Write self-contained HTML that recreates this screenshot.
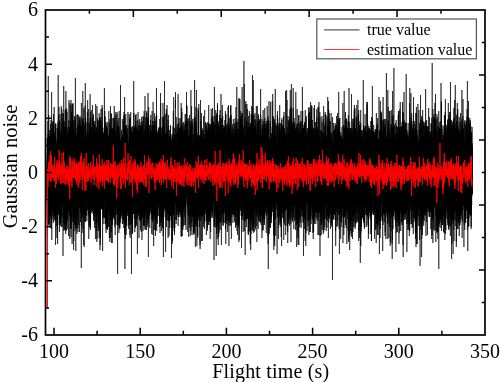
<!DOCTYPE html>
<html><head><meta charset="utf-8"><style>
html,body{margin:0;padding:0;background:#fff;width:500px;height:382px;overflow:hidden}
svg{display:block;will-change:transform}
text{font-family:"Liberation Serif",serif;fill:#000}
</style></head><body>
<svg width="500" height="382" viewBox="0 0 500 382">
<g>
<path transform="matrix(0.017240 0 0 1 47.018 0)" d="M0 172l 1-7 1 15 1 15 1-11 1 14 1-27 1-33 1 47 1 3 1-28 1 3 1 7 1 26 1-23 1-18 1 52 1-23 1 37 1-15 1 14 1-41 1 26 1-39 1 2 1 9 1 60 1-51 1-12 1-4 1 42 1-27 1 13 1-5 1-48 1 48 1-20 1-23 1 38 1-13 1-5 1 1 1 33 1-33 1-33 1 74 1-62 1 19 1 20 1-68 1 32 1 50 1-32 1-13 1 19 1-22 1 19 1-19 1-20 1 55 1-23 1 17 1-15 1 34 1-16 1-9 1-29 1-6 1 64 1-14 1-37 1 68 1-40 1-89 1-19 1 7 1 98 1 1 1-3 1-46 1 51 1-4 1-17 1 13 1 2 1 23 1-28 1 11 1-42 1 14 1 17 1-18 1 26 1-36 1 28 1-16 1 49 1-42 1 52 1 9 1-45 1 16 1-28 1-53 1 79 1-5 1-22 1-7 1 17 1 1 1-24 1 5 1 40 1-24 1-3 1 28 1-34 1 29 1-48 1 21 1 2 1 18 1-12 1 48 1-22 1-39 1 64 1-76 1 66 1-64 1 41 1-42 1 17 1 43 1-72 1-5 1 39 1 6 1-3 1 21 1-54 1 42 1-12 1 19 1-4 1 16 1-65 1 36 1-28 1 24 1 18 1-9 1 6 1-15 1 10 1-2 1 28 1-15 1-63 1 60 1 10 1-36 1-28 1 74 1-32 1 11 1 29 1-64 1 19 1-2 1 21 1-31 1 25 1-10 1 25 1 3 1-66 1 48 1-21 1 8 1 11 1 2 1-30 1 24 1-4 1-4 1-30 1 13 1 8 1 24 1 21 1-60 1 0 1 28 1-17 1-7 1-1 1-2 1 35 1-50 1 71 1-55 1 10 1-10 1-26 1 10 1 68 1 14 1-65 1 48 1-26 1-22 1 64 1 12 1-61 1 5 1 8 1-7 1 23 1 16 1-34 1 21 1 17 1-56 1 15 1-12 1 36 1-9 1 9 1-3 1-28 1 26 1-30 1 1 1-44 1 88 1-58 1 25 1-2 1 37 1-26 1-31 1 22 1-5 1 10 1-37 1 30 1 56 1-39 1 33 1-1 1-36 1-48 1 33 1 32 1-6 1-54 1 25 1 3 1 3 1-2 1-20 1 6 1 9 1 32 1-91 1-16 1 5 1 108 1-29 1-3 1 34 1-79 1 7 1 49 1-31 1 10 1 77 1-74 1 8 1-4 1 30 1-21 1-2 1-35 1 22 1 9 1-40 1 54 1-4 1 36 1-87 1 16 1 1 1 6 1 15 1-3 1 12 1-1 1-7 1-37 1 24 1 16 1 13 1 2 1-58 1 28 1 12 1 10 1 20 1-27 1-24 1 33 1-5 1 0 1-8 1 43 1-34 1 15 1-44 1 42 1-34 1-25 1 48 1 7 1-20 1 5 1 25 1-37 1-40 1 58 1-1 1 21 1-35 1 41 1-4 1-61 1 56 1-51 1-12 1 33 1-8 1-36 1 56 1 10 1 19 1-36 1-37 1 14 1 49 1-2 1-10 1-20 1 13 1-11 1-2 1 15 1-6 1-7 1 8 1-15 1-36 1 33 1 14 1 45 1-53 1 60 1-14 1-58 1 3 1 22 1 40 1-34 1 8 1-34 1-42 1 53 1 26 1 10 1-29 1 3 1 25 1-32 1 32 1-58 1 1 1 0 1 40 1-26 1 17 1 7 1-2 1 25 1 4 1-58 1 25 1-10 1-20 1 70 1-24 1-25 1-6 1 20 1-36 1 21 1 37 1-8 1-44 1 9 1 60 1-83 1 19 1-19 1 44 1-2 1 21 1-94 1 70 1-45 1 57 1-21 1 48 1-34 1-35 1 58 1-60 1 19 1 35 1-14 1-1 1-10 1 12 1 8 1-14 1 19 1 7 1-32 1-24 1 62 1-40 1 17 1 9 1-47 1 35 1-52 1 59 1-30 1 15 1 14 1-35 1 19 1-19 1 17 1 26 1-25 1-4 1-23 1 48 1-22 1 43 1-61 1 44 1 19 1-45 1-30 1 68 1-12 1-8 1 10 1-39 1 30 1-2 1-34 1 35 1-31 1 36 1 7 1 16 1-95 1 56 1-15 1 7 1-5 1 3 1-48 1 76 1 14 1-14 1 8 1-54 1-2 1 46 1 11 1-26 1-45 1 108 1-86 1 41 1-54 1 54 1-20 1 31 1-13 1-61 1 14 1 32 1 12 1 26 1-38 1-10 1 2 1 0 1 26 1-27 1-1 1-34 1-15 1 52 1 16 1-18 1 14 1 4 1-18 1 25 1-42 1 18 1-9 1 11 1 14 1 6 1-18 1 8 1-21 1 7 1 35 1-37 1 36 1-19 1-8 1 46 1-56 1-1 1 8 1 6 1-1 1 16 1-19 1 8 1-17 1 33 1-37 1 3 1 7 1 8 1-26 1 57 1-54 1 5 1-1 1-2 1 26 1-10 1-23 1 5 1 6 1 44 1-52 1-17 1 5 1 19 1 47 1-65 1 28 1 62 1-75 1 48 1-5 1-17 1-49 1 42 1-16 1-38 1 3 1 44 1 4 1 26 1-15 1-28 1 0 1 8 1-23 1 45 1-18 1-20 1 3 1-12 1 17 1 18 1-17 1 35 1 17 1-57 1 16 1-9 1 51 1-34 1 6 1 7 1 36 1-50 1-32 1 14 1 25 1-15 1-20 1 91 1-68 1-17 1-4 1-26 1 14 1 21 1 1 1-13 1 34 1-12 1-25 1-27 1 55 1-3 1-7 1-29 1 35 1-38 1 62 1-20 1 1 1-26 1-6 1 65 1-15 1-32 1 25 1 23 1-66 1 14 1 0 1 25 1-91 1-19 1 7 1 114 1-2 1-27 1 24 1-36 1 11 1 30 1-25 1 11 1-33 1 40 1-5 1-43 1-26 1 6 1 50 1-4 1-34 1 43 1 22 1-29 1-8 1 33 1 21 1-6 1-54 1 37 1-16 1-9 1-10 1 24 1-21 1 35 1-13 1 17 1-56 1 30 1 19 1-10 1-4 1-24 1 60 1-15 1-17 1-75 1 41 1 27 1-21 1-34 1 59 1 3 1-41 1 19 1-5 1 31 1-63 1 6 1 29 1-3 1 70 1-69 1 21 1-16 1-6 1 26 1 35 1-53 1 29 1-11 1 7 1-7 1 51 1-91 1 25 1-22 1-22 1 50 1 47 1-24 1 9 1-19 1-15 1 54 1-60 1 47 1-46 1 10 1 6 1-7 1 12 1 2 1 28 1-43 1-48 1-3 1 16 1 16 1 36 1-55 1 39 1 0 1 6 1-10 1 14 1-9 1 25 1-18 1-68 1 60 1 5 1-20 1-5 1 47 1-23 1-29 1 17 1 3 1-36 1 57 1-20 1 16 1-52 1 89 1-33 1-4 1-31 1 2 1-20 1 76 1-60 1 27 1 10 1-31 1 37 1 30 1-44 1 29 1-22 1-26 1 1 1-32 1 46 1 34 1-20 1 4 1 8 1-43 1 28 1 34 1-68 1 20 1-12 1 7 1-14 1 16 1-31 1 21 1 0 1 0 1 48 1-33 1 2 1-12 1 40 1-77 1 40 1 34 1 12 1-36 1-5 1 16 1-21 1 19 1-31 1 33 1-18 1-26 1-41 1 92 1-14 1 10 1-42 1 50 1-17 1-12 1 25 1-1 1-12 1 42 1-17 1-27 1-14 1 8 1 41 1-34 1-32 1 6 1 17 1 20 1-39 1 31 1 16 1-10 1-58 1 32 1-24 1 42 1-37 1 40 1-11 1-68 1 44 1 32 1-10 1-11 1-23 1 44 1 32 1-37 1-8 1-2 1-31 1 25 1-12 1 49 1-51 1-31 1 34 1 13 1 3 1-42 1 69 1-21 1-14 1-8 1 31 1-19 1 15 1-11 1 7 1 26 1-29 1-23 1 47 1-18 1-24 1 45 1-32 1 32 1-57 1-30 1 7 1 58 1-25 1 16 1 1 1-37 1 73 1-61 1 29 1-38 1 32 1 22 1-25 1-11 1 18 1-12 1 26 1 41 1-78 1 6 1 14 1 2 1-25 1 38 1 55 1 17 1-6 1-42 1-66 1 47 1 12 1-61 1 35 1 31 1-24 1-33 1-7 1 41 1-21 1-8 1 35 1-26 1 10 1 13 1-1 1-14 1 1 1 15 1-4 1-39 1 23 1-17 1-8 1 15 1-43 1 80 1-42 1 29 1-56 1 4 1 94 1-26 1-42 1-3 1 2 1-50 1-18 1 6 1 83 1-29 1 85 1-75 1 43 1-51 1 30 1 17 1-32 1 33 1 0 1 17 1-40 1-13 1-14 1 30 1-30 1 26 1 3 1-17 1-13 1 36 1-2 1-2 1-7 1 26 1-50 1 37 1-22 1 33 1-31 1-1 1 21 1-62 1 42 1-36 1 21 1 42 1-8 1-21 1 10 1 0 1 9 1 39 1-41 1 52 1-67 1 28 1 0 1-13 1-13 1 44 1 8 1-17 1 25 1-28 1-65 1 68 1-44 1 52 1-43 1 16 1-7 1-16 1-31 1 40 1 2 1 29 1-41 1 22 1-28 1 23 1-46 1 96 1-44 1-30 1 32 1 11 1-14 1 29 1-39 1-59 1 33 1 58 1-6 1-12 1-36 1 47 1-4 1-40 1 0 1 32 1 19 1 11 1-22 1 40 1-77 1 36 1-29 1-36 1 18 1 60 1-52 1-7 1 49 1 5 1-22 1 39 1-79 1 99 1-33 1-22 1-1 1-10 1-2 1 12 1-35 1 85 1-55 1 18 1-22 1-2 1 29 1-7 1-82 1-16 1 5 1 24 1-7 1 97 1-45 1-57 1 44 1 15 1 11 1 8 1-8 1 9 1-34 1 30 1 1 1 19 1-29 1 22 1-19 1-31 1 17 1-3 1 3 1 8 1 5 1 4 1-27 1 47 1-62 1 34 1 20 1-7 1 5 1-22 1 23 1-48 1 50 1 38 1-40 1 33 1-50 1-29 1 11 1 51 1-15 1-65 1 37 1 8 1-27 1-36 1 30 1 30 1-6 1-6 1 31 1 12 1-29 1 26 1-23 1-4 1-58 1 82 1-18 1 1 1-16 1-15 1 39 1 9 1 21 1-19 1-37 1 12 1 28 1-17 1-10 1-12 1 28 1-9 1 40 1-17 1-71 1 98 1-48 1-14 1 15 1 11 1-19 1-1 1 2 1 46 1-45 1 19 1-8 1-20 1-11 1-7 1 36 1-36 1-7 1 1 1-6 1 39 1 1 1-26 1 57 1-41 1 19 1-4 1 35 1-22 1-22 1-23 1-3 1 28 1 2 1 17 1-32 1 17 1-22 1-30 1 46 1 38 1-16 1 15 1-7 1-64 1 28 1 45 1-56 1-16 1 42 1 8 1-9 1-16 1-9 1-14 1-1 1 1 1-5 1 18 1 57 1-36 1-12 1 18 1-33 1 33 1 14 1-61 1 20 1 12 1-18 1-4 1 19 1 72 1-46 1-6 1 14 1-31 1-25 1 43 1 17 1-82 1 64 1 20 1-38 1-4 1 29 1-39 1 33 1 11 1-28 1-15 1 36 1-25 1 11 1-75 1 91 1-54 1 37 1 2 1-22 1-5 1-9 1 24 1 24 1-2 1-27 1-1 1-21 1 25 1-17 1-12 1 35 1 43 1-8 1 6 1-77 1 62 1-53 1 16 1-29 1 19 1 28 1 3 1-8 1-2 1 18 1-13 1-42 1 85 1-50 1 30 1-28 1-17 1 23 1-21 1 60 1-69 1 44 1-32 1 12 1 71 1-47 1-25 1-34 1 32 1 1 1 43 1-73 1-10 1 46 1 6 1 36 1-64 1-47 1 51 1-14 1 19 1 39 1-60 1 66 1-26 1-13 1-15 1 12 1 1 1 29 1 14 1-35 1 20 1 15 1-1 1-20 1 35 1-13 1 8 1-47 1-6 1-41 1 90 1-21 1-41 1 29 1 3 1-52 1 52 1 21 1 4 1-42 1 1 1 43 1-10 1-39 1-1 1 31 1-33 1 2 1 60 1-37 1-19 1 25 1 41 1-48 1-27 1-21 1 97 1-124 1 97 1-54 1-7 1 6 1 22 1 33 1-46 1 35 1 46 1-137 1 54 1-28 1 70 1-61 1-3 1 1 1 40 1 30 1-26 1 52 1-13 1-46 1 28 1-21 1-2 1-52 1 16 1 35 1-33 1 52 1-12 1-32 1 55 1-24 1 26 1-37 1-39 1 62 1-25 1 29 1 6 1 2 1-69 1-23 1 48 1 31 1-37 1 27 1-29 1 13 1 0 1-8 1 30 1-4 1 34 1-33 1 25 1-33 1 21 1-27 1-9 1 48 1-16 1 4 1-44 1-24 1 22 1 30 1-46 1 76 1-77 1 55 1 55 1-140 1 28 1 67 1-31 1 10 1-8 1 41 1-21 1-30 1 7 1-25 1 28 1-58 1 79 1-25 1 56 1-17 1-67 1 59 1-38 1 15 1 25 1-18 1 5 1-1 1-32 1 3 1 31 1 9 1-31 1 10 1-29 1-42 1 47 1 22 1 4 1 18 1 1 1 2 1-15 1 0 1-30 1 30 1-5 1 26 1-74 1 29 1-33 1 26 1-18 1 45 1-25 1-51 1 101 1-62 1-13 1 33 1-9 1-13 1 50 1-28 1 33 1-5 1-1 1-13 1-7 1-8 1 49 1-90 1 22 1 11 1 29 1-7 1-17 1 4 1 55 1-64 1 22 1 46 1-75 1 17 1 12 1-39 1 68 1-36 1 66 1 16 1-5 1-76 1 15 1-52 1 64 1-47 1 57 1-51 1 20 1 66 1-68 1 28 1-17 1-52 1 70 1-1 1-67 1 35 1-37 1 32 1 32 1-22 1-34 1 8 1 24 1-1 1 4 1 13 1-67 1 51 1 30 1-17 1-32 1 3 1 20 1 14 1-18 1 45 1-10 1-56 1 34 1-22 1-23 1 15 1 17 1-56 1 39 1 27 1-29 1 9 1 33 1-24 1 6 1 48 1-48 1 3 1 4 1 32 1-34 1-8 1-4 1 33 1-47 1 49 1-27 1-40 1 53 1-5 1-42 1 39 1-3 1-13 1-22 1 86 1-37 1 5 1 2 1-6 1 0 1-30 1 31 1-27 1-7 1 30 1-23 1-40 1 35 1 25 1-15 1 23 1-32 1-15 1 44 1-16 1-35 1 43 1-18 1 31 1-5 1-8 1-69 1 66 1-87 1-18 1 6 1 72 1 12 1-48 1 47 1-32 1 30 1-8 1 53 1-34 1-2 1 5 1 49 1-78 1 32 1 2 1-5 1-1 1-16 1 43 1-9 1-31 1 70 1 16 1-5 1-52 1-20 1-32 1 58 1-67 1 18 1 33 1-32 1 58 1 7 1-11 1-23 1-2 1 5 1-16 1 57 1-67 1 49 1-19 1-7 1 19 1 6 1-10 1-25 1-16 1 1 1 40 1-5 1 3 1-35 1 64 1-84 1 44 1 8 1-29 1-18 1 18 1-19 1 24 1-28 1-1 1 35 1-40 1 33 1 2 1 26 1-16 1-28 1 54 1-50 1 8 1 1 1 64 1-54 1-19 1 36 1-22 1 64 1-79 1 35 1-40 1 70 1-65 1 24 1-27 1 44 1-8 1-73 1 79 1-3 1-11 1 19 1-57 1-14 1 63 1 26 1-75 1 2 1 7 1-8 1 52 1-18 1 31 1 1 1-62 1 43 1-76 1 57 1 18 1-37 1-26 1 34 1 44 1-41 1-26 1 48 1 7 1-46 1 23 1 32 1-19 1 10 1-27 1 5 1-27 1 11 1 59 1-51 1-13 1 12 1-15 1 41 1 10 1-48 1 51 1 28 1-82 1 45 1-11 1 28 1-1 1-5 1-20 1-19 1 69 1-79 1 50 1-3 1-45 1 19 1 38 1-87 1 70 1-29 1 1 1-31 1 48 1-37 1 45 1-48 1 48 1-10 1-58 1 40 1 6 1-55 1 48 1 30 1-39 1 49 1-60 1-2 1 46 1 2 1-21 1 4 1 26 1-40 1 67 1-41 1-1 1-3 1-15 1 39 1-47 1 20 1 12 1 19 1-5 1-40 1 34 1-26 1-26 1 1 1-14 1 48 1 20 1-54 1 19 1-21 1 28 1-30 1 9 1 3 1 6 1 2 1 5 1 0 1-20 1 39 1-58 1 47 1-28 1 28 1 4 1-59 1 60 1 25 1-14 1-10 1-64 1 50 1-19 1 50 1-35 1-8 1-29 1 64 1-33 1 8 1 34 1-26 1 6 1 53 1-75 1 2 1 25 1 23 1-73 1 32 1-20 1-10 1 50 1-34 1 27 1-5 1 1 1-2 1-29 1 25 1 7 1 4 1-16 1 32 1-11 1-11 1 13 1-11 1 12 1-67 1 17 1 23 1 13 1-58 1 48 1 11 1-10 1 0 1-29 1 37 1-55 1 77 1-40 1 43 1-72 1 55 1-7 1-25 1-9 1 61 1-20 1 27 1-39 1 6 1 6 1 9 1-8 1 10 1-33 1-26 1 89 1-47 1 8 1-23 1 37 1-21 1 23 1-44 1 15 1 7 1-14 1 16 1 33 1-55 1 8 1 11 1-29 1-6 1 60 1-8 1-60 1 3 1 55 1 12 1-14 1-4 1 28 1-41 1 33 1-1 1-55 1 41 1-16 1-18 1-4 1 29 1-10 1 23 1-66 1 28 1 45 1-29 1-18 1 6 1-35 1 12 1 112 1 19 1-7 1-95 1 3 1-66 1 67 1 56 1-36 1-20 1 35 1-10 1-13 1-18 1 13 1 18 1-43 1 34 1-1 1 23 1-15 1-37 1 58 1-40 1-20 1 28 1-16 1 35 1-62 1 5 1 22 1 52 1-19 1-52 1-19 1 37 1-25 1 48 1-11 1-5 1-10 1 50 1-64 1-10 1 64 1 5 1-44 1 26 1 44 1-81 1 16 1 17 1-67 1 51 1 23 1-22 1 29 1-7 1-29 1 24 1-3 1-54 1 20 1 2 1 7 1 1 1-25 1 38 1-48 1 72 1-18 1 29 1-27 1-22 1-24 1 55 1-18 1 10 1 10 1 11 1-32 1 46 1-47 1 2 1 17 1 10 1 9 1-101 1-16 1 5 1 61 1 25 1 20 1-56 1-18 1 69 1-17 1-35 1 19 1-43 1 66 1-28 1 46 1-86 1 72 1 38 1-53 1 0 1-53 1 58 1-8 1-16 1-25 1 42 1-28 1 13 1 21 1-9 1 1 1 24 1-55 1 67 1-66 1 6 1 27 1 17 1-14 1-18 1-7 1 12 1-18 1 40 1-21 1 47 1-60 1 16 1 14 1-40 1 12 1 90 1-74 1 39 1-65 1-37 1 78 1-15 1 8 1-16 1-7 1-17 1 59 1-66 1 64 1-31 1-22 1 11 1 43 1-6 1-7 1-10 1-31 1 63 1-46 1-3 1 1 1 3 1-28 1 27 1 72 1 15 1-5 1-21 1-81 1 39 1 1 1 17 1 24 1-39 1 8 1-30 1 50 1-74 1 30 1 13 1 12 1 2 1 9 1-15 1-15 1 5 1 32 1-30 1 16 1-27 1-43 1 31 1 25 1 33 1-5 1 7 1-62 1 38 1-21 1 18 1-19 1-34 1 54 1-9 1 12 1-43 1 49 1 3 1 6 1 1 1-49 1-54 1 92 1-50 1 18 1 35 1-21 1-2 1 12 1-67 1 99 1-59 1 1 1 23 1-18 1-19 1 19 1-7 1-61 1-18 1 6 1 25 1 33 1-1 1 63 1-33 1 17 1-5 1-40 1 45 1-17 1 46 1-45 1-7 1 21 1 0 1-67 1 80 1-4 1-7 1-51 1-24 1 46 1 27 1-7 1-39 1 51 1-61 1 1 1 35 1-15 1-3 1-20 1 67 1-58 1 40 1 10 1-22 1 8 1 20 1 16 1-17 1-62 1-13 1 34 1-14 1 44 1-12 1-9 1 35 1-2 1-28 1 11 1 19 1-37 1 16 1-33 1 27 1 7 1-11 1 8 1 13 1-7 1-30 1 3 1-17 1 77 1-33 1 0 1-15 1 16 1 2 1-34 1 16 1 35 1-65 1 9 1 40 1-36 1 40 1-47 1 34 1 15 1-11 1 10 1-24 1 0 1 4 1 15 1-9 1-8 1 51 1-55 1-23 1 22 1 18 1-6 1-1 1 11 1 1 1 8 1-54 1 31 1-25 1 31 1-8 1 6 1-16 1-10 1 15 1 24 1 3 1-63 1 50 1 0 1-45 1 10 1 14 1 24 1-71 1 50 1-4 1 19 1 32 1-2 1-45 1 0 1 17 1 24 1 7 1-29 1 29 1-61 1-6 1-43 1 50 1 38 1 7 1-41 1 34 1-11 1-29 1 9 1 0 1 10 1-12 1-20 1 65 1-16 1 24 1-77 1 8 1 14 1 50 1-35 1 11 1-9 1 7 1-18 1 24 1-32 1 15 1 14 1-5 1 9 1-32 1 27 1-14 1 18 1 28 1-62 1 51 1-45 1 7 1 53 1-18 1-11 1 8 1 9 1-50 1 26 1-16 1 21 1-19 1 27 1-19 1-15 1 13 1 13 1 16 1-32 1-4 1 15 1 13 1-33 1-50 1 71 1-16 1-1 1 76 1-70 1 22 1-54 1 42 1 14 1-15 1-10 1 19 1-13 1 33 1-29 1-25 1-31 1 32 1 12 1-24 1 4 1-16 1 15 1 31 1-10 1 2 1-3 1 2 1 26 1 34 1-37 1 35 1-54 1 1 1 44 1-61 1-5 1 20 1-40 1-6 1 80 1-58 1 15 1 1 1-14 1 43 1-3 1 6 1-2 1-17 1 35 1-11 1-41 1 16 1-11 1 58 1-28 1-6 1-15 1 16 1-40 1 26 1-2 1 0 1-18 1 31 1-41 1 17 1 8 1 2 1-12 1-13 1 2 1 15 1-13 1 19 1-29 1 33 1 53 1-88 1-29 1-15 1 5 1 96 1-77 1 42 1 53 1-55 1 25 1-60 1 77 1 30 1-59 1 10 1 2 1 45 1-66 1-33 1 93 1-80 1 45 1-75 1 49 1 16 1-33 1 15 1 29 1-34 1 32 1 33 1-99 1 61 1 7 1-24 1 49 1-6 1-22 1 1 1-15 1-27 1 41 1-25 1-3 1 43 1-33 1 30 1-52 1 16 1 11 1 35 1-37 1 22 1-38 1 22 1 17 1-44 1 5 1 34 1-45 1 37 1 0 1-11 1 23 1-8 1-7 1-44 1 1 1 45 1-48 1 43 1-11 1-13 1 15 1-55 1 56 1 37 1-64 1 44 1-3 1 9 1-42 1 4 1 1 1-5 1-18 1 45 1-26 1 44 1-10 1-37 1 17 1 45 1-44 1 14 1 17 1-33 1 22 1 30 1-12 1-74 1 84 1-44 1-10 1-1 1 48 1-23 1-12 1-17 1 37 1 13 1-55 1-3 1 19 1 25 1-26 1 8 1-19 1 54 1-35 1 7 1 24 1-34 1 5 1 11 1-21 1 47 1-35 1-13 1 4 1-20 1 58 1 8 1-45 1-5 1-43 1 39 1 38 1-43 1 42 1 17 1-106 1 59 1-10 1 4 1-32 1 39 1-24 1 58 1 9 1-72 1-1 1 24 1 8 1 1 1 22 1-57 1 23 1 3 1 4 1-17 1 14 1-7 1 50 1-44 1-43 1 70 1-10 1-26 1-2 1 8 1 58 1-54 1 43 1-9 1-36 1 22 1-28 1 29 1-28 1 1 1 42 1-7 1 11 1-14 1 15 1-12 1-11 1 20 1 11 1-1 1-47 1 10 1-25 1 0 1 35 1-26 1 55 1-96 1 28 1 36 1 24 1-39 1 58 1-28 1-40 1 18 1 14 1-37 1 51 1-34 1 20 1 9 1-33 1 37 1-74 1 64 1-67 1 80 1-44 1 46 1 4 1-39 1-13 1 50 1-63 1 51 1-24 1-6 1-6 1 62 1-88 1 27 1 25 1 16 1 17 1-8 1-50 1 23 1 21 1-16 1-54 1 49 1 7 1-50 1 23 1 10 1 17 1 24 1-9 1-18 1-7 1-15 1-5 1 9 1 0 1 31 1 30 1-42 1 11 1-8 1-9 1 24 1-3 1-26 1-5 1 19 1-29 1 18 1 21 1-28 1-47 1 66 1-48 1-5 1-3 1 60 1-73 1 49 1 9 1-1 1-21 1 14 1 6 1-38 1 52 1 8 1-47 1 2 1-10 1 56 1-55 1 15 1-33 1 78 1-38 1 13 1 33 1-22 1-47 1 41 1 6 1-41 1-3 1 0 1 46 1-19 1-28 1 43 1 3 1-41 1-19 1 70 1 37 1-29 1-11 1-23 1-19 1 19 1 15 1-22 1 28 1-23 1 15 1-85 1 47 1 43 1 4 1-14 1 31 1-24 1 0 1-41 1 33 1 10 1 14 1-4 1-29 1 4 1-35 1 46 1-44 1 21 1 7 1 51 1-18 1-53 1-16 1 30 1-14 1 30 1-1 1 8 1-43 1 17 1 15 1 2 1-23 1 6 1 30 1-66 1 38 1 6 1-38 1 12 1 29 1-16 1 41 1-11 1 42 1-90 1 80 1-66 1 39 1 4 1-20 1-12 1-9 1-30 1 36 1-13 1 38 1-34 1 15 1 15 1-9 1-1 1-6 1-6 1 24 1 6 1-39 1 63 1-28 1-55 1 109 1-52 1-35 1 60 1-109 1 133 1-103 1-4 1 17 1 29 1-15 1 33 1-44 1 49 1-21 1-33 1 54 1-19 1-14 1 39 1-64 1 21 1 47 1-37 1 18 1-3 1-18 1 20 1-43 1 43 1-44 1 27 1-24 1 36 1 0 1 16 1-44 1-10 1-30 1 21 1 27 1 12 1-16 1 11 1-38 1 13 1 46 1-4 1-53 1 28 1 13 1-36 1 40 1-2 1 4 1 39 1-73 1 54 1-17 1 5 1-38 1 20 1-2 1 44 1-41 1 35 1-45 1-2 1 10 1-53 1 39 1-2 1 12 1 8 1-29 1-4 1 62 1-61 1 14 1-11 1 13 1 44 1-2 1-77 1 40 1 43 1-45 1 18 1 38 1 11 1-17 1-48 1 8 1 5 1-14 1-8 1 70 1-47 1 14 1 10 1-17 1-11 1 3 1 31 1-25 1-64 1 79 1 16 1-51 1-8 1 4 1 40 1-54 1 46 1 9 1-14 1-13 1-21 1 2 1 17 1-25 1 22 1-21 1 60 1 4 1-60 1 55 1-28 1-5 1 10 1-1 1-47 1 101 1-88 1-37 1 59 1 1 1-19 1-29 1 78 1-33 1 7 1-19 1 10 1-12 1 27 1-12 1 19 1 0 1-14 1 0 1 27 1-71 1 44 1 32 1-64 1 48 1-33 1 14 1-7 1 2 1 19 1-16 1-51 1 110 1-59 1-10 1 39 1 8 1-91 1 65 1-63 1 40 1 12 1-11 1-4 1-14 1 19 1 8 1-1 1 66 1 16 1-5 1-56 1-25 1 25 1-7 1 15 1-18 1-17 1-15 1 25 1-53 1 55 1-35 1 8 1 13 1 25 1 60 1-69 1-8 1-45 1 85 1-85 1 56 1-25 1 84 1-69 1 12 1-26 1 15 1 32 1-54 1 7 1 2 1-10 1-3 1 29 1 34 1 1 1-70 1 16 1 16 1 14 1-12 1 0 1 9 1 9 1-73 1 50 1 21 1 18 1-15 1-37 1-1 1 25 1-7 1 9 1 21 1-62 1 24 1-54 1 83 1-16 1-26 1 29 1 29 1-11 1-27 1-6 1 11 1-28 1 0 1 17 1 8 1 7 1-21 1-9 1 22 1-10 1 20 1 28 1-11 1-45 1 8 1-29 1 39 1-21 1-12 1 9 1 41 1-11 1-8 1 29 1-38 1-14 1 39 1-63 1 58 1-2 1 1 1 12 1-29 1 10 1-42 1 27 1 2 1 19 1 31 1-34 1 19 1-46 1 25 1-43 1 24 1-3 1 16 1 0 1-11 1-7 1 42 1-31 1-55 1 70 1 4 1 11 1 20 1-68 1 29 1-6 1-40 1-17 1 87 1-50 1 11 1 6 1-2 1 13 1-41 1 25 1 7 1-24 1 9 1 12 1 3 1-37 1 32 1 16 1 19 1-13 1 18 1 36 1 16 1-5 1-74 1-16 1 12 1 29 1-57 1 50 1 14 1-4 1-27 1-26 1-5 1 25 1 36 1-14 1 7 1-19 1 41 1-48 1-14 1 20 1-15 1 36 1 13 1-21 1-46 1 3 1 38 1-42 1 39 1-47 1 26 1 24 1-32 1 40 1 5 1 13 1-44 1 8 1 0 1 9 1-47 1 47 1 8 1-51 1-4 1 28 1 53 1-29 1-31 1 15 1-39 1 75 1-53 1 34 1-51 1 36 1-28 1 43 1 20 1-8 1-13 1 11 1-57 1-4 1 27 1 34 1-23 1 14 1-55 1 29 1-4 1 23 1 41 1-32 1 9 1-38 1 7 1 23 1-11 1-50 1 65 1-1 1-18 1 12 1-6 1-25 1-31 1 90 1-45 1-2 1 4 1 2 1 4 1-34 1 37 1-8 1-3 1-3 1 7 1-30 1 26 1-68 1-17 1 6 1 100 1 6 1-32 1 23 1 9 1-34 1-7 1 59 1-89 1 43 1 3 1-30 1 26 1 17 1-72 1 84 1-25 1-24 1 49 1-25 1-12 1-52 1 84 1-21 1-18 1 14 1 33 1-41 1 8 1-9 1-18 1 3 1 16 1 3 1 36 1-25 1-9 1 16 1-13 1 24 1-61 1-16 1 66 1-21 1 17 1-39 1 21 1 10 1 7 1-9 1 29 1-43 1 36 1-32 1 10 1-25 1 29 1-27 1 50 1-39 1 21 1-10 1 3 1-23 1 76 1-60 1 47 1-70 1 82 1-25 1 18 1-86 1 76 1-36 1 16 1 33 1-38 1-26 1 22 1-29 1 34 1-10 1 10 1-18 1-40 1 39 1 4 1 21 1 4 1-57 1 66 1-5 1-21 1 8 1-61 1 111 1-70 1-9 1 47 1-12 1-28 1-30 1 65 1 17 1-66 1-14 1 48 1 48 1-94 1 43 1-34 1 30 1 8 1 2 1-49 1 1 1 92 1-31 1-70 1 55 1 26 1-36 1 3 1 0 1 10 1-5 1 4 1-20 1 29 1-13 1-4 1-37 1 24 1 12 1-16 1 3 1-17 1 14 1-33 1 12 1 36 1 9 1-33 1 9 1 16 1 36 1 9 1-56 1-11 1-1 1 54 1-60 1 40 1-23 1-1 1 31 1-5 1 38 1-30 1 23 1-58 1 10 1-22 1 14 1 26 1-25 1 19 1-26 1 7 1 34 1-26 1-1 1 9 1-31 1-21 1 54 1 0 1 48 1-54 1 8 1 44 1-63 1-8 1 34 1-9 1 15 1-44 1 59 1-31 1-59 1 49 1-11 1 16 1 27 1-30 1-11 1 37 1-35 1-24 1 5 1 68 1-15 1 16 1-69 1 12 1-3 1 41 1 8 1-32 1-1 1 24 1-25 1-13 1 11 1 32 1 28 1-48 1-11 1 11 1 5 1 6 1-36 1 20 1-5 1 28 1-9 1-20 1 30 1 7 1-24 1-39 1 26 1-33 1 41 1 4 1 28 1-21 1-51 1 28 1-10 1 0 1 19 1 5 1-9 1-14 1 6 1-1 1 9 1 23 1-13 1 18 1-50 1 80 1-49 1-67 1 70 1 21 1-29 1-34 1 38 1-20 1 13 1 12 1 4 1-15 1 15 1-1 1-22 1-1 1-9 1 16 1 40 1-50 1 21 1 0 1 31 1-24 1 4 1-18 1 37 1-39 1-2 1 32 1-12 1 6 1-46 1 89 1-57 1 34 1-31 1-33 1 38 1-20 1 25 1-71 1 26 1-6 1 64 1-6 1-56 1 33 1 1 1-15 1 41 1-52 1 19 1-12 1 30 1-31 1 32 1-43 1-5 1 6 1 10 1-3 1 86 1-91 1 29 1-10 1 10 1 28 1-22 1-30 1-20 1 53 1 7 1-61 1 60 1-76 1 52 1 24 1-48 1-18 1 80 1-77 1 48 1-46 1 48 1 31 1-53 1-11 1-30 1 9 1 27 1 24 1 7 1-6 1 14 1-14 1 58 1-70 1 5 1-67 1 47 1 32 1-27 1 46 1-16 1 33 1-85 1 21 1 46 1-29 1-26 1 12 1 3 1 32 1-6 1-19 1-21 1 45 1 7 1-58 1 53 1-51 1 21 1-16 1-22 1 27 1-2 1 43 1-6 1-34 1-23 1 4 1-24 1 52 1 2 1-20 1 25 1 2 1 25 1-52 1 53 1-41 1 50 1-65 1 55 1-48 1 62 1-29 1-42 1 51 1-22 1 14 1 47 1-67 1-4 1 40 1-43 1 35 1 5 1-26 1 18 1-76 1 99 1-59 1-7 1 76 1-6 1-59 1 27 1-22 1-20 1 39 1 18 1 43 1-76 1 29 1-32 1 3 1 41 1-80 1 17 1 6 1 52 1-20 1 4 1-4 1 18 1-40 1 6 1-4 1 23 1-47 1 29 1 75 1-54 1-15 1-26 1 32 1-1 1 11 1-35 1 29 1 4 1 4 1-34 1 28 1 30 1-60 1 35 1-28 1 0 1-21 1 4 1 41 1-10 1 29 1-77 1 32 1-24 1 44 1 44 1-92 1 37 1-1 1 2 1-15 1 3 1 54 1-68 1 41 1-1 1-57 1 21 1 32 1 39 1-52 1-9 1 16 1 30 1-12 1 12 1-38 1-16 1-5 1 45 1-25 1-8 1 28 1-10 1-58 1 49 1-17 1 34 1-13 1 46 1-44 1-31 1-24 1 24 1 13 1 16 1 17 1-11 1-20 1 36 1-45 1 50 1 20 1-19 1 16 1-7 1-65 1 35 1-11 1-24 1-3 1 45 1-47 1 25 1 9 1-11 1 48 1-16 1-18 1-18 1 25 1-6 1-28 1-12 1 17 1-13 1 43 1-3 1-16 1 16 1 6 1-56 1 48 1 19 1-37 1-35 1 45 1-29 1 43 1 1 1 5 1-14 1-51 1 77 1-72 1 68 1-19 1-28 1 5 1 9 1 50 1-52 1 36 1-93 1 72 1-10 1 34 1-17 1 21 1-59 1 32 1-21 1 32 1-5 1-46 1 59 1 21 1-57 1 40 1-18 1-35 1 45 1-44 1 40 1-56 1 4 1 47 1-7 1 16 1-27 1-24 1 67 1-61 1 58 1-12 1 23 1-100 1 53 1-5 1 24 1-45 1 82 1-55 1-56 1 66 1-10 1-17 1 38 1-21 1-24 1 19 1-4 1 18 1-17 1 7 1-36 1 19 1 25 1 56 1-81 1-1 1 43 1 28 1-22 1-53 1 51 1-16 1-17 1-26 1 32 1 2 1 12 1-56 1 14 1 30 1 33 1-15 1-35 1 33 1-41 1 13 1 2 1-9 1 4 1 35 1-14 1-69 1 92 1-19 1-40 1 32 1 16 1 14 1-48 1-13 1-10 1 35 1-25 1 53 1-31 1 22 1-22 1-15 1-8 1 53 1-58 1 45 1 14 1-22 1 33 1-38 1-7 1 13 1-19 1 22 1-9 1 38 1-39 1 23 1-10 1-9 1-7 1 47 1-2 1-33 1-20 1 3 1-13 1-11 1 21 1 13 1 26 1-2 1-12 1-19 1 1 1 5 1 4 1-20 1 11 1-2 1 0 1 22 1 12 1-39 1 2 1 16 1 5 1-69 1 78 1-14 1-12 1 36 1-33 1-43 1 22 1 8 1 1 1 13 1-22 1 29 1 6 1-13 1-21 1 15 1-9 1 70 1-83 1-30 1 26 1 43 1 13 1-29 1 33 1-44 1 32 1-38 1-11 1 88 1-60 1 25 1 19 1-21 1-10 1-32 1 66 1-67 1-24 1 36 1 1 1 15 1 30 1-44 1 4 1-9 1 100 1 20 1-7 1-135 1 75 1-5 1-20 1 7 1-34 1 26 1-53 1 5 1 20 1 29 1-25 1-5 1 48 1-36 1-10 1 13 1-35 1 9 1 53 1-25 1 25 1-36 1 37 1-46 1 14 1-15 1 28 1 34 1-83 1 50 1-40 1 24 1-6 1-30 1 39 1-28 1 75 1-61 1 29 1-3 1-4 1-8 1-34 1 90 1-49 1 20 1-48 1 40 1-22 1 22 1-28 1-9 1 37 1-12 1 38 1-44 1-15 1 37 1-43 1 82 1-6 1-12 1-23 1-13 1 3 1-1 1-20 1 31 1 20 1 0 1-87 1 115 1-56 1-42 1 25 1 34 1-22 1-22 1-9 1 55 1-43 1 13 1-22 1-7 1 44 1 29 1-48 1-35 1 28 1 12 1-56 1 88 1-50 1 38 1-16 1-1 1-36 1 63 1-11 1 27 1-53 1 24 1-22 1 38 1-18 1-36 1 31 1-21 1 3 1 23 1 31 1-66 1 21 1-21 1 77 1-9 1 13 1-33 1-49 1 12 1 15 1-4 1-16 1 27 1-18 1 7 1 60 1-47 1-44 1 45 1-7 1 12 1-3 1-41 1 35 1 20 1-19 1 7 1 36 1-4 1-67 1 2 1 68 1-71 1 10 1 32 1-39 1 60 1-11 1 7 1-9 1-51 1 57 1-5 1-5 1-30 1 14 1-31 1 41 1 15 1-21 1-13 1 25 1-32 1-62 1-18 1 6 1 47 1 51 1 6 1 6 1-38 1-3 1 17 1-5 1-32 1 11 1 58 1-36 1-3 1-15 1 24 1 11 1-5 1 34 1-45 1 15 1-28 1 39 1-16 1 14 1 3 1-46 1 30 1-23 1 40 1-31 1 46 1-31 1 0 1-27 1 10 1 9 1-26 1 17 1-9 1-6 1 21 1 6 1-16 1 19 1-20 1-19 1 7 1 31 1 24 1-32 1 2 1-32 1 39 1-5 1-24 1 31 1-8 1-48 1 5 1 23 1 9 1 32 1-40 1 13 1-4 1 19 1-13 1 4 1-12 1-29 1 27 1 52 1-17 1 15 1-20 1-35 1 4 1 26 1-22 1 26 1 17 1 0 1-14 1-59 1 71 1-66 1-2 1 38 1-3 1 15 1-16 1-17 1 17 1-26 1-5 1 22 1 0 1 10 1-10 1 37 1-39 1 6 1 27 1-77 1 80 1-3 1-29 1 57 1-30 1 19 1-14 1-22 1-11 1-20 1 7 1-10 1 16 1 27 1-41 1 41 1 4 1-55 1 19 1 14 1-13 1-4 1 58 1-33 1 28 1-33 1 20 1-52 1 22 1 34 1-21 1 31 1-32 1-13 1 7 1 57 1-41 1-22 1 5 1-22 1 63 1-47 1 31 1-22 1-5 1-8 1 33 1-20 1 35 1 6 1-50 1 15 1 41 1-20 1-23 1-39 1 13 1 6 1 67 1-44 1-14 1 2 1-1 1 17 1-51 1 7 1 40 1 23 1-78 1 67 1-45 1-18 1 73 1-31 1 16 1-22 1 5 1-42 1 35 1 15 1-29 1 36 1 2 1-67 1 79 1-8 1-14 1 28 1 27 1-81 1 47 1-6 1-4 1 15 1 3 1-32 1-58 1 43 1 0 1 58 1-38 1 29 1-50 1 26 1-7 1 3 1 13 1 24 1-54 1 51 1-6 1-22 1 10 1-25 1-19 1 20 1 1 1 4 1-21 1 70 1-57 1 33 1 8 1-32 1 10 1-25 1-13 1 88 1-58 1-52 1 28 1-40 1-15 1 6 1 100 1-47 1-7 1 44 1-12 1-14 1 52 1-36 1-51 1-14 1 59 1-50 1 61 1 7 1 37 1 17 1 20 1-7 1-97 1 4 1 51 1-85 1 48 1-5 1 53 1-81 1-1 1 41 1-18 1-8 1-15 1 22 1-41 1 50 1 10 1-4 1 53 1-44 1-47 1 19 1 28 1-30 1 61 1-45 1-21 1-4 1 38 1-44 1-24 1 59 1-30 1 59 1 10 1-66 1 15 1-4 1 20 1-8 1-28 1-23 1 49 1 37 1-75 1 17 1-2 1 13 1-55 1 58 1-11 1 61 1-33 1 2 1-16 1-10 1 28 1-64 1 72 1-16 1-17 1 38 1-47 1-1 1 23 1-56 1 47 1-5 1 32 1 18 1-27 1-8 1 4 1-32 1 81 1-32 1 18 1-82 1 49 1-1 1 15 1-51 1 33 1-16 1 58 1-82 1 20 1-4 1-18 1 37 1-1 1-23 1 8 1 17 1-7 1 14 1-32 1-5 1 24 1-49 1 88 1-33 1-50 1 55 1 30 1-77 1 22 1 45 1-51 1 46 1 8 1-30 1 8 1 16 1-19 1 17 1-28 1 2 1-19 1 30 1 23 1 0 1-28 1-46 1 18 1 38 1-41 1 55 1-56 1 36 1-30 1 4 1 23 1-16 1 36 1-25 1-30 1-4 1 14 1 15 1 29 1-54 1 70 1-22 1-30 1 41 1-71 1 11 1 43 1 0 1 20 1 2 1-48 1-4 1 7 1 2 1 21 1-24 1 48 1-39 1-37 1 4 1 46 1-4 1-44 1-10 1 84 1-27 1-17 1-26 1 53 1-38 1 24 1-69 1 51 1 14 1 5 1-36 1 10 1 46 1-34 1 40 1-15 1 14 1 1 1-17 1 8 1-39 1-7 1 27 1 23 1-50 1 73 1-2 1-69 1 2 1-9 1 31 1 27 1-19 1-28 1 34 1-1 1 18 1-6 1-52 1 10 1 42 1-2 1-14 1-29 1 45 1-26 1 51 1-23 1-43 1-13 1 54 1-10 1-41 1 31 1 4 1-28 1 9 1-24 1 8 1 36 1-12 1-2 1 34 1-10 1-50 1 66 1-67 1 18 1 11 1-17 1 1 1-19 1 42 1-5 1 1 1-55 1 24 1 48 1-15 1 10 1-19 1-5 1-54 1 107 1-74 1 15 1 30 1-15 1 9 1-14 1-24 1 65 1-73 1 43 1-48 1 28 1-21 1 17 1-14 1 27 1 23 1-39 1-1 1-36 1 106 1-46 1-33 1 60 1-27 1-60 1 18 1 59 1-59 1 6 1 10 1 11 1 3 1 29 1-9 1-33 1 16 1-44 1 56 1 53 1-53 1-16 1-3 1 9 1 22 1-59 1 55 1-35 1 26 1 23 1-67 1 101 1-43 1-33 1 20 1-28 1 22 1 9 1-68 1 62 1-2 1 24 1-9 1-36 1 3 1 14 1 18 1-36 1 62 1-35 1-2 1 15 1-26 1 21 1 4 1-67 1 27 1-12 1 30 1-24 1 5 1-11 1-30 1 67 1-13 1 8 1 50 1-15 1-37 1-16 1 32 1-45 1-3 1 43 1-47 1-8 1 33 1 37 1-63 1 42 1 5 1-12 1 16 1-41 1 8 1-12 1 17 1 35 1-16 1-27 1 33 1-23 1 19 1 9 1-45 1 10 1 20 1 5 1-16 1-11 1 2 1 27 1-19 1-10 1 2 1 9 1 33 1-3 1 62 1 20 1-7 1-110 1 19 1-4 1-45 1 61 1-23 1-33 1 32 1 61 1-62 1 19 1-7 1-30 1 15 1 19 1-29 1 11 1 9 1-5 1 1 1 15 1 3 1-12 1 25 1 8 1-66 1 40 1-6 1 3 1-4 1 0 1-1 1 22 1-44 1 41 1-44 1 76 1-22 1-53 1 29 1 14 1-27 1 36 1-28 1 58 1-45 1 5 1-30 1-9 1 44 1-63 1 57 1 37 1 9 1-101 1 42 1 14 1 3 1 9 1-63 1 37 1-49 1 52 1 55 1-82 1 31 1-3 1-47 1 47 1-36 1 30 1 19 1-33 1 29 1-47 1 7 1 23 1-14 1 1 1 22 1-31 1 29 1-21 1 40 1-27 1-8 1 31 1-10 1 3 1-32 1 37 1-30 1-28 1 30 1 51 1-45 1-23 1 34 1-36 1 12 1 5 1 18 1 6 1-6 1-8 1-12 1 2 1 19 1-9 1-9 1 52 1-22 1 1 1-16 1 2 1 0 1 16 1-40 1 10 1 49 1-42 1 29 1-73 1 56 1-2 1-82 1-19 1 7 1 44 1 34 1-15 1-8 1 54 1-68 1 25 1-7 1 47 1-43 1 10 1 25 1-73 1 44 1 21 1-11 1-18 1-6 1 14 1-16 1-7 1 70 1-19 1 11 1-27 1-34 1 20 1 44 1-19 1-34 1 40 1-12 1-10 1 55 1-67 1 11 1-6 1 40 1-5 1-5 1-21 1 4 1-1 1-43 1 12 1 52 1-1 1-61 1 52 1-43 1-6 1 55 1-7 1-9 1 24 1 3 1-15 1-32 1 34 1-7 1 7 1 23 1-73 1 98 1-43 1-31 1 50 1-52 1-16 1 54 1-27 1 34 1-42 1 11 1-4 1-29 1 23 1-23 1 19 1 47 1-38 1-6 1 50 1-71 1 32 1-7 1 32 1-25 1-6 1 16 1-10 1 57 1-90 1 64 1 27 1-31 1-4 1-35 1 38 1-31 1 32 1-82 1 43 1-36 1 76 1-43 1 42 1-40 1-2 1 58 1-12 1 1 1 9 1-20 1 6 1 12 1-39 1-12 1 48 1-20 1-14 1 6 1 12 1-39 1-1 1 5 1 23 1-57 1 6 1 56 1-8 1-33 1 51 1-31 1 9 1 19 1-12 1 35 1-27 1 38 1-110 1 20 1 7 1 23 1-17 1-7 1 6 1 3 1 47 1-35 1 25 1 17 1-1 1-41 1-16 1 63 1-81 1 8 1 47 1 2 1-10 1-27 1 35 1 19 1-37 1 62 1-57 1-26 1 22 1-13 1 8 1-6 1 15 1 25 1-16 1-4 1-34 1-9 1 31 1 30 1-1 1-14 1-40 1 27 1 10 1 18 1-42 1 15 1 9 1-4 1-41 1 48 1-48 1 12 1 30 1-21 1 26 1 18 1-15 1 17 1-37 1 13 1-14 1-7 1 13 1 0 1 55 1-51 1 27 1-25 1-33 1 79 1 22 1 16 1-6 1-92 1 16 1 14 1 5 1 24 1-32 1 36 1-23 1-14 1 0 1-7 1 24 1-40 1 26 1 23 1-15 1-11 1-31 1 9 1 21 1-9 1-5 1-47 1 68 1-28 1-6 1 43 1-29 1 0 1 17 1-27 1-12 1-3 1 34 1-9 1-56 1 89 1-34 1-17 1 19 1-13 1 12 1-15 1-13 1 38 1-11 1 7 1 9 1-10 1 29 1-49 1-24 1 0 1 11 1 57 1-64 1 58 1-17 1-49 1 75 1-49 1 14 1 11 1 19 1-33 1 22 1-38 1-5 1 67 1-23 1-4 1 22 1-2 1-31 1 8 1 37 1-29 1-27 1 45 1-8 1-64 1 7 1 75 1-7 1-44 1 40 1-24 1 5 1-26 1 80 1-9 1-25 1-58 1 30 1 40 1-56 1-6 1 25 1 2 1-20 1-20 1 28 1-10 1 15 1 8 1 14 1-30 1 14 1-1 1-30 1 11 1-10 1 63 1-55 1 30 1 5 1 1 1-53 1 10 1 40 1 11 1-30 1 12 1-54 1 80 1 10 1-41 1-7 1-3 1-16 1-34 1 62 1 6 1 31 1-52 1-15 1 28 1-37 1 30 1-38 1 30 1 36 1-11 1 23 1 5 1-51 1-16 1-28 1 52 1 5 1 22 1-54 1 15 1 26 1-33 1 3 1 63 1-68 1 16 1 14 1 0 1-55 1 5 1-7 1 76 1-13 1-40 1 55 1-13 1 28 1-94 1 20 1 16 1 6 1 16 1 0 1-26 1 34 1-50 1 44 1 10 1-56 1 37 1-18 1 25 1 47 1-72 1 49 1-62 1 67 1 8 1-55 1-3 1 8 1 34 1-54 1 60 1-26 1 9 1-11 1-31 1 38 1-31 1-3 1 62 1-14 1-21 1 6 1-23 1 57 1-68 1-1 1 24 1 31 1-36 1 14 1-28 1 17 1-21 1 30 1-49 1 97 1-33 1-39 1 51 1-57 1 50 1-34 1 26 1-12 1-16 1 7 1 7 1-65 1 55 1 25 1-48 1 2 1-10 1-14 1 70 1-52 1-2 1 29 1-6 1 40 1-19 1-61 1 92 1-32 1-21 1-7 1-27 1 87 1-47 1-21 1 56 1-32 1-50 1 15 1 20 1 81 1-64 1-13 1 17 1-6 1 17 1-13 1 19 1-31 1 15 1-1 1-5 1-22 1 13 1 37 1-27 1-16 1 25 1-42 1 10 1 45 1-34 1-43 1 11 1 42 1-25 1 41 1 20 1-52 1 8 1-7 1 14 1-9 1 22 1-26 1-9 1 23 1-22 1 66 1-25 1-58 1-8 1 39 1 9 1 30 1-42 1-11 1 59 1-53 1 2 1 1 1 41 1-43 1 52 1-77 1 35 1 33 1-64 1 5 1 46 1-73 1 82 1-34 1-22 1 89 1-84 1 27 1-1 1 27 1-36 1 37 1-4 1-13 1 20 1-72 1 75 1-15 1-11 1-9 1-20 1-1 1 29 1 2 1-10 1-21 1 4 1 31 1 39 1-108 1 31 1 18 1-2 1 22 1 12 1-17 1-3 1 11 1 21 1-29 1-23 1 27 1-13 1 54 1-48 1-2 1 28 1 13 1-55 1 31 1-33 1 23 1-27 1 25 1 30 1-36 1 6 1-25 1 28 1-1 1-33 1-8 1 11 1-7 1 15 1-8 1-3 1 12 1 9 1-2 1-58 1 61 1 7 1 3 1-9 1-7 1 36 1 21 1-58 1 49 1-48 1 3 1-26 1-13 1 33 1 24 1 16 1-10 1-22 1 55 1-55 1 2 1-17 1 25 1-11 1 21 1-7 1 34 1-49 1-36 1 35 1-5 1 35 1-62 1 56 1-40 1 18 1 27 1-51 1 26 1-4 1-7 1 12 1 9 1-21 1 22 1-12 1-60 1-15 1 6 1 83 1-13 1-30 1 74 1-47 1 60 1-30 1-13 1 44 1-10 1-51 1 1 1 5 1 18 1-76 1 60 1 18 1-66 1 28 1 25 1-40 1 26 1-12 1 10 1 33 1-51 1 20 1 30 1-6 1-44 1 34 1-11 1-15 1 13 1 43 1-56 1-8 1 2 1-19 1 32 1-10 1-21 1 48 1-52 1 0 1 24 1-27 1 26 1 44 1-52 1 21 1-2 1 7 1-31 1 20 1 32 1-30 1-6 1 37 1-7 1-2 1 6 1-24 1-18 1-22 1 18 1 4 1-3 1-5 1 44 1-27 1 9 1 12 1 8 1 2 1-7 1 25 1-45 1 14 1-3 1-6 1-10 1 34 1-13 1 39 1 16 1-8 1-89 1 86 1-59 1-26 1 50 1-53 1-6 1 23 1-37 1 45 1 35 1-32 1 25 1 22 1-1 1-92 1 73 1-13 1 16 1-20 1 9 1 5 1 20 1 6 1-18 1-26 1-46 1 26 1-20 1 35 1 14 1 32 1-34 1 55 1-47 1-50 1 34 1-21 1 39 1 25 1-23 1-2 1-41 1-20 1 70 1-10 1-5 1 5 1 23 1-35 1-6 1-1 1 41 1-28 1 42 1-69 1 50 1-19 1 4 1 4 1 12 1 18 1-90 1 38 1 0 1-47 1 56 1-16 1 13 1-30 1 18 1 5 1 14 1-13 1-23 1 83 1-50 1 7 1-3 1 44 1-70 1 40 1-15 1 7 1-76 1-16 1 5 1 98 1-16 1-8 1-2 1 5 1-58 1 43 1 43 1-16 1 2 1-13 1 11 1 7 1-65 1 42 1 9 1-2 1-1 1-41 1 23 1-16 1 97 1 17 1-6 1-130 1 50 1 45 1-60 1 31 1 31 1-30 1-44 1-3 1 12 1 46 1-92 1 95 1-28 1 35 1-71 1 22 1-11 1 20 1 4 1-6 1 53 1-74 1 2 1 34 1-10 1-8 1-33 1 29 1 10 1 15 1 25 1-23 1-17 1 8 1-9 1-17 1 8 1 4 1-10 1 13 1 5 1-13 1 57 1-77 1 65 1-54 1 21 1-28 1 27 1 26 1-52 1 22 1 2 1 1 1-24 1 5 1 15 1 46 1-29 1-14 1-43 1 36 1 13 1-34 1 34 1-2 1-5 1 43 1-64 1 14 1 18 1 22 1-34 1-31 1 53 1 10 1-38 1 52 1 16 1-45 1 6 1-11 1 7 1-23 1 15 1 9 1-3 1-28 1-9 1 2 1 5 1 1 1 43 1-18 1-13 1 47 1-79 1 29 1 24 1-20 1 13 1 11 1-33 1 25 1 24 1-20 1-13 1 25 1-61 1 61 1-73 1 22 1 47 1-27 1-28 1 36 1 26 1-34 1-48 1 89 1-52 1 14 1 3 1 7 1-2 1-35 1 11 1 41 1-65 1 73 1-50 1 12 1-26 1 22 1-18 1 27 1-25 1 16 1-47 1 74 1-49 1 19 1 7 1 19 1-26 1 50 1-3 1-54 1 59 1-77 1 44 1-14 1 5 1-9 1 18 1 2 1-6 1-30 1-3 1-3 1 23 1 15 1 38 1-60 1-5 1 32 1-31 1-13 1 31 1-25 1 20 1 52 1-32 1-2 1-24 1 36 1-11 1 13 1-23 1-3 1-24 1 5 1 16 1-2 1 4 1 0 1-37 1 103 1-59 1-13 1-21 1 58 1-37 1-14 1 34 1 38 1-40 1 21 1-47 1 38 1-67 1 42 1 24 1-8 1 16 1-39 1-28 1 44 1-29 1 48 1-32 1-52 1 96 1-68 1 1 1 79 1-12 1-11 1-50 1 36 1-7 1-23 1 15 1-2 1 14 1-37 1 49 1-64 1 52 1 12 1-37 1 5 1 63 1-57 1 40 1-13 1-42 1 43 1-32 1 19 1-59 1 52 1 28 1-2 1-5 1-27 1 4 1-25 1 20 1 1 1-5 1 12 1-11 1-12 1 0 1 34 1 31 1-24 1-28 1 71 1-52 1-24 1 26 1 15 1-74 1 9 1 43 1-41 1 1 1 62 1-98 1 93 1-17 1 21 1-30 1 36 1-34 1-28 1 23 1 12 1-47 1 63 1-48 1 33 1-13 1 4 1-2 1 5 1 18 1-5 1-26 1 14 1 27 1-12 1 0 1-16 1-6 1 2 1 19 1-17 1 36 1 39 1-73 1 41 1-18 1 7 1-48 1 48 1-39 1 20 1 19 1 9 1-52 1 2 1-10 1-27 1 40 1 0 1 10 1-6 1 12 1 14 1-74 1 99 1-54 1-5 1 7 1 29 1-20 1 7 1 16 1-27 1 10 1 3 1-31 1 45 1-39 1 27 1-27 1 10 1-5 1 32 1-6 1 3 1-27 1-15 1-8 1 40 1-15 1 44 1 16 1-35 1-5 1 23 1 5 1-59 1 34 1 23 1-103 1 55 1 13 1-26 1 37 1-60 1 80 1-5 1-30 1 16 1-56 1 77 1-22 1-25 1-8 1-12 1 17 1-47 1 68 1-16 1-18 1 30 1 0 1 4 1 5 1 12 1-14 1 25 1-49 1 50 1-93 1 9 1 15 1 34 1 10 1-47 1 27 1-10 1 33 1-46 1 48 1-23 1 47 1-28 1-29 1 24 1 0 1-31 1 22 1-34 1 94 1-77 1 2 1 52 1-6 1-56 1 50 1-11 1-32 1 24 1-20 1 34 1-30 1-20 1 20 1 64 1-73 1 15 1 25 1-59 1 81 1-93 1 64 1-56 1 41 1 33 1-37 1-6 1-5 1-13 1 50 1-36 1-6 1 26 1 17 1 0 1-43 1-2 1 42 1 13 1-66 1 72 1-44 1 25 1 24 1-48 1 8 1-42 1-21 1 63 1-31 1-1 1 40 1 9 1-63 1 50 1-8 1-70 1-17 1 6 1 61 1-13 1 41 1 26 1-36 1 39 1-22 1-48 1-27 1 49 1 37 1-47 1 77 1-39 1-57 1 20 1 54 1 8 1-65 1 23 1 14 1-26 1 26 1 34 1-70 1 38 1 9 1 8 1-40 1 27 1-37 1 23 1-35 1 38 1 7 1 33 1-22 1-47 1 27 1 24 1-6 1-35 1-3 1 29 1-19 1 43 1-33 1-31 1-19 1 46 1 3 1-19 1-16 1 15 1 32 1-28 1-16 1 43 1 16 1-47 1 4 1-16 1 23 1 18 1-5 1 15 1-2 1-10 1-2 1-41 1 60 1-30 1 14 1-53 1 31 1 16 1-30 1 19 1 14 1-52 1 22 1-26 1 14 1 10 1 16 1 31 1-45 1 16 1-16 1 18 1 17 1 8 1-43 1-15 1 40 1-19 1-24 1 57 1-13 1 20 1-59 1 24 1 18 1 31 1-38 1-30 1 33 1 3 1-27 1 48 1-33 1-14 1 35 1 2 1-28 1 9 1 4 1-12 1 0 1 29 1-6 1-29 1-17 1-6 1 56 1-49 1 8 1 20 1-13 1-9 1-24 1 72 1-42 1 19 1 2 1-35 1 8 1 47 1-18 1-13 1 41 1-58 1 24 1-6 1-4 1-38 1 45 1 10 1-53 1 57 1 1 1 22 1-63 1 20 1-5 1 8 1 8 1 16 1 0 1-31 1 8 1-38 1 61 1-7 1 13 1-61 1 67 1-51 1-17 1 40 1-22 1 72 1-44 1 32 1-46 1 4 1 20 1-44 1 15 1 23 1-1 1 25 1-33 1-59 1 72 1-29 1 25 1-34 1 9 1 17 1 40 1-33 1-43 1 36 1-22 1 28 1 36 1-59 1 3 1 23 1-5 1-17 1 22 1-24 1 14 1 55 1-56 1 11 1 6 1-31 1 23 1-27 1-14 1 24 1 43 1-20 1-42 1 30 1 14 1-19 1-15 1 6 1-9 1 37 1-14 1-1 1-5 1 52 1-47 1-70 1-16 1 6 1 31 1 22 1 33 1-36 1 29 1-21 1 39 1-8 1-27 1-33 1 46 1-58 1-13 1 103 1-32 1 23 1-21 1 11 1-12 1-27 1 1 1 17 1 7 1-3 1 0 1-12 1 15 1-13 1 46 1-53 1-25 1 40 1 41 1-70 1 42 1-46 1 43 1-21 1 6 1-22 1 16 1 13 1 53 1-22 1-33 1-12 1 43 1-11 1-27 1 60 1 1 1-43 1-13 1 19 1 46 1-59 1 35 1-51 1 19 1-9 1-10 1 30 1-34 1-11 1 22 1-24 1 50 1-40 1 17 1 32 1-23 1 11 1 1 1-16 1-25 1 35 1-11 1 40 1-40 1-27 1 9 1 9 1 25 1 12 1-23 1 32 1-3 1-55 1 47 1-69 1 82 1-47 1 41 1-35 1 31 1-27 1 5 1 7 1-24 1-26 1 54 1-38 1 21 1 3 1-57 1 111 1-38 1 29 1-38 1-2 1-8 1-7 1-37 1 13 1 44 1-23 1-31 1 38 1-1 1-7 1 51 1-17 1-30 1-5 1 37 1-15 1-5 1 1 1-22 1 15 1-1 1 40 1-9 1-35 1 49 1-48 1 24 1 4 1-38 1 34 1 5 1-5 1-19 1-68 1 124 1-54 1 6 1-30 1 33 1 54 1-97 1 62 1-26 1 33 1-7 1-15 1-35 1 1 1 36 1-28 1 23 1-13 1-1 1-12 1 32 1-12 1 63 1 17 1-6 1-122 1 56 1-31 1 14 1-26 1 87 1-108 1 58 1 26 1-35 1-54 1 44 1 45 1-20 1-46 1 70 1-31 1 3 1-63 1 63 1-41 1 51 1 3 1-46 1 9 1 60 1-60 1 0 1 32 1-21 1-2 1 20 1 2 1 2 1-10 1 27 1-33 1 38 1-41 1 4 1 25 1-48 1-28 1 15 1 69 1-67 1 27 1 7 1 14 1-15 1-36 1 21 1 25 1 6 1-6 1-26 1-32 1 74 1-27 1 10 1 10 1-93 1-19 1 7 1 112 1-57 1 22 1-5 1 26 1-3 1-21 1 24 1 16 1-29 1-23 1 50 1-54 1 9 1 40 1-22 1 1 1-17 1-1 1 51 1 1 1-61 1 23 1-7 1 2 1-31 1 70 1-58 1 48 1-39 1-16 1 70 1-46 1 17 1 1 1-9 1 28 1-2 1-41 1-5 1 36 1 22 1-96 1 31 1 19 1 36 1-12 1-21 1 31 1-65 1 37 1-7 1 37 1-4 1-3 1-27 1 14 1 1 1-16 1 3 1 68 1 16 1-5 1-73 1-38 1 51 1-15 1 10 1-19 1 4 1 27 1-15 1-29 1-4 1 4 1 2 1 30 1 1 1-33 1 53 1-28 1 45 1-37 1 8 1 13 1-45 1 33 1-9 1-3 1 12 1-55 1 49 1-18 1 38 1-21 1-3 1-1 1 7 1-18 1-36 1 43 1 0 1 6 1-74 1 24 1 26 1-3 1 35 1-14 1-9 1 2 1 25 1-2 1-33 1 5 1 62 1-56 1-30 1 49 1-23 1 43 1-58 1 49 1 4 1-24 1-68 1 76 1 16 1-43 1 6 1-37 1 74 1 9 1-33 1-17 1 0 1-18 1 65 1-17 1-17 1-25 1 9 1 23 1 15 1-48 1-2 1-44 1 73 1-46 1 72 1-17 1 3 1-5 1 10 1-8 1-12 1 10 1-28 1 18 1-2 1-37 1 29 1 4 1 5 1-2 1-13 1 34 1-49 1-10 1 10 1 42 1 27 1-29 1-15 1-17 1 26 1 3 1-46 1 55 1-44 1 4 1 57 1-41 1 21 1 10 1 23 1-7 1-50 1 20 1-17 1 34 1-19 1-1 1 32 1 3 1-53 1 8 1 27 1-21 1-19 1-30 1 69 1-38 1-38 1 52 1-36 1 102 1-101 1 37 1 47 1-67 1-7 1-4 1 0 1 31 1 18 1-7 1-11 1-11 1 22 1-13 1-21 1 14 1-50 1 4 1 83 1-14 1 18 1-3 1-44 1 39 1 2 1-20 1-27 1 29 1 0 1-32 1 11 1 1 1-13 1 50 1-31 1 21 1-42 1 6 1 47 1-61 1 64 1-59 1 24 1 27 1 7 1-21 1-7 1 17 1-32 1 50 1-36 1 0 1 48 1-56 1 40 1 31 1-47 1-10 1-29 1 36 1-50 1 1 1 9 1-6 1 24 1 23 1-30 1-8 1 18 1 12 1 34 1-57 1 8 1 42 1-35 1-16 1 21 1-23 1 1 1 57 1-30 1-20 1-11 1-13 1 85 1-47 1-20 1-13 1-12 1 67 1-14 1 17 1-47 1 54 1-64 1 6 1 12 1 67 1-38 1-36 1 55 1-30 1-3 1-25 1 15 1 0 1 18 1-11 1 4 1-22 1 23 1-31 1 69 1-73 1 35 1-33 1 26 1-19 1-17 1 52 1-16 1 7 1-10 1 46 1-36 1 2 1 13 1-15 1 35 1-75 1 24 1-37 1 71 1 7 1-37 1 50 1-48 1 23 1-9 1-15 1 5 1-46 1 31 1 49 1-58 1 59 1-36 1 34 1-11 1-54 1 48 1 2 1-2 1-7 1-44 1 66 1 2 1-46 1 55 1-31 1-38 1 28 1 13 1 6 1 5 1-8 1-19 1-28 1 7 1 39 1 4 1-36 1 64 1-35 1-3 1 20 1-3 1-34 1 51 1-19 1-7 1-18 1 37 1-63 1 36 1-1 1 2 1 8 1 8 1-54 1 24 1 8 1-28 1 43 1-34 1 16 1 67 1 17 1-6 1-94 1 39 1-33 1-25 1 21 1 30 1-15 1 9 1 20 1-2 1-29 1-12 1 58 1-43 1-14 1 10 1 28 1-52 1 57 1-47 1-24 1 92 1-58 1-1 1 2 1 25 1-11 1 27 1-39 1-10 1 31 1 6 1-11 1-12 1-2 1 4 1-4 1 35 1 36 1-85 1-20 1 72 1-19 1-25 1-16 1 8 1-16 1 33 1-11 1 0 1 21 1-41 1 14 1-9 1 35 1-36 1 53 1-37 1 76 1-41 1-44 1 30 1-15 1 45 1-80 1 24 1 16 1-11 1 2 1-28 1 31 1 42 1-31 1-38 1 18 1 25 1-26 1 12 1-12 1 55 1-17 1-40 1 23 1-15 1-40 1 57 1-14 1 20 1 2 1-14 1 35 1 16 1-87 1 37 1-31 1 25 1-1 1-13 1-1 1 48 1-60 1 54 1-29 1-59 1 62 1-40 1 51 1-24 1 14 1-9 1 32 1 1 1-31 1 47 1-18 1-37 1 31 1 7 1 6 1-32 1 13 1-13 1 9 1-51 1-17 1-15 1 6 1 72 1-4 1 44 1-68 1 29 1 0 1 39 1-52 1 14 1-36 1 44 1 21 1-34 1 26 1-33 1 37 1-24 1 3 1-5 1 12 1 7 1-18 1 13 1-19 1 11 1 49 1-54 1-37 1 27 1-7 1 4 1 23 1 21 1-53 1-6 1 12 1 3 1 1 1 11 1-8 1 7 1-8 1 32 1-8 1-30 1 22 1 52 1-63 1 60 1-104 1 29 1 1 1 33 1 12 1-23 1-6 1 20 1-23 1-13 1 2 1 41 1 27 1-53 1 16 1-27 1-30 1 0 1 34 1-21 1-13 1 40 1-6 1-14 1 22 1 11 1 6 1-18 1 15 1-35 1 28 1-44 1 6 1 60 1-57 1 37 1-44 1 21 1 14 1-18 1 30 1-22 1-1 1 13 1-13 1 34 1-38 1 43 1-45 1 4 1-6 1 31 1-88 1 8 1-16 1 6 1 41 1 47 1-36 1 47 1-30 1 16 1-32 1 30 1 14 1-32 1 40 1-6 1-42 1 65 1-65 1 29 1 12 1-28 1-10 1 30 1-10 1-24 1 1 1 20 1 17 1 5 1-9 1-31 1 3 1 6 1-26 1 41 1 2 1 0 1-56 1 97 1-58 1-3 1 9 1-55 1 28 1 10 1 40 1-34 1 21 1-10 1-4 1 17 1-27 1-24 1 14 1 20 1 52 1-73 1 0 1 31 1 7 1-28 1 36 1-39 1 45 1-4 1-22 1 35 1-35 1-13 1 45 1-55 1 36 1-26 1 8 1 16 1 1 1 29 1-24 1 1 1-58 1 15 1 58 1-53 1 14 1 15 1-20 1-8 1 32 1-7 1-10 1 27 1-28 1 7 1 14 1 4 1-28 1-13 1 13 1 28 1-38 1 14 1-11 1-13 1 49 1-18 1 11 1 7 1-70 1 26 1 65 1-53 1 24 1-41 1 26 1 6 1-8 1-6 1 9 1 6 1-2 1-16 1 40 1-27 1 2 1 9 1-29 1 49 1-23 1 12 1-34 1 25 1-13 1-8 1 48 1-49 1 28 1-11 1-4 1-22 1 2 1-25 1 38 1 16 1 1 1-28 1-23 1 30 1 22 1-20 1 0 1-56 1-16 1 5 1 86 1-38 1 20 1 59 1-54 1 45 1-92 1 43 1 33 1-48 1 38 1-32 1 13 1 29 1-44 1 48 1-65 1 31 1 26 1 19 1-82 1 4 1 65 1-70 1 35 1 10 1-3 1 4 1-41 1 31 1 48 1-95 1 29 1 48 1-18 1 13 1-23 1-8 1 4 1 20 1 5 1-40 1 23 1-57 1 74 1-38 1 17 1 20 1-51 1 30 1 24 1-14 1-32 1 54 1-63 1 17 1 23 1-39 1-10 1 28 1 10 1-40 1 9 1 58 1-18 1 1 1 4 1 27 1-58 1 19 1 0 1-31 1 47 1-12 1-8 1 17 1-8 1-21 1 19 1-33 1 51 1-23 1 39 1-32 1 14 1-49 1 15 1 5 1-32 1 10 1 17 1 34 1 18 1-34 1 8 1 7 1-8 1 33 1-77 1 64 1-11 1-30 1 53 1-62 1 0 1 30 1 19 1-15 1 33 1-78 1 32 1 19 1 5 1-36 1-23 1 67 1-17 1 29 1-59 1 13 1-51 1 57 1 8 1 7 1-38 1 60 1-58 1 12 1 19 1 9 1-47 1-20 1 56 1-23 1-30 1 58 1-9 1 23 1-26 1-2 1 9 1 8 1 20 1-6 1-9 1-39 1 28 1 8 1-37 1 3 1 32 1-3 1-32 1 8 1 29 1-26 1 6 1-28 1 49 1-43 1 11 1 35 1-50 1 3 1 55 1-81 1 77 1-6 1-15 1-26 1 4 1 17 1-36 1 24 1-25 1-35 1 65 1 68 1-52 1 15 1-29 1 0 1 33 1-2 1-22 1-2 1 60 1-89 1 24 1 1 1-8 1 33 1-24 1-27 1-1 1 15 1 18 1 14 1-53 1 19 1 24 1 44 1-33 1 27 1-80 1 27 1 23 1-12 1-71 1 34 1 64 1-30 1 27 1 13 1-48 1-56 1 21 1 38 1 11 1-15 1-21 1 63 1 11 1-95 1 40 1-33 1 34 1-31 1 53 1-28 1-27 1 14 1 37 1-34 1 39 1 20 1-50 1-22 1 14 1 53 1-54 1 5 1 29 1 52 1-89 1 3 1 10 1 57 1-7 1-63 1 5 1 8 1 19 1-17 1 24 1-6 1 15 1-29 1 17 1-35 1 6 1 39 1-67 1 75 1-40 1-16 1-5 1 89 1-82 1-6 1-5 1 94 1-40 1-15 1 9 1-46 1 52 1-49 1 17 1 52 1-12 1-13 1-15 1-23 1 30 1-28 1 64 1-58 1 26 1-20 1 21 1 16 1-36 1-39 1 52 1 16 1 3 1-72 1 52 1-17 1-16 1 4 1 51 1-48 1 3 1 9 1-13 1 40 1-13 1 12 1-33 1 36 1-27 1 39 1-25 1 6 1-7 1-6 1 8 1 1 1 48 1-82 1 45 1-10 1 15 1-47 1 49 1-36 1-18 1-12 1 12 1 15 1 46 1-64 1 3 1 9 1 1 1 18 1 16 1-41 1-5 1 59 1-50 1 17 1-16 1 15 1-21 1 2 1 3 1 59 1-57 1 20 1 30 1-47 1 53 1-58 1-20 1 56 1-36 1 12 1-6 1 52 1-51 1 13 1-16 1 19 1-28 1 21 1-10 1-18 1 30 1-20 1 19 1-7 1 26 1-33 1-11 1 33 1-22 1 9 1 39 1-37 1-25 1 46 1 33 1-51 1 22 1-64 1 49 1-1 1 16 1-23 1 21 1 8 1-21 1 19 1-54 1 63 1-28 1 16 1 18 1-77 1 95 1-90 1 72 1-38 1-55 1 111 1-19 1-68 1 29 1 18 1-13 1 24 1-27 1-35 1 47 1-13 1-27 1-20 1 65 1-22 1 22 1 2 1-6 1 6 1 27 1 7 1-32 1-22 1-27 1 44 1-9 1-21 1-2 1 21 1-1 1-49 1 56 1 4 1 29 1-52 1 17 1-55 1 57 1-29 1-3 1-18 1 75 1-73 1 39 1 3 1 5 1 3 1-2 1 50 1-71 1 11 1 26 1-23 1-59 1 48 1 19 1-52 1 63 1-17 1 11 1-8 1-25 1 4 1 33 1-15 1-6 1 13 1-9 1 17 1 0 1-19 1 27 1-37 1 16 1 18 1-8 1-3 1-8 1-68 1-16 1 6 1 38 1 13 1 20 1-21 1 16 1 14 1-8 1-65 1 42 1-1 1 36 1-25 1-42 1 46 1-16 1-5 1 16 1-24 1 34 1-7 1 28 1-81 1 58 1 5 1-32 1 47 1-12 1 19 1-20 1 10 1-23 1 17 1 12 1-8 1-4 1 10 1-37 1 7 1 13 1 33 1-42 1 45 1-37 1 4 1 15 1 6 1-3 1-68 1 57 1-1 1-29 1 13 1-15 1 56 1-3 1-12 1-14 1 6 1-11 1-21 1 54 1-36 1 8 1-18 1 13 1 17 1 8 1 39 1-84 1 60 1-26 1-51 1 51 1-25 1 20 1-22 1 16 1 13 1-46 1 40 1 27 1-25 1-22 1 41 1-47 1 1 1-34 1 69 1-33 1 58 1-31 1-13 1-7 1 11 1 1 1 13 1-4 1-19 1-6 1-2 1-9 1-5 1 74 1-31 1-9 1 12 1-42 1 7 1 21 1-5 1-28 1 39 1 0 1-31 1 11 1-23 1 26 1-10 1 32 1 10 1-23 1 65 1-75 1-14 1 22 1 7 1-32 1 28 1-25 1-30 1 36 1-5 1 11 1 6 1-1 1 5 1-25 1 67 1-34 1-22 1 37 1-19 1 15 1-28 1-10 1-15 1 23 1 31 1-24 1-8 1-21 1 88 1-62 1 54 1-63 1 7 1-1 1-10 1 12 1 26 1-25 1-21 1 33 1-4 1 31 1-59 1 41 1 6 1-7 1 10 1-15 1-38 1 12 1-15 1-2 1 59 1-34 1-25 1-20 1 92 1 0 1-47 1 20 1 16 1-34 1 29 1 37 1-56 1-3 1-13 1-7 1 18 1 11 1 10 1 24 1-29 1-36 1 9 1-34 1 54 1 40 1-64 1-6 1 55 1 11 1-44 1-14 1 45 1-19 1 11 1 10 1 3 1-35 1 12 1 7 1 48 1-107 1 66 1-20 1 25 1-37 1 46 1-39 1 7 1-27 1 49 1-11 1-10 1-57 1 87 1-43 1 23 1-23 1-9 1 13 1-3 1-1 1 22 1-9 1 35 1-32 1 10 1-13 1-24 1 9 1-2 1-16 1 86 1-69 1 11 1 2 1 29 1-98 1-16 1 5 1 79 1-17 1-7 1-22 1 14 1 27 1 1 1-2 1-1 1 18 1-32 1 36 1 3 1-28 1 22 1-8 1 45 1-70 1 20 1 3 1-15 1 6 1 23 1-67 1 60 1-35 1-21 1 61 1-18 1 23 1-46 1 34 1 18 1-59 1 10 1 44 1-51 1 25 1-62 1 24 1 56 1-7 1 15 1-25 1 2 1-17 1 16 1 39 1-17 1-54 1 6 1 32 1 0 1 1 1-5 1 42 1-63 1 38 1-20 1 66 1-68 1-27 1 87 1-92 1 26 1 29 1 21 1-67 1 22 1-8 1 21 1 13 1-41 1 45 1-46 1 64 1-19 1 13 1-68 1 76 1-15 1-45 1 11 1-48 1 8 1 30 1-1 1 61 1-23 1-13 1-4 1 29 1-11 1-2 1-47 1 16 1 19 1-2 1-14 1 25 1-11 1 36 1-59 1-7 1 15 1-3 1 3 1-42 1 45 1 38 1-7 1-43 1-9 1 8 1-2 1 16 1 41 1-19 1 27 1-35 1 24 1-36 1 7 1 44 1-66 1-1 1 53 1-38 1-14 1 25 1-29 1 17 1-22 1 22 1 9 1-17 1-7 1 14 1 17 1 8 1-10 1 5 1-19 1 1 1 6 1-2 1-4 1-35 1 9 1 44 1-25 1 19 1-6 1 4 1 9 1 19 1 27 1-66 1-24 1 51 1-35 1 22 1-16 1 27 1-14 1-3 1 56 1-64 1 8 1 59 1-78 1 17 1-6 1-4 1 19 1 17 1-16 1 0 1-66 1 9 1 58 1-2 1-18 1-6 1 31 1 8 1-73 1 22 1 65 1 5 1-23 1-26 1-8 1 22 1 31 1-45 1-10 1 15 1 13 1-27 1 16 1 26 1-30 1 35 1-57 1 13 1 36 1-30 1-26 1 85 1-50 1-79 1-18 1 6 1 123 1-34 1 58 1-19 1-27 1-17 1-6 1-1 1-19 1 12 1-1 1 43 1-21 1 9 1-70 1 36 1 3 1-7 1 35 1-59 1 59 1-8 1-57 1 108 1-62 1 53 1-27 1-14 1 6 1-13 1 24 1-17 1 27 1-20 1 25 1-51 1 49 1-50 1 28 1-3 1-38 1 28 1 50 1-60 1 86 1-81 1 17 1 26 1-38 1 10 1-59 1 62 1-60 1 14 1 51 1 5 1-54 1 37 1-8 1 11 1 24 1-21 1 15 1 14 1-31 1-53 1 4 1 43 1-5 1-10 1-21 1 26 1 20 1-2 1-39 1-37 1 82 1 37 1-73 1 22 1-5 1-28 1 30 1 35 1 17 1-50 1 29 1-37 1 40 1-24 1 29 1-28 1 2 1-27 1-19 1 39 1 17 1-72 1 41 1-6 1 0 1-22 1-29 1-17 1 6 1 99 1-6 1-13 1-5 1 2 1-8 1 7 1 12 1 31 1-63 1 6 1 38 1-36 1 3 1 8 1 49 1-16 1-15 1-57 1 63 1-13 1 20 1-16 1-22 1 62 1 20 1-90 1 16 1 17 1-41 1 0 1 79 1-50 1-32 1 45 1-9 1-32 1 31 1 24 1-13 1 16 1-48 1 58 1-70 1 68 1-43 1 39 1-30 1-34 1-3 1-4 1 35 1-5 1-3 1-10 1 26 1-38 1 20 1-21 1 17 1-5 1 36 1-8 1 22 1-25 1-3 1-26 1 54 1-46 1 16 1-35 1 5 1 92 1-58 1-45 1 101 1-83 1 44 1-12 1-18 1 54 1-53 1 22 1 2 1-37 1-6 1 15 1-5 1 16 1 17 1-25 1-33 1 34 1-18 1 29 1-71 1 108 1-58 1 1 1 7 1 36 1 1 1-24 1-8 1 34 1-4 1-42 1-12 1 41 1 3 1 1 1-82 1 51 1 14 1-28 1-33 1 29 1 67 1-34 1 8 1-2 1 23 1-21 1 17 1-36 1 7 1 38 1 7 1-31 1-29 1 4 1 14 1 12 1-1 1 7 1-11 1 23 1-20 1 6 1-87 1 51 1 24 1-4 1 2 1-8 1 15 1-10 1-27 1 5 1 14 1-27 1 29 1 31 1 20 1-28 1-16 1-12 1-17 1 42 1 6 1-40 1-11 1 43 1-21 1-27 1 27 1 10 1 52 1-88 1 18 1 13 1 16 1 20 1-30 1 0 1-31 1 60 1-69 1 37 1-30 1 56 1-34 1-23 1 29 1 40 1-29 1-22 1 50 1 1 1-44 1 31 1-42 1 48 1 17 1-27 1-59 1 61 1-22 1-7 1 31 1-53 1 24 1-7 1 55 1 2 1 26 1-67 1 1 1-24 1-20 1 45 1 54 1 15 1-5 1-49 1-38 1 23 1 2 1-30 1 42 1 7 1-45 1 18 1 6 1-3 1-16 1 22 1-29 1 9 1-28 1 6 1 10 1 28 1-9 1 19 1-89 1 79 1-20 1-21 1 70 1-13 1-11 1 15 1 7 1-19 1-47 1 15 1 17 1 1 1 43 1-61 1 7 1 39 1-33 1 10 1 9 1 12 1-8 1 7 1-37 1 3 1 1 1 13 1 6 1-63 1 100 1-79 1 22 1 8 1 14 1-7 1 25 1 5 1-33 1 40 1-64 1-7 1-7 1 75 1-47 1 2 1 2 1-8 1-8 1-3 1-24 1 46 1-22 1 64 1-38 1 28 1-68 1-24 1 46 1 48 1-31 1-4 1-4 1-23 1 4 1 92 1-103 1 48 1 2 1-51 1 43 1 28 1-1 1-35 1-22 1-16 1 44 1 7 1-54 1 54 1-49 1 31 1 0 1 12 1-14 1 20 1 6 1-14 1 13 1-25 1 6 1 9 1-2 1 1 1-51 1 45 1 15 1-7 1-25 1 22 1-1 1 3 1-11 1-6 1-1 1 53 1-14 1 40 1-89 1-7 1-5 1 29 1-25 1 30 1 2 1 37 1-20 1-5 1-38 1-20 1 55 1-21 1 2 1 27 1 24 1-25 1 18 1-29 1-4 1 1 1-1 1-16 1 36 1-47 1 66 1-44 1-9 1 31 1 20 1-57 1 33 1-37 1 0 1 20 1 0 1-25 1 16 1 33 1-28 1-10 1 9 1 0 1 9 1-1 1 21 1 13 1-66 1 46 1-22 1 44 1-43 1 25 1-17 1 22 1-1 1-49 1-5 1 83 1-60 1-16 1 54 1-49 1 31 1 12 1-17 1 3 1 24 1-93 1 69 1 7 1-41 1 24 1-36 1 41 1-16 1 7 1-2 1 10 1-3 1-46 1 61 1-4 1-5 1-23 1 4 1-14 1 58 1-40 1 11 1 3 1-12 1 55 1-58 1 4 1 40 1-34 1-42 1 49 1-25 1 21 1 15 1 3 1-14 1-43 1 12 1 39 1-43 1 28 1 15 1-29 1 34 1 17 1-73 1 80 1-61 1 53 1-38 1 4 1 6 1 45 1-53 1-2 1 22 1-21 1-27 1 43 1-24 1 35 1-39 1-6 1-47 1 40 1 12 1-25 1 61 1-52 1 41 1 2 1-44 1 22 1-28 1 71 1-44 1 20 1-6 1 41 1-72 1 19 1 30 1 9 1-12 1-57 1 38 1 5 1-20 1 12 1-6 1-13 1 11 1-14 1 52 1-32 1 11 1-12 1 4 1 15 1-7 1-33 1 38 1 17 1-46 1-10 1 32 1-10 1 24 1-16 1-33 1 7 1 17 1 11 1 34 1-49 1-4 1-15 1-24 1 41 1-15 1 53 1-59 1 9 1-13 1 18 1 5 1-26 1 54 1-33 1-11 1 47 1 9 1-39 1 7 1-12 1-1 1 36 1-28 1-20 1 37 1-2 1 22 1-49 1-29 1 84 1-54 1-3 1 36 1-4 1 16 1-6 1-24 1-12 1 13 1-18 1 16 1 34 1-65 1 6 1 48 1-62 1 32 1 9 1-45 1 111 1-23 1-58 1 24 1 18 1-62 1 26 1 44 1-16 1-37 1-24 1 95 1-56 1 15 1 35 1-40 1 36 1-27 1-54 1 28 1-7 1 5 1 6 1-16 1 54 1-20 1-31 1 40 1-7 1-42 1-8 1 54 1 5 1-35 1 8 1 23 1-31 1 1 1 12 1-39 1 6 1 14 1-5 1 56 1-58 1 46 1-27 1 7 1 16 1-21 1 0 1 8 1 11 1-33 1 61 1-61 1 20 1-6 1 66 1-102 1 86 1-22 1-38 1 32 1-5 1 46 1-46 1-16 1-12 1 25 1-13 1-6 1 28 1 2 1-68 1 71 1-53 1 30 1-36 1 53 1-29 1 5 1 14 1-13 1 27 1-18 1 8 1-29 1 22 1 32 1-25 1-7 1 20 1-56 1 23 1-11 1 41 1-10 1-35 1 61 1-45 1 7 1 15 1-15 1 29 1-32 1 36 1 2 1-68 1 53 1 36 1-78 1 44 1-12 1-6 1-25 1 14 1-34 1 46 1-18 1 41 1-30 1-34 1 26 1 8 1 54 1-40 1 23 1-52 1 38 1-28 1 35 1-73 1 77 1-33 1-63 1 61 1 27 1-37 1-10 1 3 1 72 1-55 1 59 1-102 1 46 1 14 1-29 1 5 1 42 1-71 1 47 1 39 1-80 1-4 1 7 1 18 1 37 1-47 1-23 1 27 1-20 1 60 1-46 1 2 1 62 1 4 1-23 1-21 1-9 1 17 1-4 1 1 1-5 1-13 1 3 1 14 1-8 1 18 1-32 1 33 1-55 1 43 1-8 1 27 1-11 1-13 1 4 1 16 1 14 1-31 1-3 1-10 1-18 1 40 1 43 1-47 1 43 1-14 1-59 1 12 1 31 1-1 1-14 1 43 1-57 1 21 1-56 1 74 1-53 1 44 1-44 1 51 1-44 1 30 1 10 1-17 1-16 1 2 1-30 1 19 1 89 1-58 1 41 1-41 1-26 1 50 1-4 1-34 1 11 1-48 1 33 1-6 1-31 1 58 1-13 1 25 1-32 1-20 1-8 1 36 1 17 1 2 1 16 1-39 1-32 1 96 1-5 1-92 1 77 1-50 1 41 1-52 1 0 1 16 1-17 1 20 1-14 1-32 1 19 1 45 1 3 1-14 1 0 1-8 1 17 1-32 1 16 1-8 1 9 1-16 1 47 1-72 1 32 1-3 1-4 1-12 1 9 1 13 1 10 1 38 1-48 1 14 1 0 1-70 1 109 1-49 1-30 1 7 1-7 1 64 1-8 1-40 1 23 1-51 1 38 1 0 1-6 1 18 1-10 1 21 1-17 1 12 1-19 1 43 1 2 1-50 1 6 1 30 1-19 1 21 1-79 1 93 1-85 1 65 1-32 1 18 1 3 1-34 1 3 1 29 1 16 1-77 1 17 1 33 1 11 1-15 1 5 1-29 1 56 1-25 1 20 1-53 1-13 1 49 1-17 1-22 1 44 1 16 1-51 1 14 1 19 1-43 1 31 1 52 1-55 1 11 1-50 1 49 1 4 1-16 1 5 1 42 1-39 1 12 1-45 1-26 1 91 1-4 1-3 1-5 1 1 1-19 1-27 1 62 1 6 1 8 1-76 1-6 1 74 1 2 1-45 1-25 1 2 1 21 1-12 1 9 1 22 1-63 1 49 1 29 1-17 1 28 1-40 1-28 1 61 1-62 1-25 1 44 1 40 1-8 1-13 1 24 1-1 1-25 1-2 1-21 1 47 1-79 1 21 1 4 1 40 1-62 1 54 1-56 1 19 1 51 1-11 1-60 1 22 1 30 1-9 1 0 1 25 1-15 1 12 1-6 1-23 1 37 1-44 1 16 1-17 1-3 1-9 1 16 1-2 1 23 1-20 1 38 1-17 1-25 1 20 1-12 1 38 1-62 1 50 1-25 1 11 1-25 1 34 1 16 1 23 1 23 1 18 1-6 1-121 1 94 1-24 1-41 1-24 1 24 1 0 1-5 1-2 1-27 1 26 1 48 1-20 1-17 1 26 1-14 1 7 1 4 1-36 1 28 1-76 1-17 1 6 1 22 1 48 1-31 1 25 1 69 1-66 1 32 1 13 1-7 1-74 1 87 1-25 1-46 1 13 1 61 1-41 1 10 1-8 1-24 1 34 1-7 1-46 1 86 1-38 1-22 1 44 1-16 1 18 1-38 1 20 1-36 1-6 1 25 1 11 1-17 1 6 1 33 1-60 1 22 1-14 1 55 1-58 1-31 1 38 1 54 1-39 1 3 1-7 1 11 1-19 1 25 1-18 1 24 1-20 1-24 1 39 1-30 1 40 1-13 1-4 1-38 1 52 1-51 1 69 1-34 1-27 1 5 1 44 1 6 1-55 1 56 1-48 1 29 1-13 1-61 1 20 1 18 1 58 1-44 1 7 1 4 1-37 1 79 1-53 1 5 1 23 1-65 1 78 1-33 1-2 1 59 1-19 1-12 1-46 1-4 1 9 1 9 1 64 1-63 1 19 1-44 1 99 1 17 1-6 1-101 1 48 1-29 1 35 1-56 1 55 1-26 1 16 1-9 1-24 1 26 1-20 1 32 1-63 1 53 1-43 1-29 1 119 1-38 1-20 1-36 1 43 1-22 1 29 1-34 1 46 1-53 1 5 1 66 1-97 1 43 1 28 1-81 1 30 1-2 1 41 1-28 1 3 1 57 1-59 1 20 1-38 1-1 1 51 1-1 1-20 1-13 1 28 1-7 1-19 1 5 1-20 1 24 1 30 1 23 1-68 1 30 1 1 1-2 1 34 1-31 1 58 1-58 1 13 1-72 1 37 1 17 1-10 1-14 1 39 1-14 1 3 1-75 1 64 1 54 1-73 1-47 1 93 1-24 1 0 1-28 1 42 1-8 1 25 1-4 1 28 1-86 1 60 1-40 1 1 1 26 1-18 1 3 1 11 1-14 1 0 1 28 1 7 1-12 1-25 1-34 1-2 1 31 1-17 1 22 1-26 1 26 1-7 1 17 1-7 1-50 1 82 1-32 1 16 1-42 1-22 1 56 1 66 1-90 1 0 1 61 1-39 1-4 1 60 1-80 1 6 1 6 1 34 1-9 1-2 1-30 1 39 1-65 1 29 1 68 1-103 1 41 1 19 1-18 1 52 1-54 1 71 1-39 1-63 1 2 1 43 1 17 1-51 1 27 1-7 1-11 1 45 1-50 1 78 1-96 1 81 1-25 1 1 1-37 1-1 1 11 1-5 1 2 1 14 1 50 1 10 1 0 1-60 1 5 1-3 1-10 1 13 1 20 1 14 1 10 1-83 1 8 1 61 1-29 1-19 1-31 1 59 1-21 1-26 1 77 1-27 1-18 1 18 1-76 1 33 1 18 1 31 1-49 1 7 1 30 1-2 1 28 1-37 1-26 1-3 1 11 1-6 1 38 1-4 1-45 1 21 1 33 1-35 1-9 1 4 1 16 1 17 1-25 1-35 1 42 1 22 1-27 1 42 1-39 1 14 1-34 1 23 1-25 1-34 1 68 1 16 1-34 1 14 1-6 1 20 1-31 1 13 1 60 1-52 1-15 1-23 1 47 1 6 1-52 1 47 1-19 1-10 1-7 1 20 1 30 1-57 1 39 1 2 1-68 1 30 1 52 1-15 1-6 1 13 1 31 1-72 1 0 1 14 1 18 1-17 1-11 1 45 1-19 1 6 1-34 1 12 1 42 1-19 1-63 1 73 1-30 1 21 1-50 1 35 1 10 1 19 1-93 1-16 1 6 1 107 1-77 1 49 1 21 1-31 1 20 1-1 1 1 1-14 1 10 1 33 1-60 1 28 1-46 1 18 1-2 1 11 1-29 1 43 1 18 1-36 1 82 1-63 1-16 1 17 1-44 1 15 1 15 1 14 1-40 1 47 1-7 1-31 1 4 1-38 1 60 1 44 1-67 1-16 1 38 1-46 1-6 1 65 1-5 1 21 1-48 1-5 1 3 1 49 1-12 1 17 1 5 1-7 1 6 1-37 1-16 1-5 1 17 1 17 1-17 1-16 1 23 1-9 1 10 1 5 1-14 1 30 1-57 1 69 1-54 1 49 1-77 1 17 1 45 1-10 1 18 1-28 1-12 1-57 1 104 1-69 1 48 1-23 1-16 1 9 1 3 1 17 1-5 1-5 1-27 1 70 1-25 1 20 1-8 1-4 1-51 1-27 1 21 1 67 1-33 1 32 1-42 1-22 1 18 1-8 1 27 1 49 1 0 1-50 1-18 1-18 1 43 1-11 1-5 1-22 1 30 1 27 1-57 1 18 1 0 1 44 1-33 1 45 1 8 1-47 1 5 1-26 1-24 1 39 1-48 1 63 1-36 1 54 1-37 1 12 1-3 1-21 1 65 1-53 1 25 1-25 1-7 1 20 1 0 1 21 1-45 1 32 1-29 1 49 1-74 1 63 1-57 1 42 1-26 1 18 1-21 1 17 1-33 1 16 1 0 1-27 1 63 1-53 1 33 1 41 1-52 1 18 1-50 1 57 1-14 1-5 1 57 1-64 1 40 1-64 1-6 1 44 1 41 1-46 1 0 1-15 1 27 1 24 1-28 1 21 1-71 1 65 1-1 1-16 1 31 1-21 1-8 1 9 1-6 1-39 1 21 1 47 1-24 1-31 1 37 1-20 1 3 1-14 1 18 1-1 1 19 1-32 1 34 1-70 1 46 1 5 1-26 1 23 1-5 1 4 1 18 1 5 1-6 1-48 1 46 1-6 1 1 1-30 1-34 1 77 1-39 1 11 1 11 1-21 1 47 1-55 1 16 1 32 1-68 1 19 1-8 1 69 1-31 1 6 1-30 1-19 1 86 1-51 1 4 1-30 1 28 1 32 1-28 1 22 1-7 1-22 1 14 1-20 1 47 1-101 1 28 1 15 1 53 1 22 1-34 1-16 1-65 1 24 1 48 1-45 1-1 1 32 1-32 1 24 1 26 1 13 1-27 1-30 1 62 1 7 1-57 1 86 1-119 1 59 1-31 1-29 1 87 1-11 1-86 1 66 1-4 1-9 1-22 1-7 1 32 1 11 1-8 1-8 1-27 1 31 1-44 1 70 1-36 1-33 1 13 1 25 1 32 1-5 1-14 1-13 1 15 1 32 1-19 1-33 1-8 1 58 1-27 1 35 1-30 1-2 1-14 1 11 1 6 1 16 1 17 1-47 1 6 1-46 1 82 1-55 1-24 1 87 1-69 1 60 1-56 1-25 1 39 1-8 1 26 1-26 1-22 1 34 1-1 1-14 1-11 1 65 1-45 1 20 1-32 1-14 1 19 1-25 1 60 1-16 1 16 1-28 1-1 1 8 1 26 1-29 1 9 1-27 1 23 1-38 1 24 1 55 1-44 1 33 1-63 1-12 1 38 1-12 1 50 1 21 1-45 1-8 1 33 1-42 1-6 1-8 1-24 1 19 1 31 1-12 1-13 1 43 1-62 1 11 1 29 1 11 1-35 1-4 1-2 1-23 1 22 1 20 1-13 1 42 1-42 1 59 1-52 1-3 1 55 1-91 1 81 1-58 1 41 1-22 1 26 1-83 1 38 1-20 1 27 1 2 1 14 1 10 1-22 1 12 1 8 1 32 1-28 1-24 1 28 1-21 1 13 1 23 1-3 1-5 1-11 1-1 1-37 1 59 1 25 1-72 1 30 1-9 1-70 1 28 1 23 1-9 1 22 1-22 1 41 1 3 1-7 1-54 1 1 1 57 1-47 1 35 1-33 1 37 1-34 1 29 1 4 1-7 1-4 1 19 1 21 1-81 1 55 1 38 1 12 1 14 1-58 1-52 1 79 1-35 1 40 1-78 1 20 1 1 1-27 1-8 1 16 1 43 1 20 1-8 1 19 1-94 1 53 1-9 1-2 1-48 1 68 1-46 1 23 1 12 1 47 1-75 1 44 1-7 1-19 1 4 1-27 1 47 1-22 1-3 1 7 1-18 1 25 1-39 1 51 1 20 1-38 1-32 1 45 1 3 1-7 1-14 1 9 1-13 1 54 1-85 1 24 1 38 1-59 1 24 1-27 1 71 1-76 1 43 1 56 1-75 1 28 1 19 1-21 1 46 1-67 1 21 1 2 1-45 1 36 1 19 1 8 1-24 1-30 1 44 1 12 1-52 1 23 1 2 1-56 1 88 1-38 1 52 1-39 1-23 1-14 1 63 1-56 1 2 1 24 1-69 1 65 1 24 1-35 1 61 1-91 1 15 1 37 1-27 1 2 1-37 1 68 1 18 1 19 1-46 1 34 1-37 1-15 1 22 1 13 1-56 1 37 1-12 1-19 1 60 1-10 1-91 1 71 1 23 1-21 1 9 1 17 1-22 1-10 1 0 1-15 1 60 1-6 1-60 1 32 1-44 1 24 1 46 1-52 1 41 1-33 1-26 1-24 1 58 1-20 1 10 1-13 1 89 1-57 1-18 1-5 1 32 1-41 1-8 1 28 1 7 1 4 1-13 1-28 1-8 1 52 1 12 1-4 1-47 1 21 1-2 1-5 1 2 1 14 1 24 1-11 1-20 1-7 1 20 1 1 1-47 1 49 1-18 1 14 1 14 1 17 1-25 1 7 1-44 1 53 1-20 1-28 1 20 1-16 1-9 1 66 1-33 1 15 1-61 1 39 1-17 1-31 1 54 1-12 1-8 1 17 1-40 1 12 1-5 1 25 1 10 1 1 1 0 1 34 1-53 1-12 1 22 1 12 1-14 1-4 1-3 1-39 1 70 1-32 1-9 1 16 1 9 1 20 1-11 1-34 1-20 1 56 1-30 1-1 1-13 1 20 1-5 1-12 1 54 1-32 1 48 1 5 1-30 1 19 1-54 1-12 1 33 1-4 1 3 1 0 1-10 1-6 1 22 1 8 1-7 1-34 1 31 1-48 1 44 1-42 1 67 1-13 1-31 1 0 1 17 1-57 1 51 1-6 1 22 1-57 1 20 1 12 1 53 1-52 1 22 1-23 1-13 1 43 1-25 1-17 1 18 1 13 1 19 1-10 1 15 1-58 1 23 1 34 1-31 1 33 1-58 1-7 1 1 1 69 1-20 1-24 1 16 1 12 1-9 1-7 1 8 1-20 1 12 1 13 1-20 1 44 1-81 1 83 1-43 1-11 1-2 1 4 1-26 1 62 1-27 1-6 1 17 1 2 1-48 1 51 1-6 1-5 1-2 1-9 1 9 1-15 1 6 1-9 1-22 1 57 1-65 1 54 1-28 1 13 1 11 1 43 1-92 1 61 1 1 1-47 1 25 1-47 1 6 1 25 1 11 1-13 1 54 1-39 1 1 1 16 1-19 1 44 1-60 1-10 1 66 1-37 1-36 1 29 1 37 1-1 1-47 1-25 1 75 1-29 1 21 1-13 1-15 1 9 1 17 1-72 1 58 1 1 1-33 1 28 1 5 1-29 1 50 1-45 1-7 1 9 1 22 1-5 1 44 1-41 1-10 1-15 1 18 1 14 1 11 1-20 1-4 1-28 1 31 1 13 1-10 1 9 1-6 1 50 1-15 1-11 1-42 1 14 1-6 1-26 1 57 1-56 1 19 1 28 1-56 1 74 1-7 1-24 1-15 1 15 1 49 1-46 1-6 1-67 1 30 1 32 1 31 1-37 1 39 1-35 1-4 1 19 1-16 1 14 1 7 1-54 1 24 1 23 1 12 1-24 1-10 1-8 1-15 1 25 1 41 1-80 1 22 1 8 1-13 1 72 1-28 1 3 1-43 1 60 1-22 1-46 1 22 1 26 1-58 1 82 1-45 1 17 1-19 1 20 1 14 1-26 1 39 1-47 1 21 1-31 1 35 1-80 1-17 1 6 1 132 1-56 1-13 1 52 1-13 1-39 1 37 1-5 1-59 1 67 1-2 1 37 1-31 1 3 1-74 1 12 1 63 1-82 1 31 1 24 1-25 1 11 1 29 1 25 1-22 1-23 1 9 1 10 1-43 1 51 1-49 1 35 1-15 1 31 1-29 1 20 1 25 1-44 1 1 1-23 1 14 1 33 1-10 1 47 1-34 1-62 1-5 1 19 1 12 1-8 1 3 1 56 1-22 1-52 1 0 1 24 1 14 1 2 1 4 1 10 1 25 1-52 1 15 1-6 1-49 1 28 1 33 1-32 1 53 1-65 1 20 1 11 1-19 1-23 1 49 1 13 1-78 1 53 1-38 1 56 1-27 1 26 1-33 1 23 1 10 1-56 1 31 1 60 1-46 1 18 1 7 1-16 1-2 1-13 1 21 1 27 1-34 1-36 1 57 1-50 1 4 1 23 1-19 1 27 1-9 1 15 1-37 1-24 1 53 1-48 1 85 1-32 1 3 1-70 1 60 1-35 1 72 1-55 1-12 1 15 1 69 1-74 1-16 1-13 1 23 1-49 1-15 1 5 1 90 1-35 1 27 1-15 1-17 1 38 1-92 1 70 1-5 1 27 1-20 1 8 1 31 1 2 1-47 1 10 1 65 1-12 1-48 1-6 1-17 1 47 1-47 1 23 1 6 1-10 1-29 1 11 1-8 1 40 1-10 1 22 1-15 1-4 1 1 1-30 1 8 1-9 1 16 1-24 1 25 1-22 1 12 1-6 1 20 1 30 1 6 1-88 1 41 1-2 1 16 1 7 1-85 1 102 1-27 1 0 1 28 1 3 1-14 1-10 1 4 1-33 1 51 1-41 1-27 1 15 1 52 1-21 1-30 1 9 1 28 1-48 1 43 1-13 1 29 1-35 1 20 1 1 1-40 1 22 1 44 1-56 1-4 1 43 1-11 1-12 1 8 1-10 1-13 1 29 1-66 1 72 1-5 1-64 1-11 1 61 1 5 1 23 1-57 1 25 1 26 1-32 1-25 1 18 1-39 1 27 1 18 1 12 1-15 1-17 1 9 1-5 1 22 1-14 1-12 1 36 1 29 1-78 1 29 1 27 1-18 1 13 1 37 1-39 1 32 1-42 1 8 1-32 1 33 1-13 1 17 1 2 1 26 1-61 1 21 1 19 1-20 1 16 1 8 1-25 1-25 1 38 1 54 1 15 1-5 1-50 1-51 1 37 1-26 1 22 1 38 1-30 1-65 1 58 1-18 1 23 1-5 1-12 1-4 1-45 1 58 1 4 1 13 1 16 1 8 1-59 1 65 1-84 1 14 1 30 1 22 1-30 1 0 1-29 1 49 1-10 1-8 1-70 1-17 1 6 1 122 1-25 1-12 1-31 1-34 1 15 1 34 1-38 1 51 1 11 1-73 1 87 1-17 1-4 1-44 1 53 1-36 1 31 1 21 1-38 1 2 1 34 1-7 1-2 1-45 1 13 1 5 1-6 1 25 1-25 1 28 1 19 1-17 1-23 1 3 1-25 1 71 1-38 1-16 1 35 1-31 1 17 1 18 1-58 1 65 1-61 1 36 1 14 1-2 1-4 1 3 1-29 1 55 1-80 1 11 1-14 1 61 1 34 1-44 1-11 1-13 1 22 1-12 1-6 1 44 1-86 1 75 1-35 1-21 1 47 1-20 1-42 1 49 1-34 1 20 1 1 1-12 1 24 1 0 1-31 1 18 1-6 1 44 1-31 1-31 1 8 1 14 1 22 1 3 1-27 1-25 1 35 1-32 1 41 1-39 1 57 1-31 1 33 1-45 1 2 1 40 1-114 1-22 1 8 1 127 1-2 1-42 1-15 1 47 1-4 1-13 1 19 1-7 1-28 1 15 1 8 1 13 1-53 1 54 1-19 1 30 1-12 1-17 1 12 1-80 1-18 1 6 1 141 1-84 1 40 1-53 1 38 1 20 1-34 1 21 1-7 1 24 1-40 1-12 1 42 1-60 1 61 1-21 1 48 1 8 1-104 1 18 1 7 1 73 1-50 1-5 1 9 1-5 1 31 1-20 1 25 1-20 1-18 1 29 1-13 1 4 1-11 1-23 1 17 1-4 1 47 1-27 1-31 1 43 1-11 1 14 1-59 1 46 1 7 1-35 1-12 1 94 1 17 1-6 1-73 1 8 1 1 1 3 1-25 1 12 1-5 1-13 1 17 1 33 1-14 1 8 1 20 1-51 1 33 1 2 1-5 1-50 1 30 1-33 1 28 1 9 1-26 1-1 1 12 1 30 1-15 1 19 1-24 1-9 1-36 1 2 1 19 1-7 1 18 1-65 1 32 1-29 1 59 1-1 1-17 1 23 1-4 1 34 1-50 1 21 1-17 1 26 1 40 1-58 1-18 1 63 1-8 1-17 1-1 1 37 1-89 1 19 1 42 1 31 1-56 1-42 1 30 1-8 1 54 1-30 1 44 1-89 1 36 1 69 1-7 1-60 1 9 1 12 1-24 1-36 1 42 1 56 1-42 1 29 1-13 1-29 1 13 1 23 1-27 1 21 1-35 1 20 1-16 1 17 1-27 1 23 1-3 1 14 1-18 1 49 1-114 1 86 1-20 1 15 1 0 1-23 1 24 1-2 1 24 1-11 1 6 1-77 1 81 1-7 1-32 1-32 1 80 1-3 1-43 1-6 1 45 1 10 1-21 1-44 1 20 1-20 1 22 1-2 1-17 1 19 1-9 1 29 1-8 1-27 1 18 1 13 1-36 1 3 1 14 1 20 1-43 1-41 1 85 1 19 1-20 1 4 1 9 1-3 1-52 1 0 1-16 1 19 1 31 1-40 1 44 1-7 1 21 1-61 1 5 1 38 1-4 1-9 1-4 1-17 1 20 1-8 1 49 1-31 1 38 1-92 1 10 1 18 1-10 1-23 1 27 1 65 1-35 1 55 1-40 1 11 1-32 1-10 1 34 1-16 1-15 1 11 1 1 1 57 1-50 1-32 1 14 1 45 1-32 1-13 1 31 1-42 1 38 1-12 1-6 1-60 1 66 1 6 1-33 1 31 1-18 1 63 1-65 1 8 1 33 1-68 1 41 1-2 1 29 1 8 1-27 1 25 1-52 1-10 1 39 1 25 1-31 1 17 1-32 1 0 1 15 1-12 1-25 1-17 1 57 1-32 1 25 1 21 1-60 1 22 1 7 1-6 1 14 1 23 1-73 1 22 1 17 1-18 1-9 1 39 1-21 1 24 1-25 1 23 1-69 1 72 1-23 1 2 1 20 1-33 1 27 1 8 1-10 1 19 1-50 1 14 1-9 1 60 1-41 1 26 1-22 1-30 1 26 1 11 1-33 1 3 1-22 1 95 1-56 1 19 1 12 1-25 1 32 1 28 1-34 1-17 1-54 1 66 1 12 1 20 1-41 1-3 1-10 1 41 1-18 1 39 1-63 1 45 1 30 1-100 1 17 1 4 1 0 1 35 1-54 1 55 1-77 1 44 1 53 1-70 1-28 1 57 1-34 1 33 1 11 1 50 1-98 1 43 1-21 1 39 1-6 1-52 1 38 1 1 1 22 1-38 1-15 1 81 1 16 1-5 1-108 1 52 1-12 1-47 1 49 1 34 1-16 1-14 1-56 1 41 1 11 1-27 1-12 1 53 1-57 1 15 1 11 1 72 1-66 1-31 1 43 1-66 1 57 1 29 1-42 1 8 1-14 1 27 1-39 1 48 1-18 1 36 1-12 1-26 1 22 1-5 1-6 1-12 1-14 1 0 1-6 1 21 1 19 1 27 1-32 1 12 1 26 1-90 1 91 1-57 1-5 1 20 1-73 1 67 1 20 1-66 1 67 1 16 1-11 1-9 1-18 1-8 1 49 1-49 1-49 1 77 1-15 1-22 1-13 1 48 1 8 1 1 1-55 1 6 1 80 1-1 1-24 1 7 1-50 1 5 1-45 1 30 1 18 1-28 1 54 1 14 1-38 1-23 1 66 1-65 1 1 1 35 1-17 1 11 1-9 1-19 1 42 1-48 1 4 1-1 1 76 1-131 1-19 1 6 1 110 1 2 1 15 1-27 1 11 1-2 1-29 1 43 1-60 1 87 1-123 1 101 1-51 1-9 1 24 1-19 1 22 1 43 1-55 1-21 1 45 1 30 1-29 1-24 1 0 1-21 1 14 1 2 1 66 1-111 1 57 1-22 1 32 1-5 1-5 1-40 1 1 1 24 1-36 1 62 1-24 1 26 1-46 1-41 1-18 1 6 1 141 1-111 1 49 1 16 1 42 1-42 1 52 1-62 1 6 1-52 1 56 1-36 1-3 1-23 1 60 1-26 1 60 1-11 1-22 1-7 1 32 1-21 1-30 1 31 1-8 1 19 1-60 1-10 1 41 1 9 1-47 1 31 1 30 1 18 1-20 1-73 1 73 1-37 1 22 1 5 1-40 1 41 1-16 1 37 1 5 1-13 1-25 1 23 1 34 1-64 1 17 1 3 1 9 1 43 1-101 1 54 1-26 1-23 1 7 1 24 1 5 1-8 1-15 1 8 1 27 1-23 1 2 1-9 1 13 1-31 1 31 1-18 1 22 1 17 1 10 1-21 1-19 1-19 1 36 1 11 1 0 1-48 1 32 1 16 1-33 1 54 1-38 1 5 1 2 1 27 1-56 1-19 1 79 1-38 1-14 1-42 1 71 1 14 1-25 1-54 1 52 1-5 1-40 1 103 1 1 1-81 1 3 1 57 1-50 1 12 1-4 1 27 1-10 1 12 1-25 1 8 1-51 1 28 1 58 1-52 1-27 1 30 1-21 1 29 1-19 1 43 1-45 1 57 1-71 1 74 1 16 1-69 1 18 1-8 1-8 1 12 1 23 1-29 1-4 1-3 1-40 1 72 1-21 1-13 1 26 1 20 1-17 1-43 1 36 1-24 1 36 1-31 1 29 1 5 1-25 1 1 1-37 1 81 1-56 1-29 1 7 1 46 1 7 1-4 1-21 1 3 1-5 1-6 1 44 1 1 1 3 1 3 1-33 1-11 1-58 1 52 1 14 1-37 1 57 1-28 1-17 1 5 1 10 1 20 1 23 1-28 1 11 1-34 1 22 1-18 1 57 1-68 1 48 1 19 1-5 1-20 1-46 1 11 1 49 1-33 1 5 1 39 1-15 1 27 1-31 1 47 1-49 1 4 1-3 1 0 1-52 1 40 1-16 1-13 1-4 1 6 1 32 1 14 1-8 1-8 1-13 1 3 1-31 1 31 1-50 1 20 1 40 1-35 1 31 1-45 1 26 1 0 1 55 1-111 1 73 1-3 1-33 1 35 1 17 1-40 1 44 1-46 1 16 1-26 1 61 1-64 1 25 1-44 1 69 1-66 1 30 1-2 1 40 1-34 1-3 1 39 1 9 1-10 1-59 1 34 1-20 1 17 1 4 1-2 1 16 1-43 1 28 1-1 1 42 1-45 1 26 1-4 1-41 1 56 1-23 1-22 1-14 1 44 1-22 1 1 1 37 1 27 1-6 1-66 1 13 1 38 1-19 1-6 1-1 1-9 1-59 1 79 1-24 1 24 1-4 1 7 1-17 1 8 1-24 1 4 1 29 1-74 1 81 1-40 1-47 1 75 1-53 1-3 1 29 1 57 1-86 1 35 1 17 1-48 1 53 1-47 1 42 1-29 1 43 1-18 1 14 1-6 1-23 1 9 1-9 1-29 1 37 1 45 1-41 1-10 1-24 1-1 1 3 1 31 1-23 1 54 1-71 1 22 1-2 1 23 1-11 1 19 1-32 1 49 1-60 1 11 1-39 1 55 1 1 1-8 1 5 1 3 1 26 1 1 1-15 1-7 1 24 1-1 1-23 1-27 1 25 1-23 1-8 1 5 1 32 1-1 1 39 1-32 1-30 1 41 1-64 1-2 1 47 1-34 1 62 1-10 1-18 1-10 1 5 1 18 1-74 1 44 1 0 1-10 1 13 1 11 1 8 1 29 1-83 1 64 1 19 1-22 1 21 1-95 1 43 1-28 1-1 1 24 1-1 1 34 1-16 1 13 1-17 1 20 1-52 1 13 1 23 1 41 1-61 1-6 1 25 1 32 1-45 1-16 1 78 1-65 1 62 1-50 1-43 1 43 1-10 1-54 1-17 1 6 1 42 1 44 1 1 1-10 1-57 1 52 1-24 1 39 1 24 1-68 1 37 1 18 1-2 1-1 1-2 1 25 1-72 1 21 1-15 1 35 1-19 1 5 1-26 1 9 1 12 1 27 1 14 1-11 1-4 1-2 1 18 1-76 1 36 1 60 1-24 1 7 1-42 1-21 1 53 1-42 1 24 1-38 1-5 1 27 1-10 1 19 1 9 1 21 1-39 1 10 1 9 1-9 1 3 1 23 1-14 1-43 1 36 1-43 1 67 1 5 1-39 1-17 1 38 1-34 1-8 1-3 1 30 1-1 1 42 1-44 1-7 1-29 1 70 1-11 1 4 1-50 1 89 1-37 1-82 1 36 1 52 1-33 1-24 1 8 1 20 1 15 1-42 1 22 1-22 1 11 1 23 1-50 1 50 1-24 1 28 1-11 1 1 1 11 1-24 1-28 1-14 1 11 1 42 1-42 1 27 1-36 1 79 1-71 1 54 1-46 1 43 1-36 1 31 1 41 1-23 1-19 1-7 1 59 1-27 1-13 1-13 1-11 1 27 1 18 1-47 1 16 1-32 1 37 1-30 1 40 1-30 1 4 1-9 1 36 1-21 1 18 1-17 1-21 1 34 1-18 1-18 1 16 1-27 1 18 1-16 1 18 1-53 1 27 1 80 1-52 1 5 1 60 1-35 1-11 1 7 1-22 1 50 1-66 1-1 1 11 1 18 1-9 1 12 1-41 1 16 1-38 1 61 1-47 1 52 1-10 1 22 1-40 1 15 1-18 1-22 1 40 1-11 1-14 1 25 1 12 1-23 1-4 1-7 1-1 1 39 1-29 1-20 1 43 1-21 1 25 1-20 1-40 1 40 1 29 1-34 1 4 1-23 1 64 1-12 1-22 1 38 1-69 1 82 1-31 1 16 1-21 1-37 1 5 1-9 1 9 1 68 1-60 1 55 1-35 1-3 1 4 1-26 1 33 1-65 1 29 1-15 1 11 1-4 1 24 1-51 1 77 1-39 1 12 1 6 1-14 1 28 1-42 1 2 1 18 1-17 1 46 1 20 1-32 1-9 1-70 1 70 1-32 1 4 1-32 1 51 1-14 1 22 1 18 1 3 1-6 1-57 1 30 1 11 1-4 1 15 1-14 1 0 1-18 1-6 1 65 1-48 1-29 1 62 1-20 1-11 1-24 1 13 1 21 1-19 1-13 1 16 1-38 1 37 1 38 1-7 1-16 1 2 1-22 1 7 1-35 1 23 1-17 1 58 1-9 1-28 1 15 1-14 1 10 1 22 1-60 1 15 1 69 1-24 1-16 1-17 1 19 1 33 1-56 1 26 1-36 1 23 1-18 1 5 1-2 1 36 1-39 1 21 1 37 1-22 1-1 1-21 1-6 1 47 1-48 1 21 1 25 1-48 1 41 1 11 1-51 1-3 1 40 1-44 1 1 1 39 1-64 1 52 1-7 1 67 1-77 1 32 1-27 1 55 1-74 1-8 1-11 1 15 1 19 1 6 1 22 1 6 1-17 1-39 1 58 1-27 1 7 1-11 1 20 1-33 1-2 1 60 1-64 1 48 1-12 1-36 1 26 1-12 1-6 1 5 1 29 1 11 1-42 1-2 1 10 1 14 1-27 1 23 1 34 1-42 1-6 1-7 1 43 1-3 1-28 1 20 1-10 1-26 1 14 1-37 1 40 1-37 1 17 1-38 1 64 1 3 1-36 1 47 1-1 1-19 1-3 1 46 1-43 1 15 1-8 1-5 1 9 1-32 1 15 1 17 1-7 1-24 1 6 1-12 1 36 1-7 1-48 1 52 1-44 1 21 1 33 1 25 1-52 1 34 1 0 1 26 1-74 1 27 1 2 1-9 1 4 1 3 1-10 1 20 1 59 1-85 1 8 1 10 1-40 1 76 1 39 1-112 1 27 1 53 1-32 1-26 1 47 1-45 1-40 1 18 1 37 1-9 1 32 1-28 1 84 1 19 1-6 1-143 1 48 1 28 1-15 1-49 1-4 1 58 1-21 1-18 1 32 1 21 1-5 1-25 1 20 1 13 1-27 1-30 1 6 1 24 1-55 1 69 1-18 1 33 1-55 1 23 1 40 1-22 1-67 1 27 1 16 1-19 1 63 1-20 1 13 1-13 1-11 1-24 1-12 1 1 1-44 1 82 1-13 1-13 1 34 1-14 1-17 1 33 1-35 1-19 1 60 1 29 1-60 1 29 1-31 1 16 1-20 1-21 1 8 1 30 1 21 1 34 1-8 1-35 1-23 1 20 1-2 1 25 1 2 1 2 1-60 1 66 1-67 1 40 1-37 1 8 1-13 1-11 1 50 1 5 1-13 1 8 1-36 1 20 1-3 1-11 1 23 1-40 1 75 1-53 1-7 1 33 1-2 1-41 1 31 1 41 1-14 1-60 1 48 1-56 1-2 1 41 1-19 1 35 1-11 1 7 1-33 1 48 1-29 1-5 1-12 1 68 1-9 1-23 1-17 1-9 1-1 1-47 1 35 1 2 1 27 1-32 1 2 1 1 1 20 1-19 1-23 1 59 1 35 1-76 1 2 1 25 1 5 1-82 1 83 1 19 1-19 1-25 1 28 1-5 1-18 1 19 1-14 1 4 1 26 1-29 1 32 1-54 1 48 1-18 1 40 1-35 1 21 1-70 1 41 1-16 1 58 1-13 1-28 1 31 1-64 1 39 1-14 1-4 1 12 1-24 1 37 1-26 1-21 1 25 1 2 1 12 1-10 1-16 1 23 1 37 1-47 1 8 1-16 1 11 1-39 1 71 1-6 1-41 1 42 1-34 1 9 1 49 1-67 1-18 1 30 1 41 1-56 1 47 1-24 1-13 1 30 1 23 1-39 1-3 1 21 1-2 1-38 1 21 1 9 1 3 1-19 1 2 1 7 1 30 1-25 1 6 1-17 1-28 1 5 1 8 1 14 1 10 1-16 1 20 1-3 1 12 1-19 1 0 1-48 1 33 1 23 1-29 1 31 1-37 1 6 1-53 1 100 1-26 1 1 1-10 1-10 1 42 1-6 1-26 1-17 1 52 1 11 1-67 1 7 1-6 1 52 1-20 1-10 1-6 1 14 1-1 1-27 1 36 1-74 1-16 1 6 1 70 1 9 1 5 1-46 1 28 1 16 1-40 1 45 1-14 1 3 1 12 1-5 1-12 1 38 1-26 1-16 1 0 1-1 1-50 1 41 1 20 1-1 1-3 1-10 1 18 1-45 1 65 1-43 1 3 1 41 1-44 1 2 1 29 1-72 1 39 1 25 1 4 1 7 1-25 1 5 1 36 1-9 1-8 1-8 1-1 1 8 1-32 1-8 1 22 1 55 1-50 1-17 1 15 1-8 1 4 1 39 1 25 1-77 1 28 1-23 1 71 1 16 1-5 1-42 1-29 1 26 1-28 1-10 1-4 1 12 1 37 1-39 1-16 1-3 1-28 1 39 1 38 1-12 1-15 1-23 1 53 1-50 1 7 1 37 1-36 1 33 1-18 1 7 1-13 1 34 1-41 1 66 1-44 1 4 1-52 1 25 1 25 1 10 1-22 1 16 1-70 1 122 1-69 1 61 1-85 1 45 1-59 1 53 1-40 1 22 1-24 1 28 1 73 1-55 1 21 1-62 1 10 1 13 1-11 1 7 1 18 1-61 1 42 1 10 1 31 1-20 1-16 1 5 1 7 1-10 1 26 1-28 1 38 1-17 1-2 1-40 1 10 1 10 1 30 1-19 1-29 1-11 1 66 1-25 1-13 1-6 1 8 1-67 1-17 1 6 1 106 1-29 1-11 1-16 1 6 1 1 1-10 1 35 1-22 1-19 1 56 1 16 1-10 1-59 1 4 1 39 1-15 1-5 1-15 1 72 1-32 1-7 1-15 1 6 1 10 1-15 1 70 1-53 1-30 1-2 1 38 1-26 1-40 1 5 1 43 1 32 1-34 1 11 1-28 1 52 1-26 1-12 1 18 1-37 1 54 1 2 1-21 1-29 1 27 1 8 1-35 1 14 1 19 1-16 1 9 1-21 1 11 1 24 1-8 1-2 1-19 1 0 1 29 1-15 1-13 1-19 1 21 1-42 1 47 1-17 1 26 1 16 1-27 1-9 1 4 1 4 1 12 1 12 1-13 1-19 1-12 1 2 1 7 1-12 1-4 1 22 1-8 1 28 1-9 1-15 1 40 1-8 1-24 1 38 1-34 1 38 1-42 1 4 1 15 1 9 1-11 1 43 1 10 1 16 1-5 1-63 1-9 1-38 1-9 1 55 1-38 1-3 1 16 1 37 1-1 1-37 1-44 1 62 1-43 1-8 1 78 1-16 1-52 1 13 1 10 1 14 1-16 1 32 1-78 1 90 1 16 1-48 1-32 1 48 1-11 1 24 1-23 1 23 1 0 1 11 1-22 1-60 1 47 1-6 1-50 1 71 1 9 1-38 1 43 1-38 1-21 1 56 1-14 1-55 1 68 1-9 1-23 1 14 1 13 1-61 1 54 1-22 1 18 1-4 1 28 1-57 1 34 1-43 1 61 1-17 1-24 1 9 1 19 1-13 1 29 1-33 1 67 1-70 1-30 1 12 1 1 1 31 1-22 1 22 1-8 1 0 1 20 1-45 1 12 1-10 1 45 1-41 1 5 1 67 1-11 1-45 1 17 1-16 1 16 1-53 1 84 1-13 1-10 1 10 1-20 1-13 1 32 1-42 1-24 1 6 1-23 1 22 1 29 1-45 1 26 1-29 1 52 1 47 1-23 1-34 1-9 1 19 1-30 1 53 1-11 1-42 1 23 1-1 1-32 1 8 1 46 1-24 1 47 1-42 1-10 1 53 1-82 1-11 1 37 1-10 1-15 1 42 1-30 1 16 1 47 1-15 1-8 1-41 1 24 1-22 1 36 1 20 1-83 1-16 1 58 1 14 1-34 1 57 1-22 1 30 1-48 1 6 1 16 1 7 1 21 1-17 1-51 1 39 1-40 1 53 1-20 1 10 1-5 1-26 1 70 1-69 1 1 1 17 1-1 1 7 1-23 1 16 1 22 1-24 1-20 1 14 1 9 1-5 1 18 1-1 1 35 1-42 1-29 1 34 1 13 1-45 1 18 1 1 1-8 1-6 1 18 1 20 1-64 1 42 1 20 1-23 1-25 1 64 1-67 1 36 1-53 1 33 1 19 1-33 1-1 1 40 1-14 1 18 1-35 1 57 1-30 1 48 1-67 1 69 1-29 1-32 1 15 1 2 1 13 1-12 1 31 1-51 1-11 1 1 1 19 1-31 1 19 1-12 1 14 1 9 1 19 1 46 1-80 1 18 1-51 1 97 1-69 1 44 1-24 1 22 1-30 1 9 1-22 1 18 1-8 1-20 1 19 1 16 1-34 1 33 1-13 1 18 1 9 1 57 1-91 1 46 1-47 1-26 1 77 1-54 1 24 1-14 1 41 1-30 1-4 1-31 1-17 1 45 1 16 1-63 1 57 1-1 1-4 1-9 1-6 1 31 1-11 1-49 1 7 1 28 1 4 1 13 1-31 1 38 1-16 1 14 1 4 1-16 1 1 1 14 1-12 1-4 1 14 1 4 1-13 1-20 1-10 1 23 1 11 1-6 1-48 1 25 1 45 1-22 1 12 1-4 1 32 1-42 1 34 1-19 1-51 1 13 1 45 1 4 1-3 1 24 1-22 1-17 1 19 1-44 1 19 1 12 1-56 1 26 1 15 1-43 1 13 1 49 1-25 1 19 1 24 1-81 1 9 1 68 1-43 1 52 1-66 1 27 1 6 1-38 1 31 1 6 1-28 1 29 1-28 1 21 1-20 1 5 1-4 1 44 1-71 1 50 1-47 1 58 1-8 1-1 1-34 1 39 1-21 1 49 1-27 1-18 1 9 1 43 1-58 1 36 1-72 1 53 1-61 1 40 1 5 1 23 1-9 1-14 1 59 1-73 1 54 1-23 1 62 1-79 1-7 1 11 1-1 1 17 1-13 1-26 1 41 1-23 1-6 1 24 1-12 1 1 1 17 1-72 1 71 1-53 1 15 1 78 1-57 1-20 1 6 1 43 1-29 1 36 1-4 1-20 1-11 1-35 1 31 1-17 1 56 1-1 1-17 1-56 1 77 1 7 1-38 1-32 1 71 1-35 1 28 1-70 1 19 1 10 1 8 1 5 1-9 1 19 1 6 1 6 1-28 1 20 1-42 1 75 1-67 1 1 1-17 1 36 1 32 1-15 1-51 1 36 1 2 1 5 1-13 1 4 1 33 1-24 1-40 1-11 1 39 1 10 1-47 1 39 1 25 1-27 1-20 1-22 1 51 1-25 1 22 1-37 1 22 1 0 1 31 1-17 1 0 1 14 1-43 1 22 1 4 1 4 1-9 1-6 1 39 1-36 1 0 1 3 1 37 1-102 1-16 1 5 1 43 1 11 1 31 1 5 1 0 1-22 1 25 1-3 1 49 1-41 1-2 1-6 1-44 1 64 1 0 1-49 1 40 1-21 1-8 1 4 1 20 1-43 1-14 1 62 1-18 1-30 1 29 1 19 1-14 1-31 1 45 1-31 1-3 1 26 1-31 1-2 1-9 1 2 1 61 1-60 1 8 1-10 1 46 1-44 1 13 1 38 1-60 1 51 1 6 1-36 1 25 1-24 1 15 1-13 1-13 1 21 1-22 1 0 1 42 1-42 1 6 1-51 1-16 1 6 1 57 1 56 1-48 1 15 1 3 1-15 1 16 1-48 1 33 1 7 1-19 1-1 1-9 1 13 1 17 1-4 1 57 1-17 1-63 1 34 1-53 1 0 1 76 1-39 1-64 1 92 1-30 1 16 1 0 1 1 1-6 1-20 1 39 1-33 1 31 1-31 1 5 1 27 1-22 1 21 1 3 1-50 1 74 1-59 1-4 1 33 1-42 1 4 1 55 1-45 1 1 1 30 1-32 1-5 1 37 1 32 1-60 1 29 1 24 1-33 1 50 1-51 1-46 1 108 1-82 1 34 1-13 1 13 1-39 1 16 1 20 1 13 1-22 1-40 1 59 1-40 1 2 1 58 1-78 1 29 1-57 1 13 1 49 1-2 1 21 1 9 1-54 1 26 1 4 1-6 1-21 1-7 1 24 1 5 1-8 1-49 1 104 1-23 1-41 1 8 1-27 1-2 1-17 1 70 1-35 1 21 1-30 1 19 1-17 1 41 1-23 1 17 1-6 1 4 1 15 1-54 1 20 1-20 1 53 1 24 1-33 1-12 1-24 1-7 1-4 1-8 1 21 1 15 1 22 1-36 1 30 1 7 1-35 1 9 1-16 1 40 1-48 1 21 1 13 1 15 1 8 1 7 1-70 1 72 1-52 1 22 1 8 1-2 1-10 1-25 1 9 1 14 1 34 1 11 1-92 1 72 1 14 1-68 1 67 1-57 1-5 1 18 1-18 1 59 1-4 1-26 1-5 1 2 1-14 1 31 1 35 1-64 1 16 1-27 1-32 1 51 1-13 1 38 1-46 1 14 1 3 1-17 1 52 1-43 1 2 1-28 1 86 1-44 1-57 1 65 1 1 1-56 1-18 1 60 1 21 1-3 1-5 1 11 1-1 1-24 1 3 1-11 1 11 1 32 1-50 1 13 1 21 1-8 1-15 1 6 1 5 1-69 1-16 1 5 1 78 1 27 1-24 1-16 1-10 1 18 1 6 1 16 1-23 1 33 1-31 1 3 1 23 1-31 1 13 1-20 1 27 1-24 1-27 1 35 1-16 1 36 1-7 1 39 1-44 1 25 1-32 1 55 1-30 1-24 1-8 1 52 1-31 1-76 1 45 1 16 1 74 1-47 1-36 1 7 1-5 1-13 1 22 1-19 1 66 1-108 1 71 1 8 1-54 1 23 1-9 1 40 1-23 1-11 1 47 1-23 1 0 1 2 1 10 1 14 1-43 1-60 1-17 1 6 1 99 1 20 1-39 1 10 1-58 1-8 1 18 1 63 1 12 1-29 1 17 1-59 1 33 1 13 1-9 1-32 1 55 1-36 1 46 1-29 1 12 1-25 1 4 1-26 1 13 1 32 1 19 1-13 1-10 1-5 1 13 1-46 1 4 1 30 1 6 1-7 1-5 1 0 1 40 1-30 1 37 1-49 1-16 1 44 1-31 1 20 1 2 1-67 1 27 1 10 1 23 1-21 1 15 1-16 1 34 1-21 1 8 1 26 1-78 1 22 1 40 1 17 1-18 1 2 1-5 1 22 1-17 1-22 1-9 1 60 1-50 1 25 1 2 1-19 1 10 1-35 1 0 1 25 1 9 1-62 1-2 1 38 1 13 1-29 1-11 1 50 1-59 1 49 1-31 1 40 1-14 1 13 1-12 1-25 1 48 1-15 1-21 1 25 1-63 1 89 1-102 1 81 1-84 1-17 1 6 1 114 1-27 1-10 1-13 1-11 1-3 1-9 1 62 1-50 1 70 1-48 1 31 1 18 1-69 1 24 1-26 1 66 1-10 1-28 1 14 1-18 1 17 1-7 1 21 1-62 1 41 1 22 1-48 1 5 1 7 1 0 1 16 1-7 1 53 1-17 1-8 1-39 1-24 1 36 1 2 1-35 1 38 1-26 1 5 1 45 1-42 1 3 1 35 1-3 1 6 1-68 1-19 1 36 1-22 1 75 1-71 1-14 1 9 1 66 1-52 1 30 1-30 1 44 1-17 1 15 1-27 1 15 1-31 1 7 1 11 1 11 1 7 1-8 1-19 1 16 1-4 1 8 1 1 1 15 1 32 1-63 1 0 1 39 1-74 1 79 1-55 1 19 1-2 1-21 1 6 1 23 1 28 1 4 1-36 1-36 1 18 1 23 1-9 1-9 1-27 1 64 1-38 1 11 1 27 1 6 1-58 1 24 1 14 1-8 1-23 1 23 1-39 1 48 1 14 1-18 1 21 1-15 1-40 1-12 1 27 1 11 1 29 1 2 1-35 1 5 1 19 1-3 1-52 1 15 1 24 1-5 1-26 1 23 1 3 1 47 1 3 1 5 1 9 1-57 1-9 1 31 1-34 1 0 1 13 1 36 1-75 1 2 1 50 1-79 1-16 1 6 1 85 1 37 1-39 1 32 1-70 1 21 1 44 1-50 1 58 1-48 1-8 1 11 1 30 1-26 1 2 1-6 1-37 1-5 1 3 1 57 1 3 1-20 1-11 1 64 1-37 1-62 1 78 1-13 1 0 1-31 1 14 1 7 1 30 1-54 1 15 1 18 1-18 1-20 1 58 1 2 1-13 1-4 1-18 1 11 1-44 1 37 1-35 1 101 1-72 1-38 1-5 1 53 1 9 1-31 1 41 1-22 1 34 1-46 1 2 1-41 1 32 1 26 1-14 1 31 1-34 1 6 1-16 1-14 1 76 1-60 1-11 1 50 1-79 1 67 1-82 1 43 1-4 1 18 1-20 1 53 1-6 1 30 1-64 1 32 1-38 1 4 1 50 1-53 1 12 1 1 1-6 1 12 1-1 1-27 1 53 1 6 1-12 1-46 1 35 1-58 1 45 1 23 1-7 1-18 1-28 1 39 1 22 1-48 1-18 1 105 1-80 1 7 1 29 1-9 1-20 1 7 1 7 1 24 1-38 1 25 1-20 1 18 1-21 1-14 1 13 1-10 1 52 1-47 1 4 1 24 1-12 1 68 1-74 1 12 1 48 1-71 1 29 1-24 1 14 1-19 1 10 1 10 1-20 1-9 1 80 1-59 1 16 1 13 1-62 1 9 1 51 1 2 1-49 1 37 1-8 1 42 1-47 1-33 1 42 1-9 1-48 1 22 1-14 1 20 1-14 1 74 1-22 1 21 1-100 1 53 1 8 1 16 1 7 1 46 1-130 1 60 1-4 1 38 1-35 1-11 1 12 1-18 1 37 1-30 1-14 1 8 1 5 1 12 1 23 1-40 1 25 1 14 1-44 1 61 1-27 1-34 1-5 1 34 1-11 1-12 1 15 1 19 1-31 1 6 1 2 1-26 1 21 1 19 1-15 1-46 1 68 1-12 1 14 1-29 1 41 1-44 1-8 1 40 1 2 1 16 1-39 1 30 1-13 1-5 1 6 1-39 1-19 1 95 1-33 1-28 1 34 1-14 1-19 1-30 1 5 1 38 1-11 1 13 1-5 1 26 1 15 1-36 1-34 1 5 1 68 1-43 1 11 1-24 1 36 1-52 1 29 1-20 1-8 1 73 1-45 1-44 1 38 1-26 1 16 1 23 1-20 1-19 1-7 1-4 1 66 1-50 1 57 1-32 1 2 1-22 1 9 1-24 1 47 1-37 1 12 1 10 1 30 1-45 1 6 1-12 1 22 1 5 1-16 1-2 1-6 1-31 1 64 1-67 1 26 1 1 1 46 1-73 1 74 1-50 1 53 1 4 1-50 1-2 1 41 1-80 1 70 1-49 1 67 1-2 1-27 1 29 1-38 1 67 1-60 1 19 1 10 1-30 1 11 1 6 1-32 1 13 1-2 1-25 1 36 1-23 1 32 1-26 1 2 1 28 1 24 1-6 1-8 1-39 1 18 1 4 1-20 1-6 1-17 1 51 1-30 1-4 1 43 1-28 1 27 1-18 1-16 1 54 1-21 1-2 1-23 1 21 1-28 1 32 1-9 1-29 1 7 1 5 1 5 1-27 1-10 1 45 1 9 1 8 1-71 1 67 1 11 1-40 1-20 1 58 1-28 1 33 1-19 1-59 1 37 1 11 1-8 1-6 1 10 1 28 1 0 1-82 1 71 1-50 1 49 1-87 1-17 1 6 1 28 1 75 1-17 1 15 1-2 1-10 1 15 1-16 1-49 1 85 1-12 1-8 1-13 1-37 1 7 1 6 1 7 1-56 1 90 1 1 1-29 1-6 1 12 1 15 1 12 1-26 1 11 1-6 1 15 1-62 1 23 1-36 1 61 1-15 1 8 1-7 1 7 1-2 1 46 1-44 1-24 1 67 1-41 1-23 1-18 1 35 1-14 1-33 1 11 1 45 1 4 1-42 1 21 1 19 1-8 1-14 1 14 1 1 1 0 1 32 1-83 1 111 1 17 1-6 1-81 1-11 1-6 1 67 1-56 1 35 1-24 1 15 1-60 1 30 1 14 1-36 1 37 1 17 1-14 1 5 1-11 1-20 1 25 1-2 1-27 1 18 1-17 1 21 1 37 1-5 1 14 1-72 1 19 1 23 1 13 1-35 1 13 1-12 1 30 1 7 1-69 1 65 1-24 1-35 1 81 1-64 1 16 1 5 1-10 1 37 1 26 1-105 1 56 1-30 1-6 1 21 1-4 1-7 1-22 1 28 1-20 1 40 1 3 1-13 1-8 1-3 1-36 1 28 1 20 1-49 1 42 1-1 1-3 1 21 1 19 1-31 1 11 1 14 1-25 1 9 1 10 1 30 1-41 1-49 1 22 1-5 1 28 1-27 1 44 1-6 1-25 1 50 1-38 1-6 1-35 1 60 1-28 1 27 1-3 1 55 1-45 1-53 1 16 1 9 1-58 1 49 1 45 1-26 1-4 1-42 1 63 1-33 1-14 1 45 1-23 1 54 1-54 1 58 1-46 1-53 1 33 1 9 1-2 1-51 1 40 1-12 1 37 1 0 1 16 1-22 1 13 1-43 1 9 1 19 1 11 1 60 1-59 1-22 1-9 1 19 1 58 1-65 1 31 1-21 1 6 1-27 1 63 1-33 1-39 1 19 1 26 1-32 1 4 1 30 1-40 1 0 1 21 1-28 1 54 1-49 1 24 1 19 1-8 1-45 1 43 1-5 1 8 1 4 1-45 1-32 1 22 1 21 1-6 1 28 1 4 1 17 1-66 1 45 1 10 1-2 1-22 1 19 1-14 1-4 1-30 1 66 1-39 1 25 1-7 1-52 1 25 1 26 1-22 1 13 1-29 1 41 1-25 1 18 1-6 1 4 1 12 1-18 1-23 1 41 1-6 1-19 1 28 1-41 1 4 1 77 1-42 1 11 1-49 1-3 1 55 1-13 1-16 1 8 1-28 1-7 1 10 1-12 1 3 1 26 1 9 1 8 1-40 1-1 1-4 1 35 1 1 1-17 1-25 1 23 1 4 1 26 1-32 1-2 1 37 1-68 1 67 1-46 1 28 1-9 1 24 1-6 1-32 1 23 1 4 1-31 1 4 1 14 1-2 1-37 1 47 1-14 1-1 1 47 1 13 1-52 1-19 1 17 1 19 1 3 1-37 1 28 1 33 1-58 1 11 1-4 1-16 1-7 1 19 1 19 1 49 1-61 1 11 1-37 1 1 1 20 1-23 1 37 1-1 1 21 1-14 1-13 1-22 1 46 1-39 1-39 1 93 1-27 1-7 1-25 1-25 1 19 1 32 1 21 1-20 1-1 1-7 1 29 1-61 1 56 1-35 1 12 1 33 1-29 1 1 1 5 1-25 1 32 1-76 1 36 1 51 1 40 1-95 1 26 1 4 1 27 1 12 1 11 1-113 1 25 1 54 1-61 1 94 1-64 1-1 1 40 1-10 1 15 1-28 1-32 1 8 1 15 1-18 1 74 1-97 1 53 1 32 1-24 1 7 1-19 1-6 1 68 1-92 1-12 1 71 1-64 1 5 1 7 1-16 1 77 1-54 1 44 1-86 1 85 1 7 1-60 1 13 1 15 1-3 1-12 1-29 1 63 1-4 1 0 1-13 1-2 1 33 1-40 1 40 1-25 1-1 1 0 1-45 1-4 1 15 1-13 1 48 1-44 1 38 1-7 1-2 1 42 1-19 1-11 1-14 1 13 1 18 1 8 1-30 1 31 1 0 1-28 1-7 1 26 1 24 1-53 1-14 1 32 1-1 1 50 1-83 1 52 1-47 1 34 1-12 1 1 1 42 1-117 1 111 1-43 1 23 1-14 1-42 1 83 1-44 1-16 1 9 1-7 1 30 1 23 1-9 1-23 1-30 1 17 1-39 1 39 1-2 1-1 1 50 1-59 1 43 1-19 1-70 1 92 1-35 1-4 1 4 1 3 1 15 1-66 1 103 1-25 1-65 1 24 1 34 1 4 1-17 1-74 1 55 1 39 1-33 1 23 1-55 1 31 1-25 1 28 1-48 1 42 1 3 1 34 1-16 1-21 1 23 1-77 1 65 1 19 1-45 1 39 1-24 1 13 1 16 1-54 1 33 1-25 1 36 1 28 1-5 1-18 1-9 1-6 1-12 1 45 1-37 1 37 1-14 1-84 1 34 1 42 1-56 1 10 1 14 1-15 1 44 1-3 1 19 1-38 1 48 1-20 1-24 1 24 1-21 1-38 1 72 1-62 1 54 1 7 1-30 1-21 1 45 1 0 1-7 1 7 1-23 1 23 1-12 1-16 1 20 1-40 1 47 1 2 1-72 1 14 1 37 1-20 1 13 1 22 1-31 1 10 1-25 1 80 1-68 1 16 1 22 1-6 1-1 1 24 1-20 1-35 1 60 1-30 1 51 1-46 1-25 1 12 1-3 1 30 1-43 1 38 1-47 1 18 1 15 1-48 1 49 1-37 1 24 1 2 1-25 1 14 1 12 1 3 1-9 1 3 1 11 1 18 1 40 1-64 1 4 1-38 1 20 1-18 1-15 1 47 1 19 1-43 1 37 1-9 1-44 1 23 1-14 1 63 1-35 1-28 1 61 1-38 1-5 1 70 1-101 1 60 1-15 1-47 1 89 1-58 1 24 1-13 1 23 1-57 1 64 1-38 1-5 1 17 1 4 1 0 1-33 1 15 1 14 1 25 1-32 1-9 1 14 1-38 1 87 1-114 1 69 1 25 1 15 1-67 1 8 1 20 1-4 1-6 1 15 1-40 1 13 1 19 1 40 1-78 1 48 1 14 1-60 1 21 1 64 1-9 1-32 1 22 1-29 1-71 1 82 1-14 1-21 1-3 1 26 1 35 1-65 1 32 1-16 1-7 1 39 1-64 1 41 1-4 1 17 1-29 1-8 1 41 1-30 1 26 1 21 1-23 1-24 1 1 1-14 1 46 1-10 1-10 1-14 1 19 1 22 1 15 1-70 1 3 1 44 1-55 1 40 1-14 1-20 1 45 1 7 1 25 1-53 1-3 1-11 1 7 1 12 1-27 1 57 1-37 1-3 1 16 1-47 1 33 1-24 1 12 1 28 1-55 1 21 1 29 1 3 1 24 1-23 1 2 1-11 1 16 1-26 1 17 1 39 1-28 1 10 1 10 1-26 1-31 1 53 1 23 1-48 1 27 1-16 1-22 1 18 1-33 1-15 1 41 1-35 1 59 1-33 1 38 1-38 1 21 1-22 1 35 1-35 1 3 1 18 1 6 1 10 1-21 1-20 1 13 1-7 1-29 1 41 1-16 1-13 1 8 1 3 1 8 1-48 1 52 1 8 1-25 1-27 1 5 1 36 1-21 1 9 1 11 1-15 1 1 1 12 1-41 1 55 1-46 1-18 1-1 1 48 1 12 1 36 1-40 1-64 1 103 1 0 1-62 1 6 1 63 1-46 1-10 1 48 1-64 1 59 1-63 1 24 1 23 1 23 1-32 1-7 1 1 1 12 1-10 1-28 1 46 1-18 1-17 1 12 1-22 1-18 1 49 1-15 1 13 1 2 1-26 1 46 1-63 1 83 1-84 1 48 1 13 1-14 1-5 1 19 1 10 1-22 1-38 1 14 1-25 1 51 1-7 1 0 1-13 1-8 1-33 1 27 1 14 1-31 1 55 1 14 1-51 1 13 1 1 1-21 1 33 1-6 1-13 1-7 1-8 1 22 1-4 1 70 1-94 1 72 1-40 1-66 1 74 1 32 1-82 1 55 1-10 1 0 1-23 1-1 1 23 1-31 1 51 1-40 1 33 1-34 1 35 1-5 1-50 1 67 1 2 1-46 1 22 1 4 1-7 1-58 1 81 1-20 1-11 1 29 1-24 1-13 1 36 1-52 1 58 1-26 1-12 1 18 1 35 1-52 1-58 1 81 1-44 1 23 1 42 1-47 1 33 1-25 1 41 1-57 1 81 1-58 1-38 1 20 1 22 1-3 1 5 1-81 1 72 1-1 1 18 1-6 1-28 1 31 1 5 1-6 1-5 1-14 1 17 1-8 1 15 1-51 1 29 1 11 1-16 1 9 1 39 1-36 1-47 1 29 1-17 1 48 1 21 1-21 1-52 1 60 1-5 1-49 1 35 1-1 1-15 1 7 1 10 1-14 1 25 1-17 1-18 1 44 1-22 1 24 1-49 1 4 1-9 1-2 1 0 1 8 1 39 1-45 1 48 1-84 1 53 1-8 1 47 1-59 1-3 1 71 1-26 1 52 1 17 1-6 1-133 1 83 1-54 1 33 1-42 1 99 1-52 1-43 1 51 1-50 1 44 1-43 1 15 1 25 1 9 1-15 1-34 1 30 1 17 1-47 1 70 1-35 1-19 1 40 1-26 1 10 1 28 1-50 1 41 1-10 1-51 1 60 1-44 1-15 1 5 1 14 1 18 1 30 1-40 1-8 1 25 1 12 1-48 1 50 1-39 1 24 1 31 1-85 1 26 1 2 1 50 1-33 1-10 1 26 1-62 1 95 1-70 1 67 1-9 1-7 1-48 1 34 1-2 1 7 1 14 1-15 1 3 1-17 1 1 1 52 1-45 1-48 1 44 1-10 1 16 1 0 1-16 1 33 1-31 1 39 1-51 1 49 1-57 1-10 1 68 1-59 1 28 1-40 1 43 1-6 1 0 1-40 1 83 1-70 1 18 1 15 1-7 1-30 1 3 1-23 1 61 1 32 1-35 1-9 1 6 1-42 1-28 1 49 1 56 1-73 1 44 1-18 1-20 1 12 1 11 1-9 1-12 1 3 1-37 1 89 1-16 1-5 1-36 1 16 1-17 1 59 1-31 1-22 1 18 1 9 1-18 1-35 1 97 1-96 1 34 1 29 1-39 1 16 1-30 1 52 1-46 1 49 1-32 1-10 1 20 1-18 1 32 1-43 1 40 1 5 1-15 1-1 1 20 1-42 1 23 1-18 1 54 1-5 1-27 1 19 1-22 1-18 1-14 1-10 1 18 1 38 1-32 1 28 1-28 1 41 1-61 1 24 1 18 1 27 1-42 1 21 1-20 1 25 1-5 1-30 1-22 1 71 1-28 1-15 1 14 1 7 1-67 1 78 1-31 1 22 1-10 1 56 1-82 1 29 1 19 1-68 1 50 1 9 1 6 1-49 1 26 1 9 1 26 1-11 1-32 1 10 1 51 1-29 1-29 1-63 1 88 1 38 1-77 1 32 1 22 1-48 1 20 1 19 1 9 1-31 1-5 1 48 1-71 1 58 1-69 1 28 1 13 1-14 1 24 1-13 1-44 1 57 1-36 1 44 1-22 1-26 1 56 1-40 1 64 1-25 1-19 1-34 1 5 1 42 1-21 1-8 1 45 1-51 1-24 1 3 1 47 1-4 1 13 1-11 1-6 1-24 1 15 1 26 1-45 1-2 1 39 1-10 1-3 1 39 1-45 1-14 1-33 1 45 1 12 1-3 1-20 1-4 1 42 1-27 1-12 1 69 1-87 1 41 1-28 1 23 1 5 1-4 1-9 1-15 1 29 1 22 1-11 1 7 1-45 1 45 1-64 1 36 1 5 1-36 1 43 1-2 1-27 1 1 1 44 1-88 1 48 1 47 1-28 1-28 1 18 1-16 1-39 1 37 1-28 1 34 1 35 1-56 1 57 1-43 1 8 1 38 1-3 1-14 1-15 1-24 1 32 1-47 1 27 1 39 1-1 1-18 1 15 1-11 1-22 1 13 1-18 1 42 1 5 1 14 1 9 1-34 1-13 1 7 1-6 1-52 1 81 1-22 1 6 1 11 1-58 1 35 1-33 1 61 1-77 1-10 1 81 1-22 1 3 1-18 1 48 1-46 1-7 1 35 1 42 1-40 1-8 1-30 1 36 1 14 1-46 1 7 1-10 1 18 1-26 1 14 1 59 1-51 1-15 1 19 1-37 1 50 1-30 1 50 1-32 1 14 1 12 1 8 1-40 1-5 1 27 1 16 1-9 1-43 1 51 1-60 1 72 1-50 1-10 1-14 1 42 1 9 1 17 1-60 1 26 1 9 1-1 1-18 1 6 1-29 1 85 1-77 1 36 1-12 1 6 1-6 1-22 1 14 1 43 1-35 1 0 1-12 1 9 1 3 1-29 1 55 1-84 1 70 1 12 1-46 1-8 1-4 1-6 1 25 1 11 1-8 1 10 1 14 1-56 1-5 1 46 1 6 1 7 1 31 1-26 1-4 1-13 1 25 1 23 1-65 1-44 1-15 1 6 1 47 1 52 1 7 1-37 1 6 1 11 1-59 1 4 1 22 1 18 1 7 1-31 1 28 1-44 1 6 1 48 1-35 1-21 1 23 1 41 1-17 1 2 1-12 1 2 1 10 1-31 1-13 1 49 1 24 1-48 1 9 1-10 1 28 1-25 1 31 1-52 1-15 1 67 1 43 1-54 1 1 1-19 1 4 1-12 1-57 1 84 1-5 1-20 1 58 1-67 1 36 1 21 1-16 1-34 1-9 1-10 1 20 1 30 1-33 1 17 1-63 1 113 1-94 1 22 1 9 1 13 1 12 1 10 1 15 1-92 1 28 1 7 1 8 1 58 1-42 1-10 1-27 1 56 1-33 1 13 1-7 1 21 1-29 1 7 1 50 1-79 1-26 1 79 1-52 1 55 1-12 1-59 1 41 1-34 1 31 1-18 1 30 1-41 1-9 1 28 1 32 1-5 1 15 1-40 1 2 1 31 1-41 1 38 1-62 1 26 1-20 1 60 1 7 1 21 1-63 1 45 1-63 1 30 1-16 1 53 1-18 1-20 1-14 1 52 1-42 1 30 1-42 1 27 1 2 1-19 1-19 1 36 1-38 1 58 1-33 1 36 1-35 1 29 1-24 1-15 1 41 1 20 1-41 1-17 1 7 1 29 1-44 1 28 1-27 1 43 1-34 1-19 1 47 1-9 1-24 1 3 1 4 1 12 1 37 1-40 1 33 1-35 1 62 1-97 1-11 1 37 1 33 1-14 1-30 1 5 1 35 1-48 1 12 1 5 1 22 1-9 1 18 1-22 1 21 1-47 1 29 1-4 1-3 1 0 1 45 1-69 1 30 1 16 1 11 1-7 1-2 1-16 1 22 1-24 1-1 1 21 1-74 1 60 1-12 1 6 1 7 1-22 1-18 1 37 1 21 1-36 1 69 1-59 1 9 1-14 1 47 1-27 1 15 1-12 1-29 1 20 1 10 1-45 1 30 1 52 1-25 1-37 1-1 1 6 1-1 1 29 1-20 1 28 1-9 1 2 1-2 1-12 1-3 1 14 1-47 1 39 1-51 1 14 1 56 1-53 1 58 1-72 1 28 1 34 1 30 1-45 1 24 1-62 1 60 1-26 1-18 1 12 1-6 1 13 1-25 1 42 1-38 1 45 1-35 1 33 1-23 1-20 1-17 1 77 1-26 1 5 1-55 1 53 1-40 1 31 1 23 1-39 1 32 1-48 1-2 1 106 1 22 1-8 1-124 1 70 1-101 1 13 1 69 1-35 1 43 1-31 1-8 1-11 1 37 1-21 1 23 1-33 1-7 1 15 1-27 1 10 1 9 1-20 1 61 1-30 1 44 1-45 1 12 1-33 1 32 1 5 1-14 1 1 1-16 1 35 1 16 1 2 1-69 1 61 1-20 1 16 1-51 1 37 1-45 1 49 1-26 1-11 1-6 1 55 1-21 1-7 1 44 1-64 1 8 1-3 1 48 1-40 1-6 1-16 1 40 1-31 1-32 1 61 1-1 1-2 1 30 1-29 1-51 1 65 1-18 1-36 1 16 1 9 1 14 1-5 1-4 1-17 1 16 1-22 1 71 1-68 1 34 1-14 1 11 1-27 1 20 1-19 1 36 1-25 1-27 1 3 1 38 1-13 1 13 1-6 1-4 1-30 1 16 1-23 1-2 1 72 1-40 1 19 1 29 1-13 1-15 1-55 1 40 1 7 1-4 1 18 1-23 1 7 1 39 1-28 1 29 1-59 1 19 1-19 1 41 1-27 1-20 1 63 1-22 1-9 1-3 1 6 1-20 1-18 1 17 1-18 1 0 1 41 1-22 1 17 1-26 1 25 1-4 1-48 1 48 1 35 1-43 1-4 1 20 1-14 1-24 1 38 1-8 1 13 1-26 1 11 1 20 1-19 1-50 1 89 1-8 1-43 1 43 1-84 1 87 1-5 1-20 1-40 1 7 1 6 1 7 1-26 1 79 1-53 1-29 1 63 1-35 1-23 1 0 1 35 1-51 1 34 1-14 1 54 1-8 1 0 1-63 1 103 1-13 1-66 1 16 1 78 1-64 1-2 1-38 1 78 1-35 1-40 1 8 1 42 1-16 1 30 1-71 1 45 1-43 1 12 1 42 1-18 1-20 1 5 1-27 1 10 1 20 1-9 1 35 1-3 1-30 1 7 1 36 1-26 1 18 1-6 1-46 1 55 1-7 1-30 1 12 1-2 1 40 1-36 1 9 1 11 1-6 1-7 1-28 1-26 1 44 1-34 1 34 1 40 1-39 1-30 1-3 1 57 1-78 1 74 1 0 1-5 1-50 1 27 1-13 1 78 1-54 1 1 1-20 1 29 1-41 1 47 1 17 1 6 1-72 1 13 1 38 1-47 1 32 1-2 1 34 1-23 1-16 1-3 1 19 1-38 1-11 1 55 1-30 1 48 1-48 1 34 1-20 1-8 1 10 1-32 1 46 1-8 1-20 1 9 1-7 1 11 1 15 1-36 1 14 1-20 1-11 1 42 1 10 1-8 1 5 1 34 1-91 1 31 1-48 1 72 1-29 1 8 1 9 1-26 1 24 1 2 1-6 1 59 1-37 1 0 1-59 1 27 1-5 1 3 1 21 1-46 1 46 1 30 1-51 1-13 1 26 1-6 1-15 1-14 1 24 1-28 1 35 1-45 1 86 1-57 1 16 1 4 1 35 1-59 1 32 1 20 1-9 1-10 1-9 1 25 1 1 1-33 1 12 1-51 1 59 1-29 1-24 1 48 1-29 1 16 1 7 1-39 1 64 1-9 1 29 1-41 1-27 1 30 1-26 1 39 1-47 1 31 1 9 1-75 1-16 1 6 1 70 1-14 1 14 1 33 1-37 1-5 1 2 1 16 1-51 1 63 1-21 1-2 1 32 1 2 1-45 1-1 1 14 1 43 1-33 1-13 1-9 1-14 1 18 1-13 1-17 1 99 1-83 1 36 1-23 1 7 1 30 1-3 1-33 1 15 1-22 1 28 1-63 1 59 1 61 1 16 1-5 1-106 1 60 1-8 1-34 1-18 1-6 1 20 1-12 1 55 1-18 1-47 1 50 1-8 1 37 1-38 1 34 1-48 1-27 1 28 1 4 1 14 1-23 1 41 1-16 1-65 1 85 1-18 1 21 1-65 1 36 1 26 1-1 1-58 1 11 1-3 1 21 1-24 1-10 1 16 1 56 1 9 1-12 1-43 1 43 1-10 1-27 1 22 1 10 1-55 1 12 1-8 1-3 1-13 1 37 1 4 1 38 1-37 1 9 1-41 1 9 1-19 1 9 1-2 1 16 1 10 1 13 1-9 1 23 1-33 1 11 1 48 1 17 1-49 1-6 1-4 1-40 1 48 1 16 1-41 1-15 1-16 1 66 1-19 1 4 1-48 1 20 1 17 1-17 1 26 1-3 1-5 1 12 1-6 1-15 1 3 1-31 1 15 1 24 1 52 1-18 1-24 1-3 1 23 1-23 1-12 1 18 1-12 1-1 1 15 1 4 1-18 1-10 1 33 1 24 1-26 1-36 1 52 1-63 1 38 1-18 1 22 1-33 1 13 1-8 1 57 1-65 1 59 1-34 1-20 1 17 1-17 1 8 1 2 1 22 1-44 1-3 1 40 1 9 1-27 1 24 1-22 1-17 1 4 1-20 1 25 1 37 1-5 1-34 1-33 1 55 1 14 1-57 1 37 1-20 1-9 1 50 1-15 1 5 1-26 1-3 1 27 1-25 1 57 1-52 1 0 1 8 1 36 1-33 1 24 1-62 1 42 1-2 1-2 1-16 1 12 1-12 1 36 1-49 1 38 1-30 1 13 1-21 1 28 1 34 1-8 1-22 1-39 1 44 1-12 1-29 1 44 1-21 1 1 1 21 1-20 1-20 1 0 1 34 1-79 1 62 1 15 1 11 1 6 1-43 1 89 1-66 1 30 1-29 1-4 1 31 1-8 1-54 1 44 1-13 1 7 1-28 1-9 1 7 1 9 1 0 1 42 1-60 1 45 1 8 1-12 1 10 1-29 1-8 1-13 1 33 1 12 1-8 1 22 1-11 1-66 1 67 1-7 1-27 1 9 1-12 1 39 1 5 1-57 1 48 1-14 1-8 1 50 1-40 1 11 1-28 1 20 1 47 1-74 1 81 1-52 1 7 1-2 1-14 1-23 1 44 1-7 1-32 1 5 1-5 1 9 1 14 1 6 1 0 1-33 1-15 1-11 1 73 1-20 1-6 1 4 1-70 1-16 1 5 1 81 1 7 1-10 1 29 1-21 1-27 1-22 1 19 1-10 1 57 1 18 1-77 1 29 1 6 1-42 1 64 1 0 1-6 1-57 1 16 1 67 1-84 1 40 1-10 1 29 1-64 1 35 1-22 1 57 1-42 1 15 1 8 1 14 1-2 1 11 1-12 1-16 1-15 1 53 1-13 1-11 1 25 1-32 1-1 1-2 1-15 1-13 1 4 1 13 1-8 1 34 1 3 1-38 1 2 1-40 1 59 1 19 1-32 1 18 1 11 1-55 1-14 1 38 1 25 1-22 1 8 1 32 1-54 1 12 1-22 1 44 1-13 1 2 1 40 1-104 1 113 1-24 1-19 1 30 1-49 1 22 1-14 1-3 1 3 1 0 1 6 1-14 1-10 1 26 1 5 1-1 1-17 1 16 1 0 1 28 1-84 1 77 1-71 1 21 1-5 1 19 1-6 1 5 1-8 1-6 1-17 1 62 1-36 1-28 1 5 1 60 1-33 1 1 1 1 1 61 1-77 1 61 1-94 1 38 1 19 1-18 1 12 1 17 1-11 1-11 1 28 1-37 1-10 1 1 1-3 1-3 1 15 1-15 1 31 1-9 1-25 1-13 1 57 1 27 1-89 1 24 1-16 1 23 1 16 1 22 1 8 1-60 1 11 1 17 1 36 1-15 1 2 1-7 1 64 1-78 1-33 1 53 1-15 1-6 1 32 1-36 1 31 1-9 1-17 1 7 1-3 1 25 1-41 1 45 1-48 1 33 1 18 1-28 1 24 1-13 1-9 1-24 1 0 1 8 1 19 1 31 1-32 1 2 1-5 1 10 1 0 1-33 1 53 1-33 1-32 1 51 1 6 1-19 1 3 1-16 1-27 1 37 1-17 1 29 1-3 1-19 1 24 1-47 1 40 1-6 1 22 1-15 1 14 1-13 1 33 1-45 1-44 1 91 1-91 1 47 1-25 1 47 1-76 1 78 1-25 1-41 1 71 1 27 1-57 1 17 1 6 1-2 1 14 1-72 1 4 1 66 1-32 1 9 1-40 1 49 1-62 1 41 1 20 1-18 1 13 1-72 1 53 1 16 1-14 1-35 1 62 1 18 1-76 1 18 1 27 1-10 1-30 1 98 1-102 1 37 1-22 1 19 1 3 1 11 1-44 1 95 1-68 1-19 1 60 1 12 1-54 1-24 1-4 1 48 1-27 1 46 1-81 1 59 1-47 1 39 1-74 1-17 1 6 1 45 1 43 1 13 1-1 1-51 1 31 1 8 1 29 1-69 1 3 1 19 1-12 1 8 1 26 1-18 1 2 1 17 1-21 1 25 1-2 1 16 1-36 1 22 1-6 1-48 1 37 1-1 1 39 1-26 1-39 1 11 1 13 1 6 1-6 1-9 1 19 1 55 1-114 1 112 1 16 1-5 1-39 1-67 1 29 1-18 1 31 1-12 1-12 1-11 1 13 1 2 1 27 1-60 1 39 1 11 1 3 1 22 1-11 1 20 1-45 1 8 1-8 1 38 1-22 1 6 1-42 1 64 1 1 1-73 1 24 1 50 1-75 1-4 1 9 1 83 1-57 1 26 1-16 1 34 1-85 1 62 1-25 1-13 1 5 1 5 1 21 1-16 1 11 1 53 1-84 1 42 1-3 1-3 1 25 1-4 1 15 1-58 1-19 1 29 1 31 1-63 1 42 1 33 1 7 1-53 1-33 1 47 1 7 1-9 1 14 1-7 1-21 1 25 1-42 1 49 1-44 1 10 1 19 1-3 1 1 1-52 1 64 1-51 1 5 1 34 1-50 1 103 1-68 1 3 1 3 1-21 1 32 1-6 1-34 1 33 1 23 1-41 1 17 1 12 1-29 1 35 1 5 1-88 1-16 1 5 1 105 1-76 1 27 1 14 1-2 1 70 1-88 1 50 1-39 1 43 1-56 1 39 1-8 1-45 1 14 1 61 1-17 1-23 1 11 1-27 1 38 1 31 1-25 1-19 1-18 1-5 1-13 1 26 1 11 1-24 1 21 1 10 1 0 1-36 1-15 1 5 1 75 1-69 1 57 1-21 1-23 1 49 1-3 1-12 1-63 1 16 1 51 1-27 1 0 1-4 1 26 1-55 1 46 1-30 1 64 1-53 1 6 1-31 1 101 1-81 1-6 1 27 1-40 1-20 1 31 1 2 1-14 1 23 1-20 1 16 1 33 1 10 1-58 1 15 1 33 1-18 1-37 1 82 1-21 1-41 1-4 1 52 1-5 1-30 1-32 1 36 1 60 1-86 1 27 1 11 1 18 1-60 1 24 1-4 1 2 1-3 1-10 1-23 1 72 1-25 1 9 1-55 1 51 1 34 1-41 1 18 1 1 1-8 1 22 1 16 1-100 1 54 1 21 1-40 1-19 1 80 1-34 1-19 1 29 1-33 1 43 1-14 1-14 1-14 1 10 1 18 1-8 1 45 1-109 1 65 1-3 1-14 1-8 1 6 1 26 1 25 1-38 1 16 1-6 1-14 1-7 1-27 1 37 1 41 1-59 1-9 1 66 1-58 1 11 1 19 1-19 1-5 1-6 1-14 1 30 1 0 1-63 1 90 1-20 1 2 1-29 1-9 1 63 1-66 1 62 1-98 1 85 1-46 1 36 1-26 1 38 1-23 1 3 1-2 1-18 1 32 1-3 1 26 1-31 1 9 1-35 1 5 1 36 1-30 1-22 1 39 1 25 1-94 1 49 1-3 1-47 1 85 1-28 1 57 1-62 1 2 1 31 1 2 1-18 1 2 1-47 1 47 1-2 1 0 1 37 1-29 1 23 1-39 1 60 1-27 1-36 1 61 1-14 1-66 1 60 1-34 1-8 1 35 1 16 1-83 1 54 1-28 1 33 1-29 1 44 1 1 1-8 1-11 1 0 1-8 1-19 1 25 1-38 1 41 1-34 1-17 1-11 1 96 1-96 1 90 1-82 1 37 1-9 1 33 1-48 1 6 1 32 1 2 1-38 1-5 1 7 1 29 1-9 1-24 1 2 1-7 1 25 1 22 1-26 1-4 1 25 1-25 1 33 1-28 1 22 1-70 1 24 1 24 1 40 1-2 1-49 1 22 1-12 1 48 1-2 1-41 1 8 1 29 1-14 1-41 1 32 1-26 1-28 1 34 1 5 1 19 1-47 1 69 1-9 1-28 1 38 1-64 1 42 1-30 1 22 1-2 1-7 1 51 1-22 1-16 1-69 1 36 1 2 1 45 1-49 1-9 1 12 1-48 1 102 1-7 1-21 1 19 1-27 1-12 1 14 1-3 1-8 1-9 1 37 1 0 1-48 1 39 1 13 1-29 1 17 1-12 1 4 1-18 1-7 1 45 1 10 1-72 1 58 1 23 1 9 1-48 1 15 1 31 1-23 1 3 1-53 1 20 1 6 1 33 1-28 1-22 1 13 1-23 1 25 1-16 1 6 1 26 1-49 1 26 1-12 1 48 1 1 1-23 1 16 1-37 1 5 1-21 1 17 1 44 1-53 1 41 1 2 1-21 1 2 1-27 1-46 1 62 1-27 1 43 1-14 1 22 1-2 1-46 1 23 1 0 1 32 1-64 1 48 1 13 1-17 1-17 1-2 1-19 1 65 1-16 1-51 1-19 1 75 1-14 1 38 1-19 1 2 1-20 1 27 1-54 1 25 1 5 1-30 1 31 1 25 1-33 1-55 1 53 1-11 1 19 1 0 1-18 1 81 1-36 1-17 1-8 1-44 1-26 1 47 1 6 1-8 1-21 1 64 1-13 1-16 1-4 1 57 1-60 1 52 1-61 1-2 1 80 1-71 1 8 1 21 1-41 1-27 1 39 1 41 1 9 1-7 1-4 1-55 1 21 1 9 1-24 1 22 1 0 1 22 1-5 1-17 1 31 1-73 1 40 1 17 1-39 1 52 1-54 1 25 1-46 1 62 1-4 1 12 1 10 1-39 1 34 1-35 1 24 1-43 1 92 1-76 1 10 1 1 1 16 1-61 1 55 1-21 1 18 1 2 1-11 1-15 1 46 1-17 1 24 1-46 1 32 1-3 1-36 1 17 1-10 1 14 1-14 1 8 1 31 1-34 1 14 1-3 1-13 1 21 1 13 1-57 1-17 1 56 1-38 1 19 1 27 1 4 1-14 1 65 1 18 1-6 1-55 1-51 1 51 1-2 1-51 1 5 1-18 1 34 1 20 1-46 1 31 1 1 1 19 1-32 1 71 1-74 1 64 1-73 1 62 1-57 1-46 1 70 1 23 1-80 1 61 1 18 1-61 1 105 1-35 1-4 1-16 1 34 1-73 1-5 1 27 1 10 1 29 1-52 1 30 1-34 1-10 1 25 1 55 1-30 1-59 1 28 1-30 1 95 1-55 1 2 1 37 1-25 1-42 1 11 1 28 1-22 1-23 1 59 1-36 1-19 1 45 1-52 1 36 1-31 1 5 1 17 1 14 1 10 1-21 1-1 1-31 1 38 1-11 1-34 1 35 1-4 1-30 1 40 1-8 1-10 1 23 1 26 1 9 1-33 1-34 1 3 1-16 1 19 1 40 1 20 1-24 1-6 1 12 1-43 1 44 1-35 1-5 1 65 1-34 1-43 1 10 1 19 1 31 1-10 1-20 1-31 1 20 1 15 1-8 1-14 1 65 1-20 1-26 1-30 1 3 1 48 1-21 1 20 1-9 1-14 1 13 1 5 1 16 1 11 1-36 1-10 1-11 1 37 1-2 1-51 1 21 1-12 1 38 1 3 1 12 1-55 1 54 1 15 1-25 1-52 1 32 1-5 1 3 1 4 1 3 1 32 1-79 1 47 1-35 1 71 1-54 1 44 1 3 1-40 1-19 1-9 1 1 1 41 1-27 1 35 1-1 1-20 1 9 1-25 1 69 1-76 1 44 1-53 1 9 1 59 1-29 1-75 1-19 1 7 1 94 1-27 1-4 1 34 1-32 1-17 1 14 1 43 1 2 1-28 1-14 1 10 1 21 1 14 1-57 1 37 1-52 1 77 1-21 1 8 1-63 1 15 1 44 1 37 1-79 1 26 1 33 1 9 1-48 1 15 1-9 1-6 1 19 1-2 1-24 1 20 1 4 1-24 1 67 1-82 1 20 1 31 1-15 1-36 1 18 1 59 1-19 1-31 1-41 1 26 1 25 1-20 1 14 1 8 1-17 1 64 1-80 1 12 1 25 1 10 1 9 1-37 1 3 1-1 1-39 1 100 1-38 1 1 1-44 1 31 1 18 1-30 1-5 1-31 1 35 1 18 1 1 1 8 1-33 1-8 1 26 1-2 1-39 1 33 1-10 1 40 1-12 1 39 1-20 1-44 1-22 1 38 1 24 1-33 1-27 1 34 1-28 1 25 1 30 1-8 1-17 1-65 1 44 1 21 1-14 1 2 1 17 1-9 1 4 1-25 1-21 1 6 1 42 1-23 1 33 1 9 1-29 1-14 1 17 1-23 1 0 1 2 1 23 1 31 1-81 1 59 1-31 1 6 1 21 1-55 1 29 1 18 1 10 1 14 1 8 1-47 1 26 1 0 1-24 1 21 1-25 1 33 1-3 1-37 1 41 1-33 1 3 1 12 1 43 1-9 1-6 1 5 1-54 1 44 1 9 1-19 1-10 1 40 1-58 1-3 1 34 1-36 1 60 1-25 1-10 1-6 1-28 1 38 1 17 1-31 1 2 1-8 1 20 1-13 1 19 1-29 1 31 1-1 1-45 1 49 1-20 1-14 1 23 1-31 1 37 1-40 1 65 1-5 1-36 1-35 1-4 1 62 1-21 1 12 1 42 1-73 1 28 1-44 1 28 1 20 1 4 1-13 1-16 1 24 1-83 1 65 1 34 1-30 1-27 1 18 1 19 1 8 1 4 1 10 1-17 1-20 1 21 1-56 1 32 1 21 1-11 1-38 1 81 1-49 1-62 1 42 1 48 1-26 1 10 1-77 1 88 1-11 1 2 1 28 1-79 1 49 1-19 1 24 1-24 1-6 1 1 1 61 1-82 1 17 1 1 1 20 1 1 1 13 1-24 1-13 1 38 1-35 1 32 1-26 1 18 1-25 1-27 1 43 1 18 1-2 1-26 1 28 1-37 1 17 1-15 1 37 1 10 1-6 1-29 1 30 1-37 1 70 1-36 1-12 1 42 1-31 1 22 1-36 1 5 1-25 1 40 1 20 1-28 1-17 1 1 1-2 1-26 1 39 1-3 1 16 1-7 1-41 1 17 1 76 1-97 1 81 1-40 1-35 1 21 1-11 1-8 1 15 1 39 1-41 1 27 1 44 1-54 1-22 1 11 1 3 1-44 1 37 1-16 1 15 1-33 1 51 1-40 1-16 1 56 1-36 1 61 1-43 1-10 1 39 1 25 1-47 1 9 1-13 1-2 1-14 1-19 1 29 1 50 1-56 1 7 1 6 1-36 1 33 1 16 1-21 1 53 1-65 1 22 1-41 1 26 1 7 1 5 1 35 1-28 1-10 1-17 1 14 1-7 1 0 1 31 1-21 1 13 1 26 1 7 1-59 1-16 1 1 1 57 1-59 1-2 1 59 1-32 1-31 1 41 1-27 1 45 1-7 1-31 1 27 1-8 1 1 1 28 1-63 1 41 1 5 1 3 1-13 1 25 1-45 1 30 1-29 1 43 1 3 1-2 1-29 1 39 1-55 1 30 1-31 1 32 1-30 1 47 1 1 1-42 1 29 1-41 1 44 1-30 1 33 1 24 1-81 1 42 1-30 1 20 1 48 1-53 1-18 1-5 1-9 1 32 1 12 1-4 1 31 1-48 1 0 1 10 1 28 1-36 1 31 1-46 1 47 1-2 1-5 1 18 1-3 1-16 1 55 1-113 1 41 1 3 1 29 1-27 1 5 1-2 1 40 1-35 1 45 1-43 1 18 1-7 1-8 1-29 1-10 1 30 1 29 1-66 1 74 1-22 1-8 1 13 1-53 1 24 1-17 1 35 1-30 1 26 1 0 1-11 1-3 1-4 1 20 1 32 1-30 1 61 1-61 1 13 1-42 1 90 1-120 1 60 1 32 1-51 1-2 1 2 1-45 1 77 1-29 1 4 1 21 1-25 1-25 1 54 1-33 1-14 1 9 1 57 1-48 1 17 1-41 1 35 1-54 1 82 1-44 1 35 1-68 1 5 1 64 1-43 1 21 1 40 1-15 1-29 1-11 1 23 1-17 1-1 1 1 1 38 1-34 1-10 1 52 1-78 1 2 1 33 1-49 1 74 1 4 1-9 1 3 1-66 1-21 1-18 1 6 1 40 1 36 1 14 1-17 1-25 1 38 1-42 1 29 1 12 1-17 1-38 1 57 1-42 1 21 1 10 1 3 1-20 1 6 1 6 1-7 1 38 1-5 1 9 1-17 1-3 1 4 1-23 1 37 1-17 1-29 1-20 1 41 1-29 1-4 1 60 1-32 1 33 1-17 1-20 1 43 1-46 1 17 1 3 1-20 1 34 1 22 1-43 1 19 1-14 1 23 1-4 1 3 1 6 1-12 1-1 1-20 1 39 1-23 1 25 1-55 1 46 1-9 1-14 1-9 1-1 1-4 1 9 1-31 1 6 1 35 1-8 1 29 1-51 1 22 1-53 1 65 1-56 1 62 1 19 1-21 1-30 1-17 1 48 1-47 1 38 1 0 1-6 1-49 1 37 1-3 1 46 1-42 1-3 1-34 1 63 1-4 1 5 1-7 1-33 1 37 1-52 1 31 1 24 1-7 1 19 1 2 1-66 1 7 1 47 1-14 1-51 1 58 1-23 1-8 1 18 1 0 1 4 1-12 1 43 1-41 1-3 1 38 1-45 1 35 1 42 1-17 1-51 1-12 1 25 1 26 1-33 1-27 1 25 1 35 1-48 1 17 1-1 1-6 1-13 1 17 1 22 1-22 1-6 1-26 1 60 1-27 1 19 1-29 1 20 1-20 1-17 1 40 1 11 1 11 1-12 1 6 1-29 1-7 1 6 1-11 1 30 1-37 1 18 1-14 1-4 1 25 1-41 1 11 1 31 1-55 1 3 1 80 1 18 1-41 1-27 1-12 1 7 1 17 1-25 1 7 1 28 1-15 1-22 1 42 1 0 1 5 1-57 1 19 1-4 1 31 1-9 1-31 1 37 1-36 1 30 1 0 1-15 1-7 1-23 1 53 1-51 1 61 1 3 1 34 1-77 1-16 1 67 1-22 1-1 1 32 1-41 1-5 1 20 1 13 1-29 1-12 1 51 1-33 1-17 1 84 1-78 1-35 1 75 1-65 1 40 1-22 1 19 1 25 1 14 1-103 1 94 1-27 1-43 1 28 1 4 1 55 1-36 1 18 1 12 1-54 1-12 1 40 1-3 1-27 1-11 1 48 1-56 1 6 1 24 1 28 1-42 1-3 1-27 1 59 1-55 1 49 1-22 1 16 1-5 1-35 1 54 1-38 1 28 1-6 1 17 1-23 1 55 1-44 1-32 1 5 1 62 1-13 1-18 1-57 1 58 1-11 1 6 1-14 1 31 1-30 1-5 1-15 1 49 1-45 1-26 1 29 1 2 1 80 1-96 1-15 1 18 1 18 1-8 1 34 1 5 1-8 1-38 1 21 1 61 1-60 1-3 1 32 1-33 1 3 1 52 1-58 1-42 1 10 1 73 1 5 1-35 1-6 1 42 1-15 1-54 1 28 1-20 1 27 1-27 1 40 1 0 1 11 1 25 1-39 1 24 1-22 1-16 1-1 1-5 1 20 1-9 1-31 1 34 1-5 1 63 1-34 1-56 1 50 1 5 1-52 1 56 1-56 1 27 1 14 1 36 1-86 1 80 1-15 1-51 1 52 1-45 1 14 1 6 1 20 1-10 1-24 1 32 1-41 1 10 1-8 1 8 1-8 1 4 1-11 1 11 1 2 1 32 1 20 1-45 1-24 1 49 1 17 1-27 1-23 1-13 1 30 1 22 1-28 1-19 1 18 1-62 1-15 1 5 1 29 1 68 1-4 1-39 1-26 1 30 1 14 1-34 1 36 1 38 1-17 1-58 1 77 1-7 1-57 1 17 1-27 1 58 1-8 1-10 1 56 1 16 1-6 1-97 1 24 1 8 1-23 1-15 1 1 1 20 1 17 1 2 1 22 1-36 1 3 1-43 1 36 1-13 1-14 1 81 1-31 1-11 1-9 1 32 1-51 1-1 1 10 1-4 1 45 1-57 1 45 1 32 1-51 1-8 1 29 1 25 1-13 1-26 1 61 1-91 1 0 1 31 1-32 1 31 1 25 1-45 1 2 1 38 1 12 1-11 1-55 1 38 1-80 1 89 1-32 1 7 1 14 1-27 1 43 1-21 1 29 1 26 1-58 1 31 1 4 1-48 1 19 1-14 1-34 1 39 1-7 1 43 1-52 1-1 1 49 1-44 1 9 1 14 1-8 1-60 1 79 1-8 1-12 1 8 1 42 1-64 1-7 1-20 1 58 1 18 1-49 1 43 1-26 1 10 1-15 1 16 1-29 1 42 1-85 1 41 1 36 1 9 1-20 1 7 1 9 1-57 1 11 1 53 1-42 1 14 1-20 1 37 1-72 1 53 1-49 1 63 1-47 1 38 1-46 1 48 1 22 1 0 1-11 1-32 1 6 1 7 1-25 1-14 1 68 1-52 1-34 1 76 1-2 1-25 1 5 1 20 1-12 1-44 1 18 1 44 1 24 1-16 1-33 1 25 1 1 1-40 1 26 1 2 1-15 1-32 1 30 1-10 1 16 1-38 1 71 1-3 1-15 1-66 1 13 1 68 1-17 1-26 1 13 1-21 1 35 1 30 1-58 1-17 1 72 1 9 1-37 1 37 1-59 1 40 1-49 1 28 1-12 1-13 1 22 1 21 1-50 1 61 1-74 1 52 1-2 1-24 1 0 1-3 1 51 1-15 1-31 1 71 1 16 1-5 1-69 1-29 1-3 1 19 1 13 1-24 1 8 1-4 1 38 1-35 1-29 1 49 1-11 1 10 1-29 1 75 1-94 1 28 1 19 1-13 1-53 1-15 1 6 1 38 1 27 1-15 1-19 1 24 1 30 1-36 1-32 1 60 1-19 1 0 1-11 1 33 1-10 1-51 1 32 1 34 1-36 1 18 1-37 1 80 1-43 1-23 1 58 1-14 1-31 1 11 1 9 1-16 1 44 1-15 1-65 1 61 1-28 1 12 1-23 1 14 1-2 1-20 1 22 1 51 1-26 1-53 1 9 1 33 1 35 1-23 1-71 1 22 1 0 1 72 1-6 1-20 1 20 1-38 1 31 1-40 1 18 1 8 1-31 1 6 1 8 1 12 1-8 1 48 1 1 1-33 1-20 1-42 1 35 1 35 1-13 1 20 1-31 1 1 1-1 1-8 1-19 1 9 1 46 1-50 1 47 1-36 1 8 1-41 1 46 1 0 1 4 1-29 1 14 1 15 1-28 1-32 1 12 1 3 1 52 1-12 1-6 1 47 1-87 1 80 1-46 1 41 1-34 1-18 1 8 1 35 1-6 1-40 1 26 1-5 1-21 1 88 1-71 1-25 1-13 1 28 1 35 1-43 1-23 1 64 1 2 1-14 1 6 1 41 1 9 1-27 1-17 1-27 1 24 1-18 1-30 1 25 1-12 1 47 1-50 1 25 1-9 1-15 1 4 1 53 1-4 1-36 1-11 1-35 1 38 1 24 1 3 1 6 1 15 1 0 1-19 1-16 1 21 1-19 1 7 1-1 1 5 1-18 1 7 1 67 1-74 1 4 1 18 1-19 1 22 1-21 1 25 1-39 1 8 1 46 1-19 1-36 1 8 1 7 1 32 1-12 1-21 1-3 1 8 1 20 1-15 1 7 1 16 1-1 1-7 1 17 1-50 1-7 1-60 1-20 1 7 1 86 1 18 1-4 1 0 1 33 1-73 1 68 1 4 1-60 1 48 1-55 1 19 1-1 1 19 1 26 1-6 1-32 1 5 1 28 1-2 1-7 1-20 1-13 1-11 1 32 1-45 1 17 1-19 1 59 1-36 1-13 1 72 1-68 1 13 1-13 1 19 1-24 1 39 1 2 1-31 1 0 1 52 1-64 1 1 1 4 1 44 1-50 1 19 1-11 1 25 1 9 1 7 1-2 1-38 1 42 1-4 1-24 1 15 1 45 1-35 1-8 1-49 1 24 1 41 1 3 1-16 1-17 1 25 1-30 1 46 1-44 1-21 1 96 1-66 1-7 1-5 1 9 1 4 1-68 1-16 1 6 1 37 1 14 1 2 1 39 1-3 1-39 1 53 1-52 1 59 1-86 1 22 1 44 1-2 1 39 1-49 1-31 1 14 1 22 1-57 1 37 1 3 1 18 1-22 1-51 1 54 1 53 1-47 1-42 1 18 1 42 1-21 1 45 1-52 1 37 1-8 1 1 1 3 1-60 1 6 1 44 1-10 1-39 1 49 1 4 1 10 1-60 1 34 1 4 1 11 1 12 1-46 1 43 1-6 1 28 1-14 1-15 1 0 1 25 1-22 1-12 1 62 1-80 1 22 1 26 1-26 1-18 1 11 1-1 1 0 1-15 1 50 1-20 1-24 1 9 1 27 1-19 1 10 1-18 1 42 1-1 1-4 1-33 1-65 1 37 1-6 1 31 1-40 1 31 1 7 1-25 1 57 1 24 1-24 1-65 1 13 1 17 1 11 1-2 1-14 1 31 1-40 1 43 1-57 1 41 1 15 1-16 1 16 1-20 1 42 1-33 1-14 1-8 1 20 1-40 1 72 1-36 1 6 1-12 1 7 1-41 1 34 1 23 1-85 1 61 1 5 1-26 1 37 1-9 1-27 1 51 1-19 1-34 1-22 1 47 1 1 1-30 1 64 1-19 1 2 1 32 1 21 1-63 1-33 1 7 1-15 1 100 1-65 1-37 1 55 1 11 1-42 1 9 1-16 1 16 1-31 1 14 1 11 1 16 1-28 1 35 1-41 1-5 1 5 1 56 1-43 1 2 1-13 1 61 1-24 1-13 1-37 1 50 1-37 1 18 1-45 1 41 1 48 1-33 1-13 1-26 1 15 1 24 1 25 1-33 1 4 1-37 1 11 1 58 1 23 1-48 1-17 1 31 1-11 1-43 1 11 1 62 1-52 1 5 1 9 1-19 1-1 1-48 1 57 1 24 1-6 1-30 1-31 1 34 1 1 1 7 1 18 1-13 1 32 1-49 1 7 1 7 1 26 1-15 1 8 1-22 1 15 1-16 1-15 1-8 1 58 1-18 1 19 1-59 1 53 1-55 1 46 1-38 1 39 1-8 1-8 1 0 1 6 1-20 1-14 1 9 1 34 1 34 1-49 1 74 1-88 1 1 1 46 1-45 1 31 1-48 1 51 1 2 1 48 1 17 1-6 1-137 1 66 1-54 1 52 1 1 1 9 1 2 1-30 1-20 1 28 1 25 1-28 1 25 1 48 1-71 1 48 1-29 1-17 1 12 1-4 1-71 1-17 1 6 1 70 1 0 1-39 1 60 1-24 1 5 1-4 1-7 1 12 1-18 1 42 1-34 1 39 1-54 1 3 1 30 1 7 1-12 1-14 1 52 1-13 1-49 1 29 1 27 1 24 1-45 1 33 1-47 1 5 1-48 1 77 1-47 1 46 1-4 1-21 1 16 1-67 1 47 1 18 1-77 1 78 1-10 1-4 1 14 1-35 1-14 1 62 1-20 1-3 1 25 1-2 1-23 1 13 1-30 1-13 1 16 1-2 1 30 1-8 1-25 1-5 1 17 1-16 1 20 1 23 1-37 1 18 1 32 1-63 1 11 1-8 1 30 1-49 1-48 1-21 1 7 1 107 1-40 1 33 1-2 1-36 1 8 1 23 1-42 1 85 1-36 1 12 1-50 1-2 1 51 1-16 1-20 1 11 1 6 1-18 1-24 1 46 1 30 1-25 1-2 1 9 1-27 1-1 1-4 1 11 1 5 1 32 1-17 1 13 1-29 1 10 1-2 1-13 1 20 1-34 1 1 1 49 1-56 1 41 1 9 1-10 1 24 1-40 1-21 1 67 1-48 1-4 1-2 1 1 1 5 1 22 1-33 1 13 1-11 1 12 1 14 1-5 1-16 1-11 1 72 1-15 1 8 1-27 1 4 1-21 1 12 1-40 1 48 1 2 1 3 1-13 1-11 1 15 1 11 1 11 1-38 1 18 1 11 1-18 1-15 1-42 1 11 1 61 1-10 1 36 1 1 1-3 1-68 1 26 1 33 1-20 1-4 1 4 1-52 1 83 1-36 1-17 1-6 1 65 1-58 1 36 1-17 1 25 1-58 1-22 1 16 1 32 1 36 1-65 1 84 1 16 1-5 1-29 1-13 1-35 1 38 1-53 1-16 1 33 1-10 1-28 1 27 1-20 1-3 1 61 1-79 1 24 1 25 1-16 1 12 1 2 1 30 1-14 1-2 1-35 1 15 1 2 1 13 1-34 1 91 1-38 1-46 1 34 1-26 1-23 1 19 1 56 1-31 1 23 1-40 1-14 1 32 1-19 1 18 1-52 1 43 1-2 1-8 1-12 1 9 1 17 1-2 1-11 1-2 1 24 1 5 1-9 1-17 1 22 1 16 1-18 1 4 1-27 1 27 1-2 1-56 1 35 1 33 1-52 1 38 1 11 1-35 1 50 1-33 1-15 1-5 1 31 1 0 1-10 1-32 1 73 1-64 1 13 1-26 1 61 1-56 1 50 1-29 1 17 1 50 1-58 1-11 1-12 1 37 1 13 1-46 1 26 1-34 1-9 1 40 1-2 1 14 1 32 1-50 1-17 1-9 1 27 1-46 1 58 1-12 1 13 1-3 1-4 1 10 1-7 1-17 1 5 1 28 1-38 1 32 1-31 1 9 1 49 1-22 1-48 1 39 1 0 1-5 1-14 1-11 1 21 1-48 1 55 1-3 1-6 1-9 1-32 1-21 1 65 1-4 1-19 1 18 1-24 1 47 1-47 1 75 1-67 1-3 1-45 1 83 1-39 1 1 1 39 1-29 1 27 1 8 1 8 1-31 1 20 1 25 1-58 1 49 1-59 1 11 1 27 1 18 1-16 1 11 1-24 1-1 1-70 1 113 1-37 1-28 1-12 1-8 1 58 1-45 1 92 1-66 1-27 1 4 1 52 1-14 1 33 1-35 1 16 1-41 1 25 1-33 1 17 1 6 1-52 1 14 1 63 1-68 1 16 1-15 1 22 1 56 1-35 1 51 1-25 1-18 1-49 1 31 1-5 1-13 1 41 1-50 1 22 1 30 1-10 1-8 1-22 1-20 1 43 1-2 1-50 1 44 1-45 1 41 1 14 1-26 1 9 1 28 1-54 1-30 1 85 1-2 1-7 1 19 1-52 1 57 1-53 1 7 1-9 1 56 1-41 1-3 1-16 1 13 1 24 1-43 1-6 1 1 1 52 1-32 1 37 1-19 1-23 1 55 1-107 1 40 1 50 1-5 1-12 1 1 1 27 1-27 1 36 1-24 1-61 1 47 1 8 1-49 1 32 1-8 1 30 1-42 1 36 1-31 1 6 1-27 1 18 1 26 1 26 1-19 1 10 1-56 1 50 1 47 1-68 1-11 1 44 1-42 1 52 1-40 1 11 1-12 1-3 1 28 1-38 1 33 1-15 1-34 1 60 1-25 1-39 1 9 1 49 1-2 1-29 1 30 1-18 1 36 1-51 1 58 1-45 1-14 1 35 1 23 1-8 1 17 1-95 1 95 1-16 1-42 1 7 1-25 1-7 1 22 1 13 1 13 1-10 1-29 1 9 1 0 1 59 1-24 1-2 1-3 1 13 1-45 1-10 1-19 1 60 1-11 1-5 1 3 1 21 1-42 1 73 1-40 1 37 1-65 1 51 1-6 1-29 1 26 1-33 1 17 1-61 1 82 1-10 1-36 1 12 1-9 1 19 1-32 1 16 1-25 1 68 1-41 1 12 1-16 1 35 1-45 1 55 1-57 1 8 1 61 1-57 1 60 1-64 1 56 1-40 1 6 1 34 1 6 1-60 1 25 1-40 1 29 1-72 1 66 1-41 1 36 1 7 1-12 1 34 1-3 1-59 1 47 1 25 1-43 1 35 1-24 1-27 1-4 1-14 1 17 1 13 1 3 1 6 1 9 1-60 1 61 1-45 1 46 1-35 1 105 1-77 1 20 1-57 1 2 1 55 1-15 1-26 1 16 1 6 1-23 1 94 1 17 1-6 1-6 1-51 1-21 1-61 1 59 1 38 1-74 1 25 1 10 1-27 1 37 1-7 1-29 1 15 1-14 1 34 1-53 1 80 1-1 1-48 1 21 1-14 1 5 1 5 1 23 1-35 1-26 1 55 1-70 1 8 1 62 1-42 1 49 1-25 1 25 1-15 1 34 1-44 1 23 1-4 1 28 1-52 1-48 1 59 1-71 1-16 1 6 1 93 1 19 1-18 1-9 1-22 1 17 1-16 1-26 1 10 1 34 1 35 1-41 1-6 1-24 1 22 1-22 1 34 1-25 1 40 1 3 1-18 1-13 1-13 1 10 1-21 1-10 1 4 1 13 1 25 1-17 1-19 1 58 1-42 1 4 1 17 1-50 1 64 1 7 1-24 1 15 1-50 1 77 1-9 1-42 1-11 1 50 1-64 1 83 1-76 1 49 1-10 1-59 1 48 1 15 1-22 1-43 1 47 1 22 1-26 1 38 1-14 1-3 1-32 1 29 1-24 1-18 1-11 1 84 1-42 1 29 1-46 1 10 1 6 1 14 1 11 1 19 1-69 1 30 1-6 1-7 1-12 1-28 1 53 1-22 1 59 1-32 1 8 1-2 1-46 1 27 1 1 1 0 1 8 1 0 1 11 1-3 1-3 1-6 1 43 1-50 1 3 1-11 1 39 1-5 1-44 1 39 1-31 1 30 1 13 1 7 1-22 1-4 1 20 1-68 1 36 1 23 1-61 1 17 1 41 1 6 1-21 1-23 1 54 1-65 1-49 1-19 1 6 1 79 1-4 1-17 1 51 1-66 1 81 1-41 1-9 1 16 1-22 1 64 1-40 1-26 1 25 1 28 1-32 1-1 1 30 1-59 1 48 1 12 1-29 1 19 1-11 1-11 1 16 1-25 1 7 1-23 1 56 1-27 1-5 1 0 1 60 1-26 1-35 1-7 1 14 1 66 1 16 1-5 1-57 1-57 1 22 1 20 1 14 1-59 1 48 1 13 1-52 1 69 1-33 1-20 1 23 1 6 1-24 1 41 1-25 1-24 1 46 1-62 1 40 1-3 1 10 1-27 1 27 1-18 1-26 1 0 1 70 1-72 1 46 1-20 1 5 1-4 1 22 1-30 1-11 1 40 1-14 1-21 1-6 1 18 1 2 1-6 1 21 1-17 1 16 1 1 1 51 1-14 1-55 1-9 1 8 1 8 1 11 1-22 1 24 1-10 1-38 1 73 1-20 1-9 1 43 1-19 1-57 1 14 1 17 1-37 1 58 1-73 1 50 1 13 1-42 1 14 1 8 1 8 1 43 1 7 1-53 1-24 1 44 1-22 1 42 1-2 1-36 1-19 1-1 1-12 1 51 1-16 1-24 1 45 1-18 1-7 1 0 1-23 1 12 1 22 1 47 1-78 1-6 1 13 1 4 1-3 1-19 1 44 1-12 1 24 1-20 1 16 1 0 1 29 1-48 1-28 1 41 1-47 1 33 1 16 1-25 1 14 1-4 1-38 1 32 1-5 1 16 1-2 1 18 1-20 1 17 1-49 1 35 1-24 1-15 1 7 1 44 1-60 1 90 1-84 1 100 1-41 1-21 1 16 1 36 1-16 1-44 1 50 1-60 1-13 1-5 1 28 1 8 1 9 1-80 1 39 1 14 1 8 1-19 1 76 1-70 1 36 1 44 1-87 1 48 1-31 1 30 1-86 1-17 1 6 1 68 1 50 1-63 1 40 1-29 1 38 1-35 1-5 1 51 1-45 1 31 1-54 1 22 1 8 1-24 1 4 1 31 1-32 1 15 1-27 1 60 1-76 1 63 1-3 1 9 1-11 1-56 1 44 1 31 1-23 1-10 1-18 1 32 1-13 1 12 1-3 1-7 1 34 1-55 1 36 1-59 1 16 1 11 1 33 1-4 1 1 1-12 1 11 1 5 1-16 1 3 1 9 1-33 1-3 1 40 1-68 1 44 1-21 1-17 1 84 1-49 1-50 1-16 1 5 1 48 1 64 1-14 1-39 1 67 1-38 1-9 1-14 1-14 1 17 1 27 1 3 1-34 1-5 1 5 1 6 1 1 1 38 1-34 1-20 1 48 1-40 1-7 1-41 1 61 1 4 1 25 1-3 1 13 1 5 1-64 1 18 1-8 1 49 1 11 1-7 1-86 1 12 1 63 1-37 1-1 1 29 1-9 1-40 1 6 1-5 1 15 1 5 1-10 1 17 1-47 1 37 1-8 1 16 1 15 1-16 1 7 1 12 1-41 1-30 1 43 1 10 1 16 1 19 1-53 1 1 1 35 1-23 1 24 1-58 1 33 1-8 1-32 1 100 1-67 1 4 1 14 1-8 1-31 1 48 1 0 1-61 1 18 1 14 1-9 1 19 1 9 1-3 1-12 1 20 1 28 1-36 1-11 1 10 1-20 1 9 1-17 1 22 1 7 1-19 1-8 1 34 1 10 1-55 1 47 1-23 1 22 1-18 1-30 1-7 1 76 1 3 1 20 1-71 1-25 1 33 1 14 1-28 1 44 1-40 1-17 1 2 1 14 1 30 1-4 1 15 1-70 1 15 1 33 1 1 1-8 1 22 1-29 1 0 1 2 1 10 1 64 1-58 1 30 1 7 1-99 1 69 1-7 1 3 1 14 1-63 1 88 1-59 1-47 1-15 1 6 1 66 1 40 1-58 1-4 1 8 1 24 1-24 1 36 1-26 1-3 1 15 1 19 1-19 1 17 1 8 1-57 1 30 1 10 1 0 1-24 1 19 1 9 1-24 1 3 1 26 1 5 1-60 1 40 1-38 1 15 1 17 1 5 1-48 1 58 1-7 1 12 1-17 1 19 1-26 1 34 1-45 1 5 1 3 1 21 1-48 1-18 1 54 1 16 1-36 1 22 1-9 1-13 1 51 1-53 1 45 1 5 1-21 1-47 1 53 1-28 1 35 1-39 1 8 1-21 1 24 1 5 1 47 1-55 1-12 1 15 1 0 1-9 1-8 1 45 1-21 1-13 1 4 1 31 1 26 1-58 1-10 1-25 1 32 1 33 1-33 1 14 1 14 1 19 1 10 1-28 1-7 1-13 1 2 1-6 1-42 1 50 1-37 1 55 1-2 1-5 1 33 1-88 1 36 1-12 1-26 1 33 1-30 1 101 1-92 1 24 1 22 1-42 1 27 1 19 1 31 1-94 1 112 1-69 1-39 1 24 1 33 1-9 1 9 1-22 1 8 1 31 1 5 1-67 1 62 1-4 1-88 1 81 1 12 1-9 1-44 1 38 1-15 1 56 1-44 1-16 1-1 1-36 1 25 1 87 1-33 1-18 1-16 1-8 1-15 1 59 1 14 1-77 1 46 1 34 1-35 1-13 1 19 1-1 1-56 1 55 1-37 1 3 1 14 1-69 1 95 1-101 1 91 1-18 1-15 1-20 1 10 1 27 1 0 1-39 1-9 1 53 1-45 1 17 1 7 1 35 1 4 1-43 1 82 1-58 1-24 1 54 1-85 1-1 1 70 1-24 1 0 1 11 1-2 1-25 1-30 1 41 1-1 1-1 1 21 1-33 1 28 1 13 1-42 1 65 1-35 1-3 1-7 1 36 1-15 1-21 1-19 1 19 1 2 1 16 1-22 1 72 1-88 1-8 1 25 1 25 1-60 1 52 1-52 1 42 1 12 1-14 1 12 1-13 1-17 1 19 1 5 1-11 1-10 1 9 1-13 1-1 1 7 1-11 1 18 1-29 1 19 1-11 1 26 1 32 1-25 1-13 1-8 1 10 1-38 1 71 1 11 1-40 1 13 1-18 1-16 1-52 1 102 1-6 1-26 1 36 1-18 1-52 1 34 1-1 1-29 1 72 1-47 1 5 1-8 1 32 1-15 1-8 1-21 1 37 1-34 1 69 1-64 1-9 1 42 1-15 1-7 1-8 1-23 1 26 1 10 1-1 1-11 1-13 1 13 1 20 1-5 1 11 1 2 1-9 1 2 1-34 1 49 1-31 1 31 1-49 1 12 1-24 1 18 1 39 1-26 1 16 1-2 1 12 1-18 1-10 1-3 1-57 1 67 1-7 1 5 1 4 1 1 1-9 1 6 1-23 1 8 1 32 1-22 1-7 1 14 1-1 1-3 1-18 1 11 1 18 1-12 1-32 1 54 1-40 1 23 1-5 1-17 1 14 1 4 1 35 1-25 1-62 1 41 1 16 1-7 1-2 1 25 1-26 1-10 1 49 1-31 1 62 1-26 1-62 1-10 1-15 1 77 1-30 1 7 1-35 1 18 1 6 1-12 1 26 1-36 1 33 1-36 1 23 1-1 1 33 1 10 1 1 1-51 1 65 1-86 1 41 1 25 1-41 1 39 1 44 1 19 1-7 1-109 1-1 1 35 1-42 1 32 1-4 1-8 1 4 1 39 1-48 1 54 1-50 1 13 1-3 1 28 1-51 1 28 1-24 1 38 1 0 1-19 1-60 1-16 1 6 1 84 1-6 1 5 1-38 1 9 1 17 1-20 1-5 1 40 1 3 1-35 1-35 1 110 1-42 1-35 1 39 1-41 1 16 1 36 1-19 1-21 1 31 1-36 1 7 1 15 1-17 1 18 1-14 1 30 1-59 1 41 1-35 1-24 1 14 1 39 1-4 1 4 1-8 1 28 1 24 1-53 1 7 1-36 1-7 1 78 1-11 1-42 1-10 1 26 1 2 1 47 1-102 1 74 1-31 1 5 1 30 1-43 1-15 1 38 1-5 1-13 1 84 1 17 1-6 1-56 1-9 1 53 1-34 1-28 1 12 1 4 1-42 1 13 1-12 1 25 1 6 1 11 1-28 1 51 1-23 1-36 1-7 1 23 1 27 1-43 1 32 1-15 1 21 1-68 1 8 1 57 1 8 1-27 1-17 1-15 1 32 1 29 1-38 1 1 1 46 1-33 1 1 1 16 1-29 1-20 1 1 1 46 1-7 1-32 1 26 1 0 1-63 1 117 1-46 1 4 1-19 1-43 1 45 1 3 1-10 1 11 1-17 1-53 1 79 1-11 1-4 1 50 1-66 1 16 1 47 1-42 1-11 1 26 1-48 1 41 1 22 1-56 1 23 1-7 1 43 1-6 1-9 1-21 1 0 1-37 1-4 1 34 1 6 1-49 1 45 1-23 1 36 1-9 1 4 1 11 1-27 1 30 1-18 1-13 1-41 1 98 1-48 1-15 1 25 1-30 1 8 1 2 1 22 1-5 1 0 1 19 1-29 1 30 1-3 1 12 1-62 1 41 1 8 1-41 1 30 1-19 1 13 1-13 1 4 1 58 1-90 1 12 1 60 1-57 1 27 1-8 1-29 1 7 1 1 1-26 1 23 1 41 1 17 1-52 1 62 1-33 1 0 1 9 1-51 1 26 1 13 1-27 1 32 1-40 1-21 1 54 1 1 1-33 1 77 1-18 1-5 1 14 1-39 1-8 1 8 1 0 1-23 1-4 1-4 1 34 1-4 1-36 1 26 1-22 1 44 1-10 1 14 1-15 1-11 1 22 1-59 1 84 1-58 1 48 1-34 1 26 1-20 1 0 1 21 1 10 1-12 1-18 1-19 1-20 1 82 1-54 1 23 1-12 1-7 1-12 1 10 1 10 1-39 1 32 1 7 1-28 1 56 1-5 1-59 1 41 1 38 1-63 1-10 1 49 1 13 1-31 1-10 1 23 1 8 1-35 1 0 1 52 1-12 1-19 1 7 1-20 1-8 1-32 1 36 1-14 1 61 1-21 1-43 1 61 1-68 1 20 1 10 1 6 1-70 1-17 1 6 1 88 1-40 1 55 1-10 1 27 1-46 1 4 1-27 1-20 1 34 1 34 1-26 1-2 1 8 1 25 1-34 1 38 1-28 1 5 1 56 1-78 1-37 1 61 1 6 1-38 1 55 1-32 1-6 1 20 1-12 1 19 1-7 1-30 1 37 1-7 1 3 1-29 1 21 1 12 1-29 1 57 1-3 1-53 1-38 1 57 1-20 1 42 1-37 1-2 1-9 1 32 1-65 1 70 1-60 1 63 1-45 1-14 1-20 1 56 1 37 1-61 1 38 1 9 1-12 1 8 1-41 1 14 1-12 1-4 1 30 1-26 1-13 1-15 1 41 1 10 1 16 1-13 1-9 1-6 1 39 1-23 1-5 1 9 1 1 1-24 1 33 1-36 1 38 1-31 1 32 1-56 1 11 1-15 1 53 1 12 1 0 1-27 1-31 1 8 1 1 1 47 1-57 1 9 1 31 1 49 1-43 1-16 1-42 1 33 1 7 1-40 1 1 1 29 1-6 1-16 1 48 1-27 1 20 1 13 1-35 1-15 1-19 1 27 1-9 1 32 1 32 1-21 1-25 1 24 1-61 1 17 1 34 1-47 1 27 1-25 1 45 1-24 1 25 1-6 1-28 1-18 1 43 1-4 1 29 1-16 1-18 1 43 1-20 1 17 1-32 1-18 1 14 1 15 1 18 1 15 1-40 1-37 1 44 1-5 1 9 1 17 1-54 1 9 1 54 1-6 1-64 1 55 1-21 1 25 1-34 1 28 1-5 1 13 1-74 1-18 1 59 1-11 1 2 1 14 1 2 1 7 1-28 1 49 1-9 1-38 1 52 1-75 1 47 1-11 1-28 1 33 1-4 1 18 1-27 1-5 1 39 1-38 1-8 1 13 1 30 1-42 1-10 1 45 1 33 1-27 1-18 1-32 1 3 1 12 1 33 1-35 1 19 1 26 1 18 1-68 1 64 1-71 1-24 1 54 1 22 1-5 1 1 1-26 1-15 1 43 1-11 1 8 1-44 1 4 1 45 1-13 1-12 1 49 1-31 1-17 1 38 1-40 1 4 1 15 1-39 1 48 1-33 1 17 1-34 1 47 1-35 1 0 1-13 1-12 1 78 1-36 1 25 1-51 1-9 1 41 1-14 1-26 1 27 1 9 1 37 1-23 1-42 1 60 1-43 1 2 1 6 1-20 1 38 1-53 1 45 1-36 1 40 1-21 1 15 1-50 1 67 1-10 1-52 1 16 1 21 1 6 1 25 1-25 1-16 1-21 1 7 1-13 1 27 1 27 1-9 1-47 1 36 1-33 1 75 1-28 1 8 1-26 1 26 1 13 1-31 1 55 1-42 1-25 1 39 1-27 1 20 1-13 1-15 1-5 1 0 1 30 1-57 1 30 1 24 1-49 1 43 1-59 1 28 1 24 1 9 1 9 1-1 1-13 1-41 1 30 1 6 1-13 1 19 1 23 1 6 1-73 1 43 1-47 1-8 1 41 1-12 1 28 1-6 1-5 1 2 1-38 1 40 1-25 1 20 1-13 1-31 1 86 1-69 1 45 1-20 1 13 1 4 1 22 1 33 1-121 1 32 1 28 1 41 1-64 1-23 1 29 1 54 1-30 1-20 1 9 1-31 1 53 1-8 1 47 1-92 1 13 1 27 1 35 1-68 1 58 1-3 1 16 1-13 1-12 1-111 1-22 1 7 1 100 1 17 1-14 1 33 1-44 1 34 1-11 1-21 1 31 1 13 1-62 1 71 1-12 1-2 1-12 1-15 1 26 1-17 1-49 1 6 1 8 1 25 1-8 1 20 1 29 1-53 1-18 1 20 1 8 1-23 1 14 1-21 1 40 1 36 1-59 1-10 1 43 1-27 1-12 1 89 1-134 1 43 1 26 1 25 1 11 1-56 1 23 1-27 1 36 1-9 1-26 1 42 1-22 1 3 1-18 1-10 1 27 1-41 1 49 1-2 1-13 1 9 1-27 1-20 1 87 1 10 1-93 1 15 1 40 1-29 1 57 1-38 1-47 1 22 1-39 1 68 1-43 1 28 1-6 1 2 1-14 1-14 1 33 1-9 1 13 1-10 1 28 1-47 1 8 1 10 1 9 1 17 1 7 1 4 1-8 1-45 1 13 1 48 1-12 1-60 1-9 1 22 1-33 1 73 1-30 1 28 1-74 1 46 1 0 1 2 1 27 1-16 1 58 1-48 1 15 1-47 1-15 1 28 1 34 1 2 1-48 1 26 1 0 1 21 1-35 1 1 1-15 1 45 1-23 1 36 1-43 1 5 1 10 1-33 1 57 1-74 1 30 1-5 1 8 1 26 1-4 1-40 1 26 1-9 1 17 1-31 1 5 1 51 1-85 1 24 1 6 1 13 1 10 1-24 1-45 1 70 1 26 1-28 1-3 1-23 1 57 1-20 1-3 1-34 1-4 1 24 1-23 1 26 1 0 1 62 1-36 1 6 1-41 1 10 1 30 1-29 1 4 1-13 1 24 1 5 1-51 1 39 1-33 1 49 1-17 1 3 1 17 1-44 1 53 1-97 1-15 1 5 1 71 1-28 1-23 1 70 1-18 1 34 1-22 1-13 1 1 1-20 1 8 1-13 1 43 1-21 1 31 1-23 1 66 1-67 1-5 1 14 1-2 1 34 1-27 1-2 1-21 1-6 1 23 1-7 1-13 1 32 1-49 1-27 1 43 1 22 1-18 1-24 1-3 1 68 1-43 1 27 1-8 1-18 1-7 1 21 1 15 1-17 1 22 1-72 1 85 1-55 1 12 1 3 1 27 1-14 1-4 1 5 1-8 1-9 1 15 1-23 1-7 1 32 1-33 1 18 1 16 1-27 1-16 1 37 1 38 1-67 1-5 1 54 1-25 1-15 1 72 1-80 1 1 1-2 1-18 1 66 1-52 1-34 1 117 1-49 1-27 1 36 1 29 1-55 1 4 1 23 1-25 1-18 1-2 1 15 1 43 1-24 1 51 1-32 1-31 1-10 1 15 1 0 1 50 1-18 1-3 1-14 1 0 1-72 1 30 1 53 1-9 1-3 1 1 1-2 1 39 1-83 1 13 1 1 1 14 1-9 1 21 1 42 1-55 1 3 1 35 1 24 1-88 1 56 1-21 1 13 1-62 1 82 1-65 1 92 1-89 1 37 1 45 1-60 1 4 1 40 1-51 1 10 1-13 1 48 1-17 1 6 1-28 1 17 1 12 1-62 1 50 1-42 1 6 1 41 1 29 1-53 1-13 1-12 1 20 1-1 1 27 1 3 1-30 1-19 1 64 1-42 1-4 1 58 1-39 1-22 1-28 1 1 1 51 1-1 1 4 1-18 1-17 1 50 1-23 1 11 1 5 1-7 1-61 1 2 1 8 1 81 1-51 1-55 1 139 1 19 1-6 1-83 1 4 1-17 1-6 1 17 1-4 1 26 1-25 1-20 1 16 1 7 1 33 1-67 1 60 1-48 1 27 1-30 1-7 1 36 1-25 1 70 1-28 1-1 1-32 1-44 1 34 1 21 1-39 1 40 1-27 1 13 1 60 1-76 1-20 1 54 1-29 1 7 1 20 1 3 1-36 1 43 1-3 1-36 1-2 1-16 1 55 1 20 1-63 1 68 1-29 1-5 1-50 1 43 1 33 1-31 1-35 1 81 1-13 1-60 1 23 1 29 1-20 1-8 1 32 1-15 1-53 1 30 1-21 1 30 1 14 1-23 1 32 1-33 1 17 1 0 1-1 1 18 1-60 1 74 1-45 1 39 1-56 1 29 1-11 1-7 1 3 1 4 1-4 1 0 1 21 1-4 1-2 1 13 1-5 1-48 1 71 1-81 1 58 1-30 1 16 1 5 1-19 1-30 1 47 1-2 1 13 1-66 1 22 1 1 1 28 1 50 1-61 1 58 1-30 1-41 1 40 1 3 1 37 1-73 1 7 1 24 1-22 1 51 1-18 1-29 1-67 1-18 1 6 1 97 1-42 1 44 1-21 1-5 1 25 1-15 1 47 1-31 1-16 1-15 1-17 1 45 1-24 1 15 1 17 1 0 1-18 1-2 1 20 1-90 1 71 1-18 1 24 1-79 1 130 1-49 1-14 1-25 1 32 1 24 1-66 1 23 1 24 1 0 1 0 1-11 1 48 1-47 1 19 1-28 1 4 1 35 1-61 1 15 1 43 1 3 1-9 1-26 1-24 1 56 1-4 1-33 1 15 1 0 1 2 1 5 1-53 1 19 1 34 1-41 1-16 1 36 1 5 1 20 1-16 1-2 1-28 1 58 1 17 1-29 1-22 1 61 1-46 1 15 1 8 1-32 1-26 1 64 1-40 1 10 1-21 1 16 1 17 1-39 1 12 1 37 1 25 1-33 1-23 1-15 1 34 1-4 1 36 1-34 1-15 1 18 1-12 1 22 1-2 1-30 1 47 1-40 1-30 1 45 1-2 1 8 1 12 1-18 1 18 1-27 1 8 1 15 1-29 1-25 1 5 1 28 1-7 1 26 1-20 1-23 1-3 1-15 1 73 1-78 1 30 1-30 1 40 1-31 1 32 1 26 1-35 1 21 1-12 1-14 1-7 1 3 1-8 1 65 1-70 1 51 1-23 1 12 1 19 1-52 1 49 1-12 1-51 1 94 1-14 1-67 1 35 1-31 1 20 1 12 1-30 1 36 1-4 1-20 1 34 1 9 1 5 1-66 1-25 1 19 1 46 1-3 1 12 1-25 1-27 1 29 1-2 1 27 1-35 1 39 1-25 1-15 1 6 1-16 1-20 1 97 1-19 1-82 1 30 1 31 1-12 1-7 1-27 1 36 1-9 1 35 1-72 1 26 1 23 1 23 1-34 1-23 1-37 1 10 1 59 1 1 1 14 1-37 1 31 1-34 1 7 1-3 1 36 1-55 1 35 1 26 1-30 1-6 1 3 1-23 1-6 1-28 1 61 1-34 1 98 1-115 1 49 1-33 1 38 1-20 1-2 1 32 1-1 1 3 1-32 1 18 1 2 1-37 1 22 1 3 1 55 1-53 1 12 1-33 1 38 1 19 1-26 1-53 1 70 1-56 1 38 1 48 1-69 1-45 1 49 1 40 1-22 1 17 1-97 1 60 1 75 1-82 1 10 1 38 1-11 1-14 1-46 1 58 1 6 1-45 1 42 1 10 1-23 1-25 1 17 1 14 1-47 1 1 1 78 1-12 1-6 1-18 1-10 1 6 1-4 1-9 1 44 1 24 1-64 1-25 1 27 1 16 1-25 1 23 1 25 1-24 1-30 1 12 1-10 1 31 1-27 1-23 1 45 1 5 1-45 1 29 1 33 1-19 1-45 1 25 1-39 1 31 1 10 1-20 1 43 1-44 1 30 1 4 1-17 1 23 1 17 1-6 1-37 1 6 1 6 1-17 1 42 1-13 1-52 1 66 1-57 1 39 1-20 1 7 1 13 1-9 1-22 1 42 1 7 1-47 1 33 1-6 1 0 1 6 1 36 1-44 1 9 1 23 1-20 1-21 1-38 1 58 1-48 1 46 1-23 1 18 1-26 1 16 1 13 1 30 1-65 1 64 1-23 1-61 1 39 1 4 1-1 1-3 1 15 1-17 1 12 1 5 1-21 1-4 1 7 1-15 1-24 1 4 1 42 1 30 1-57 1 26 1-17 1 29 1-31 1 50 1-32 1 38 1-86 1 58 1 47 1-86 1 8 1-10 1 63 1-38 1-24 1 38 1-14 1 15 1 2 1-42 1 54 1-20 1-14 1 13 1-20 1 72 1-80 1 60 1-25 1 3 1-21 1 17 1 6 1-28 1-35 1 68 1 1 1-2 1 16 1 0 1-19 1-30 1 31 1 8 1-18 1 18 1-89 1 30 1 38 1 43 1-28 1 9 1-1 1 33 1-42 1 2 1 2 1 15 1-41 1 31 1 35 1-31 1-46 1-10 1 59 1-25 1-18 1-9 1 35 1-19 1 18 1 35 1-69 1 25 1-12 1 16 1 16 1-9 1-21 1 40 1-71 1-18 1 115 1-81 1 34 1-26 1 11 1 9 1-27 1 20 1-35 1 29 1 45 1-33 1-4 1 15 1 16 1-80 1 51 1-1 1 40 1-55 1 17 1-31 1-15 1 59 1 2 1-47 1 2 1 19 1-10 1 26 1-7 1-1 1 54 1-73 1-1 1 43 1-9 1-22 1-10 1 18 1 11 1-22 1 8 1 28 1-17 1 1 1-26 1 50 1-13 1-10 1-11 1-59 1 64 1-31 1 7 1-13 1-11 1 29 1 39 1-15 1-47 1-16 1 22 1-28 1 43 1 38 1-24 1-5 1-15 1 1 1 44 1-52 1 44 1-21 1-10 1-1 1 5 1 27 1-11 1-27 1 35 1 18 1 35 1-65 1 24 1-23 1 27 1-16 1-2 1-81 1-18 1 7 1 80 1-18 1 44 1-36 1 13 1-12 1 59 1-49 1 9 1-12 1 22 1-14 1 52 1-54 1-35 1 29 1 3 1-6 1-27 1 52 1 20 1-9 1-11 1-19 1-18 1 39 1 7 1-48 1-5 1 47 1-39 1 24 1 8 1-9 1 18 1 22 1-8 1-16 1-27 1-2 1-12 1 42 1-20 1 36 1-11 1-51 1 29 1-51 1 30 1 30 1 5 1 35 1-86 1 8 1 39 1-66 1 44 1 35 1 19 1-35 1-10 1 69 1 17 1-6 1-55 1-19 1 30 1-62 1 49 1 6 1 21 1-24 1 18 1-71 1 11 1 47 1-8 1-21 1-5 1 30 1-62 1 19 1-36 1 123 1-30 1-60 1 13 1 13 1 23 1-43 1 26 1-48 1 6 1 5 1 71 1-55 1-37 1-3 1 16 1 2 1 50 1-58 1-11 1 38 1-3 1 17 1-8 1 13 1-21 1 17 1 35 1-23 1-27 1 5 1-32 1 13 1-9 1 35 1-29 1 46 1-1 1-40 1 16 1 27 1-45 1-13 1 18 1-14 1 10 1 0 1 44 1 28 1-39 1-60 1 65 1 15 1-32 1 21 1-18 1 23 1-17 1-45 1 66 1 18 1-82 1 17 1 21 1 9 1 55 1 16 1-6 1-67 1 8 1-30 1 35 1-35 1 44 1-16 1-19 1 23 1-44 1 28 1-8 1 57 1-66 1 13 1 53 1-58 1-2 1 27 1 10 1 8 1-37 1 0 1 6 1-57 1 53 1-5 1 45 1-49 1-16 1 47 1-77 1 69 1-19 1 14 1 0 1-1 1-31 1 79 1-89 1 61 1-15 1-79 1 90 1-19 1 26 1-27 1-15 1-30 1 108 1-66 1-17 1-8 1 43 1-22 1-46 1 39 1-46 1 86 1-13 1-19 1 28 1-44 1 46 1-38 1 48 1-17 1-29 1-8 1 40 1 14 1-53 1 40 1-36 1-24 1 17 1 56 1-71 1 3 1 44 1-4 1-48 1 29 1-3 1-17 1 14 1-59 1 37 1 32 1 0 1 11 1-39 1 62 1-54 1 39 1 32 1-73 1 14 1 4 1 15 1-7 1 16 1-51 1-1 1 36 1-1 1-7 1-16 1 17 1 18 1-6 1-13 1 11 1 6 1-42 1 21 1-13 1 47 1-45 1 21 1 7 1 11 1-1 1-4 1-81 1-18 1 6 1 68 1 6 1 9 1 18 1 1 1-31 1 49 1-81 1 1 1 79 1-70 1 3 1-1 1 12 1-25 1 63 1-9 1-27 1 14 1 39 1-59 1-5 1 32 1-15 1-15 1 79 1-40 1 8 1-19 1 29 1 0 1-38 1-42 1 79 1-73 1 17 1-1 1-9 1 45 1-40 1 68 1-18 1-29 1-12 1 56 1 14 1-60 1 3 1-11 1 20 1 32 1-63 1 9 1 16 1-52 1 50 1-33 1 43 1 72 1-46 1 41 1-65 1-36 1 74 1-62 1 26 1-31 1 14 1 35 1-41 1 16 1-24 1-27 1 55 1-47 1 45 1-19 1 11 1 23 1-21 1 15 1-27 1 42 1-2 1-47 1 8 1-1 1 0 1-12 1 15 1-12 1 44 1-33 1 32 1 13 1-26 1-23 1 16 1-45 1 28 1 7 1 8 1 38 1-36 1 0 1-44 1 65 1-17 1 16 1-23 1 49 1-53 1 8 1-5 1-63 1 70 1-15 1 13 1-28 1-30 1 14 1 35 1 42 1-44 1 54 1-20 1-8 1 14 1-29 1 9 1 10 1-29 1 29 1-52 1 17 1 27 1-22 1 29 1-2 1-42 1 67 1-53 1-38 1 108 1-120 1 112 1 8 1-3 1-24 1-15 1 34 1-44 1-27 1 42 1-24 1-13 1-29 1 48 1-21 1 5 1 12 1 10 1-18 1-9 1 53 1-25 1-18 1 1 1-1 1-34 1 15 1 60 1-74 1 60 1 3 1-50 1 37 1 36 1-61 1 5 1-2 1 51 1-58 1 37 1-40 1 56 1-7 1 26 1-31 1-48 1 22 1 21 1-51 1 30 1-14 1 11 1 11 1-6 1-8 1-18 1 14 1-7 1 52 1 20 1-57 1 4 1-8 1 38 1-30 1 32 1-30 1 4 1 3 1-13 1 21 1-12 1-19 1-22 1 29 1-10 1 6 1-29 1-11 1 72 1-35 1 10 1-34 1 106 1-47 1 29 1-82 1 29 1-11 1 7 1 4 1-4 1 22 1 43 1-63 1 11 1 13 1 1 1-50 1 53 1 9 1-45 1-22 1 73 1-8 1 2 1-38 1-5 1-22 1 39 1 5 1 9 1-46 1 46 1 6 1-16 1-5 1-11 1 27 1-63 1-4 1 80 1-34 1 31 1-19 1 25 1-25 1-15 1 3 1 39 1 18 1-4 1-81 1 37 1-7 1-36 1 65 1-38 1 29 1-23 1 55 1-39 1-9 1-5 1 41 1-31 1-30 1 26 1-25 1 5 1 11 1 16 1-12 1 27 1-42 1 9 1-23 1-28 1 37 1 7 1 10 1-17 1-14 1 44 1 26 1 2 1-62 1 14 1-2 1 58 1-29 1 26 1-11 1-15 1 3 1-59 1 75 1-17 1 3 1-22 1-17 1 40 1 23 1-32 1-22 1 39 1-54 1 52 1-10 1-5 1-62 1 30 1 11 1 36 1 3 1-11 1-61 1 8 1 31 1 22 1 28 1-35 1-25 1-1 1 4 1 29 1-32 1 18 1-28 1 17 1-14 1 12 1 21 1-44 1 59 1-45 1 29 1-2 1-17 1 21 1 13 1-2 1 5 1-30 1-8 1 11 1 38 1-44 1-21 1 54 1-6 1-48 1 29 1-33 1 37 1 29 1-104 1-16 1 5 1 100 1-11 1-65 1 68 1-56 1 71 1-36 1-3 1-14 1 23 1 17 1-19 1 41 1 27 1-25 1-82 1 19 1-26 1 35 1 52 1-13 1-34 1 30 1 3 1 4 1-9 1 30 1-61 1 30 1-52 1-10 1 45 1-29 1-1 1 23 1 10 1-38 1 16 1 22 1 8 1-13 1-24 1 6 1 34 1-12 1-8 1 15 1-8 1 23 1-5 1-28 1 1 1 14 1-64 1 61 1-23 1 11 1 20 1-30 1-11 1 28 1-13 1-60 1 96 1-18 1-20 1 15 1 21 1-8 1-7 1 1 1-8 1-40 1 35 1 16 1-28 1 1 1 45 1-12 1 12 1-37 1-13 1 28 1-38 1 47 1-7 1-6 1-7 1-38 1 72 1-44 1 13 1-28 1 64 1-4 1-74 1 12 1 4 1 31 1-30 1 27 1 28 1-25 1 4 1 20 1-12 1 3 1-31 1-12 1-4 1 1 1 55 1-42 1-6 1 10 1 35 1 51 1-79 1 25 1-44 1 61 1-52 1 25 1 23 1-22 1-8 1-25 1 1 1-12 1 13 1 31 1-1 1-15 1 13 1 34 1 10 1-72 1 16 1-48 1 64 1-40 1 23 1-8 1 10 1-26 1 15 1 25 1-9 1 3 1-8 1-4 1 17 1 4 1-15 1 46 1-56 1 1 1 1 1 36 1-27 1 57 1-69 1-14 1 13 1-12 1 27 1-25 1 4 1 22 1-6 1 45 1-8 1-61 1 0 1 47 1 19 1 11 1-80 1 21 1-41 1 17 1-20 1 31 1 36 1-6 1-37 1 65 1-51 1 25 1-44 1 48 1 4 1-43 1 69 1-72 1 20 1 23 1-33 1 30 1-29 1 14 1-17 1 44 1-7 1-65 1 40 1 12 1 19 1-10 1-20 1 38 1-30 1 5 1 44 1-51 1-31 1 43 1-6 1-12 1 22 1 30 1-46 1 12 1 5 1-52 1 33 1 22 1-2 1-58 1 20 1 67 1-62 1 28 1 3 1-44 1 10 1 41 1-22 1-17 1 20 1-14 1 29 1-52 1-4 1 55 1 19 1-24 1-35 1 17 1 7 1-6 1 43 1-37 1 1 1 14 1-37 1 38 1-1 1-34 1 1 1 15 1-4 1-5 1 2 1 34 1-47 1-30 1 42 1 16 1-37 1 14 1 36 1-17 1 12 1-41 1 60 1-66 1 50 1-25 1 19 1-21 1-20 1 13 1 48 1-25 1-10 1-45 1 62 1-3 1 10 1-19 1-19 1 43 1-62 1 4 1 12 1 4 1-47 1 91 1-13 1-70 1 87 1-40 1 13 1 20 1 0 1-19 1-13 1-5 1-3 1 14 1 1 1-15 1 32 1 18 1-56 1-52 1-18 1 6 1 118 1 25 1-35 1-30 1 33 1-52 1 10 1 42 1-45 1 57 1-26 1-17 1-29 1 14 1-18 1 76 1-26 1 11 1-30 1-33 1 103 1 16 1-5 1-44 1-18 1 3 1-17 1 11 1 22 1-36 1 42 1-18 1-27 1 32 1-23 1-17 1-22 1 7 1 9 1 10 1 45 1-10 1 0 1-8 1-11 1 22 1-14 1-40 1 40 1 39 1-43 1-3 1 5 1-65 1 32 1-20 1 60 1-36 1 13 1 9 1 20 1-28 1 56 1-75 1-47 1 33 1 93 1-59 1 25 1-4 1-9 1-38 1 12 1 41 1-37 1 11 1-49 1 91 1-35 1 22 1-24 1 52 1-29 1-21 1 13 1 7 1-20 1 12 1 9 1-17 1-7 1-8 1 53 1-34 1-41 1 68 1-41 1 16 1-41 1-3 1 24 1 20 1 28 1-27 1 8 1-23 1-39 1-9 1 41 1 5 1 7 1-11 1 13 1-51 1 65 1-23 1 19 1-40 1-22 1 29 1 12 1 4 1-14 1 27 1-54 1-3 1 19 1 5 1 31 1-57 1 82 1-17 1-73 1 65 1 10 1 22 1-69 1-4 1 25 1 47 1-39 1 17 1-43 1-14 1 26 1 0 1-28 1-4 1 73 1-42 1 42 1-10 1-49 1 57 1-24 1-36 1 20 1 54 1-40 1 4 1 17 1-75 1 50 1 0 1-25 1 22 1 38 1-34 1-10 1 6 1-23 1 5 1 9 1 17 1-5 1-48 1 91 1-71 1 18 1 29 1-18 1-16 1 51 1-39 1-11 1 37 1-26 1-32 1 31 1 26 1 19 1 5 1-70 1 30 1-3 1 3 1 13 1-63 1 27 1-20 1 68 1-46 1-1 1 45 1-6 1-2 1-46 1 20 1 24 1-36 1 34 1-20 1 5 1 20 1-45 1 22 1 60 1-54 1-42 1 94 1-79 1 17 1 37 1-31 1 28 1 10 1-48 1 3 1 52 1-32 1-14 1 41 1-68 1 46 1-28 1-7 1 41 1-33 1 6 1-8 1 22 1-36 1 7 1-21 1 12 1 61 1-20 1-25 1-15 1 43 1-18 1-7 1 10 1-28 1 51 1-38 1 33 1-31 1 34 1-16 1-31 1 48 1-26 1-15 1 19 1 4 1-7 1 23 1-41 1 0 1-25 1 37 1-21 1 40 1-24 1 35 1-29 1 14 1-33" stroke="#000" stroke-width="0.6" vector-effect="non-scaling-stroke" fill="none"/>
<path transform="matrix(0.114933 0 0 1 47.018 0)" d="M0 308l 1-132 1-6 1 10 1-11 1 2 1 3 1 7 1 6 1-3 1-17 1 3 1 0 1 7 1-15 1 19 1-13 1 0 1-5 1 3 1 8 1-1 1-4 1 6 1-1 1-18 1 13 1-7 1-2 1 20 1-29 1 18 1 8 1-2 1-4 1 11 1-7 1-3 1 7 1-24 1 15 1 6 1-3 1-4 1-2 1 3 1-5 1 12 1-2 1 1 1-4 1 6 1-8 1 8 1-7 1 1 1-7 1 11 1-4 1 5 1-5 1 9 1-2 1-7 1 6 1 3 1-24 1 12 1 0 1 0 1 8 1 2 1 2 1-13 1 10 1 10 1-7 1-2 1-5 1 10 1-8 1 6 1-6 1-13 1 6 1 6 1-8 1-1 1-6 1 13 1-4 1 8 1-7 1 2 1-6 1 2 1-4 1 6 1 6 1-13 1 11 1 5 1 1 1-9 1-2 1 7 1-26 1 22 1 0 1-11 1 13 1-1 1-5 1 3 1 3 1-1 1 10 1-14 1 1 1 4 1-9 1 19 1-17 1 13 1-9 1 0 1-2 1-6 1 9 1 2 1 9 1-30 1 22 1-4 1-1 1-1 1 4 1-1 1-4 1 5 1-7 1 6 1 11 1-10 1-21 1 24 1 2 1-1 1-4 1 1 1-12 1 6 1-1 1 5 1-1 1-3 1 16 1-8 1 3 1-9 1 11 1-3 1 7 1-15 1 7 1-2 1 2 1-9 1 13 1-10 1-2 1-4 1 4 1 8 1-4 1-7 1 18 1-7 1-4 1 6 1-8 1 11 1 0 1-13 1 6 1-2 1 5 1-7 1 15 1-4 1-2 1-8 1-5 1 8 1 3 1 5 1-6 1-7 1 29 1-43 1 15 1-13 1 12 1-12 1 15 1 0 1-5 1 13 1-9 1 7 1-5 1 8 1-11 1 1 1 2 1-3 1 1 1 15 1-28 1 15 1 5 1-11 1 10 1-12 1 6 1-2 1 4 1-13 1 6 1 11 1-5 1-2 1-4 1 4 1 1 1 4 1-2 1 3 1-14 1-5 1 6 1 7 1 2 1 5 1-1 1-14 1 10 1 7 1-5 1-6 1 10 1-7 1 3 1-13 1 5 1 13 1-15 1 17 1-8 1 11 1-1 1-3 1 0 1-17 1 14 1 0 1 4 1-17 1 8 1-3 1 7 1-8 1 0 1 19 1-26 1 7 1 8 1 2 1-11 1 3 1-2 1 2 1 0 1 6 1 6 1-5 1-17 1 8 1 2 1-7 1 8 1-16 1 13 1 0 1 2 1 9 1-16 1-3 1 13 1-21 1 12 1-7 1 13 1 2 1 4 1-14 1 13 1 14 1-24 1 12 1-2 1-9 1 7 1-2 1-3 1-3 1-1 1 6 1-5 1 2 1-7 1 14 1-9 1 13 1-21 1 7 1 15 1-11 1 17 1-16 1 21 1-16 1 6 1-9 1 2 1 1 1-2 1 8 1 6 1 3 1-20 1-17 1 17 1-6 1 1 1 9 1-2 1 7 1-9 1-2 1 7 1 7 1-16 1 5 1 8 1-5 1-5 1 2 1-1 1 1 1 5 1-13 1 12 1 6 1-7 1-6 1 10 1-4 1-4 1 6 1-3 1 5 1-8 1 8 1-8 1 5 1-3 1 0 1-10 1 2 1 4 1 2 1 4 1-8 1 17 1-8 1-4 1 5 1-2 1-4 1 2 1 0 1 3 1 0 1-6 1-2 1 8 1-1 1-3 1 3 1-9 1 11 1 4 1-25 1 21 1-2 1-2 1-2 1 5 1-5 1 15 1-4 1-14 1 2 1 6 1-8 1 1 1 6 1-4 1 3 1-6 1 6 1-2 1-3 1 5 1 5 1-3 1-9 1 9 1-1 1 0 1-16 1 19 1-14 1-1 1 25 1-21 1 6 1-5 1 13 1-13 1 6 1 0 1-5 1 13 1-12 1 5 1 8 1-8 1 5 1-11 1 21 1-25 1 5 1 5 1-12 1-8 1 5 1 7 1 14 1-10 1 0 1-3 1-1 1 17 1-11 1 3 1-3 1-5 1 4 1 7 1-12 1 2 1 9 1-9 1 9 1-7 1-4 1 15 1-18 1-4 1 14 1 13 1-20 1 2 1-4 1 2 1 3 1 10 1-9 1 8 1-11 1-2 1 16 1-12 1 13 1-13 1 2 1-9 1 27 1-9 1-4 1-4 1-1 1 2 1 0 1 3 1-3 1-8 1 7 1 0 1-6 1 15 1-15 1 7 1 7 1-2 1-9 1 9 1-11 1 2 1-9 1 9 1-2 1 3 1-3 1 14 1-8 1 0 1-9 1 14 1-10 1 11 1 4 1-23 1 21 1-21 1 12 1 3 1-3 1 0 1-4 1 1 1 2 1 4 1-1 1 0 1-2 1 7 1 4 1-11 1 3 1 1 1-13 1 11 1 4 1-10 1 2 1-1 1 7 1-1 1-2 1 2 1-6 1 2 1-7 1 13 1-13 1 8 1 6 1-13 1 5 1 2 1-5 1 1 1 7 1-2 1-28 1 29 1 4 1 6 1-5 1-3 1-5 1 6 1 9 1-23 1 22 1-12 1 10 1-2 1 3 1-23 1 12 1 3 1-2 1 5 1-6 1 8 1-13 1-2 1 8 1 5 1-2 1-2 1-7 1 30 1-23 1-1 1-3 1 9 1-14 1-1 1 9 1 1 1 9 1 4 1-5 1-1 1-1 1-7 1 0 1 4 1-10 1-3 1 0 1 9 1 1 1-5 1 6 1-3 1 1 1-4 1 4 1-11 1 11 1-2 1 4 1-3 1 9 1-14 1 9 1-2 1 14 1-22 1 22 1-29 1 13 1-4 1-2 1 9 1-6 1-5 1 4 1-6 1 15 1-10 1-3 1 7 1-2 1-2 1 3 1 13 1-14 1 2 1 0 1-14 1 14 1-6 1 7 1-2 1 10 1-5 1-4 1-5 1 3 1 0 1-3 1 9 1-11 1-22 1 45 1-19 1-6 1 15 1-3 1 1 1 2 1-7 1 7 1 1 1-5 1 4 1-2 1 3 1-1 1-3 1-1 1-10 1 15 1 2 1-6 1-7 1 6 1-5 1-16 1 18 1-3 1 1 1-6 1-1 1 7 1-3 1 8 1-7 1 5 1 13 1-13 1-12 1 21 1-7 1 0 1-3 1 1 1 2 1 2 1-6 1 1 1 2 1-2 1-15 1 9 1 18 1-9 1-4 1 12 1-6 1-1 1 3 1-13 1 7 1 3 1 3 1 19 1-27 1 9 1-3 1-4 1-10 1 13 1-3 1 3 1 2 1-8 1-5 1 15 1-3 1-2 1-6 1 5 1-4 1 3 1 1 1 2 1-16 1 24 1-22 1 14 1-14 1 14 1 0 1 6 1-5 1-1 1 6 1-10 1-1 1 0 1 9 1 1 1-10 1-2 1 22 1-11 1 7 1-6 1-16 1 3 1 26 1-16 1-5 1 7 1-7 1 10 1-17 1 14 1-1 1-10 1 6 1 2 1-6 1 4 1 3 1 1 1-10 1 15 1-11 1-2 1 7 1 5 1-8 1-4 1-3 1 4 1-4 1 8 1-13 1 7 1 12 1-14 1 15 1-11 1 1 1 9 1-4 1-6 1-4 1 0 1 1 1 11 1-7 1 7 1 4 1-10 1-2 1 2 1 0 1 1 1-9 1 7 1-4 1 5 1 12 1-20 1 8 1-4 1 4 1 1 1-19 1 14 1 11 1-6 1-1 1-4 1 7 1 3 1-7 1 15 1-14 1-5 1 8 1 2 1-5 1 14 1-11 1 4 1-3 1 2 1-14 1-4 1 11 1-2 1-7 1 11 1 1 1-2 1-2 1 1 1 3 1-7 1-5 1 4 1 5 1-16 1 11 1-3 1 14 1 15 1-5 1-3 1-22 1 7 1 1 1 0 1 0 1 1 1-13 1 4 1 9 1-1 1 3 1-1 1-2 1 2 1 2 1 3 1-2 1-2 1 5 1-12 1-2 1 6 1 2 1 5 1-15 1 12 1-2 1 1 1-2 1-4 1 5 1-9 1-1 1 11 1-1 1 0 1-2 1 1 1-2 1 7 1-7 1 4 1 7 1-4 1-4 1 4 1 6 1-8 1-4 1-4 1 16 1 7 1-10 1-3 1 2 1-1 1-10 1 3 1 5 1 4 1-17 1 3 1 8 1 6 1-2 1-5 1 0 1-4 1 12 1-5 1-10 1 10 1-2 1-1 1-9 1 7 1-3 1 4 1-5 1 0 1-4 1 5 1 12 1-12 1 3 1 3 1 1 1-13 1 7 1 14 1-21 1 10 1 7 1-1 1-2 1 4 1-16 1 4 1 6 1-5 1 6 1-7 1-9 1 26 1-11 1 4 1 4 1-10 1-1 1-3 1 3 1 0 1-5 1-4 1 16 1-9 1-8 1 12 1-2 1-7 1 12 1-6 1-15 1 15 1 13 1-6 1-4 1 1 1 6 1-17 1 10 1 4 1-11 1 9 1 1 1-4 1-2 1 9 1-12 1-5 1 17 1-8 1 8 1-7 1 1 1 0 1-3 1 2 1-1 1-5 1 9 1 13 1-17 1 8 1-5 1 1 1-8 1-7 1 10 1 3 1-3 1-2 1 4 1-1 1 5 1 1 1-10 1 5 1 6 1 0 1 1 1-1 1 2 1-8 1-3 1 10 1-5 1-1 1 2 1 1 1-6 1 1 1-1 1 10 1-6 1 1 1-6 1-7 1-1 1 13 1-17 1 16 1-1 1-1 1 15 1-3 1-12 1 6 1-1 1-6 1-2 1-3 1 6 1-5 1 11 1-11 1 16 1-4 1-8 1 15 1 4 1-19 1-2 1 2 1 4 1-2 1 1 1-5 1 1 1 13 1-1 1-7 1-3 1-11 1 16 1-4 1 5 1 1 1-8 1 2 1-3 1 7 1-4 1 0 1 11 1-10 1 23 1-23 1 1 1 0 1 2 1 3 1-16 1 11 1 8 1-6 1 1 1-9 1 1 1 9 1 2 1-13 1 14 1-5 1 5 1-7 1-8 1 18 1-14 1-8 1 13 1-6 1 8 1 6 1-5 1 6 1-10 1-8 1 9 1-9 1 15 1-10 1 3 1 7 1 3 1-9 1-2 1 12 1 1 1-7 1-14 1 18 1-17 1 9 1-4 1-3 1 14 1-12 1 8 1 0 1-3 1 6 1-12 1 16 1-15 1 4 1 2 1-6 1 2 1 4 1-11 1 22 1-12 1 1 1 6 1-11 1 8 1-6 1 1 1-16 1 16 1 4 1-12 1 4 1-1 1 1 1 5 1 0 1-2 1 2 1 0 1-10 1 12 1 0 1-1 1-1 1 6 1 1 1-7 1 10 1-9 1-14 1 8 1 10 1-2 1-6 1 3 1-5 1-3 1 0 1 13 1-8 1-2 1-3 1 10 1 9 1-13 1 7 1 0 1-13 1 7 1 6 1-16 1 6 1 8 1-6 1 13 1-19 1 0 1 8 1-9 1 15 1-8 1 1 1-3 1 8 1 2 1 7 1-7 1 3 1-12 1 5 1 5 1-7 1 3 1-5 1 2 1 3 1-9 1 6 1-3 1 12 1 3 1-8 1-1 1-3 1 1 1-1 1 4 1 3 1-5 1 1 1 5 1-11 1 6 1-9 1 3 1 2 1 7 1-8 1 0 1 4 1 1 1 16 1-23 1-1 1 9 1-17 1 12 1 5 1-2 1-11 1 11 1-8 1 5 1-1 1-9 1 2 1 11 1-2 1 5 1-6 1-7 1 7 1-2 1 4 1-19 1 19 1 13 1-22 1 3 1-3 1 8 1 0 1 1 1 0 1-9 1 5 1 0 1 6 1-5 1 2 1-9 1 1 1 11 1-13 1 12 1-5 1 9 1-15 1 13 1-9 1 4 1-6 1 2 1 2 1-10 1 14 1-4 1 3 1 9 1-7 1-11 1 7 1 3 1 0 1-4 1 3 1 6 1-1 1-3 1-5 1 3 1-7 1 11 1-13 1 7 1 12 1-19 1 1 1 8 1 3 1-17 1 1 1 18 1 1 1-9 1 2 1-2 1 4 1 2 1-2 1-5 1 3 1 8 1-13 1-3 1 1 1 11 1-3 1-12 1-3 1 13 1-7 1 9 1 1 1-4 1 6 1-4 1-1 1 0 1-2 1-1 1 1 1 3 1 6 1-11 1 12 1-4 1 1 1-11 1 4 1 4 1-12 1 12 1-9 1 4 1 1 1 4 1-1 1-7 1-3 1 11 1-3 1 0 1 11 1-8 1-1 1-7 1 5 1-2 1 5 1-8 1 12 1-1 1-11 1 3 1 2 1-1 1-5 1 4 1 10 1 7 1-6 1-1 1-3 1-2 1 5 1-9 1-1 1 5 1 3 1-13 1 17 1-15 1 11 1-12 1 5 1 6 1 9 1-15 1 10 1-10 1-19 1 29 1-5 1 3 1 4 1-11 1-1 1 13 1-3 1-9 1 8 1-7 1-7 1 13 1-4 1 27 1-22 1-8 1 5 1-10 1 11 1-12 1 0 1 9 1 1 1-5 1 4 1 10 1-21 1 17 1-1 1-6 1-4 1-6 1 14 1 6 1-1 1-3 1 9 1-14 1-9 1 23 1-38 1 19 1-3 1 4 1 7 1 9 1-3 1-7 1-8 1 1 1-1 1 0 1-1 1 6 1-3 1 5 1-4 1 2 1 15 1-15 1-1 1 7 1-13 1 9 1-12 1 6 1-2 1 10 1-10 1 4 1-2 1 13 1-15 1 5 1 4 1-13 1 3 1 9 1-6 1 2 1 10 1-5 1-7 1 2 1-3 1 7 1 21 1-23 1-9 1 12 1-5 1 0 1 1 1-4 1 4 1-3 1-7 1 10 1-2 1-5 1 0 1 16 1-1 1-9 1 6 1-9 1 0 1 5 1-8 1 5 1 7 1-8 1 24 1-31 1 12 1 1 1 2 1 4 1-1 1-20 1-1 1 18 1-8 1 14 1-2 1-2 1-3 1 3 1-14 1 4 1 7 1-11 1 21 1-15 1 16 1-7 1-9 1 7 1-15 1 10 1 1 1 3 1 2 1-14 1 8 1 7 1-16 1 5 1 7 1 0 1-6 1-10 1 4 1 6 1-12 1 20 1-8 1-17 1 17 1-10 1 10 1 15 1-10 1 8 1-16 1 3 1 2 1 6 1-20 1 9 1-2 1 17 1-5 1 0 1-5 1 11 1 1 1-15 1 4 1-5 1 7 1 2 1-5 1-8 1 11 1-6 1 5 1-4 1 2 1-5 1 14 1-8 1-6 1 8 1-3 1 16 1-14 1 5 1-14 1-2 1 22 1-4 1-7 1-6 1-6 1 5 1-3 1 4 1-14 1 20 1-14 1 4 1 4 1-3 1 12 1-11 1 7 1-9 1 7 1-4 1 8 1-9 1 1 1-7 1 0 1 17 1 0 1-8 1 0 1 4 1-1 1-10 1 9 1-5 1 6 1-2 1 2 1 4 1-6 1 3 1-1 1-4 1-18 1 29 1 1 1-4 1-9 1-1 1 21 1-11 1-13 1 15 1-7 1-8 1 12 1-3 1 5 1-7 1 2 1-2 1 6 1-4 1 4 1-11 1 16 1-17 1 4 1 6 1 1 1 4 1 1 1-11 1-5 1 0 1 4 1 16 1-1 1 5 1-13 1-6 1 10 1-11 1 4 1-7 1 16 1 0 1-7 1-1 1-6 1-1 1 10 1-3 1-7 1 7 1 1 1-6 1 5 1 5 1-14 1-4 1 11 1 2 1 2 1 3 1-12 1 7 1 2 1 4 1-4 1 1 1-5 1 1 1-8 1 12 1 0 1-7 1 18 1-16 1 12 1-14 1 10 1-5 1 1 1 0 1 7 1-7 1 4 1-2 1-9 1 7 1 0 1 9 1-19 1 13 1 7 1-10 1-11 1 7 1 6 1-5 1 2 1-1 1 13 1-10 1-9 1 6 1 2 1 20 1-26 1 1 1 7 1-6 1 6 1-4 1-7 1 6 1-9 1 7 1 13 1-13 1 7 1-2 1-22 1 37 1-17 1 0 1 2 1 6 1-16 1 6 1-7 1 15 1-9 1 11 1-15 1 0 1 10 1 4 1-11 1-2 1 2 1-10 1 5 1 10 1-9 1 7 1-7 1 10 1-4 1 4 1-1 1-4 1 0 1 7 1-11 1 17 1-6 1 0 1-30 1 25 1 7 1-8 1 1 1 2 1-11 1-15 1 25 1 14 1-14 1 15 1-12 1-21 1 14 1 10 1-12 1-3 1 7 1 1 1 0 1 7 1-7 1-3 1 3 1-9 1 7 1-2 1 1 1 9 1-12 1 2 1 12 1-12 1-2 1 6 1-19 1 23 1-3 1-9 1 6 1-1 1 1 1 6 1-6 1 2 1 5 1 5 1-11 1-8 1 7 1 5 1-12 1-1 1 5 1-7 1 8 1 4 1 4 1-5 1-4 1 4 1-5 1 6 1 1 1 5 1-5 1-8 1 7 1-12 1 29 1-14 1-12 1 5 1 14 1 0 1-13 1 5 1-9 1 7 1 8 1-8 1 4 1-15 1 4 1 16 1-17 1 19 1-15 1 8 1-11 1 6 1-1 1 5 1 2 1-14 1 2 1 3 1 5 1 3 1-18 1 14 1 0 1-3 1-6 1 19 1-6 1-15 1 17 1-9 1-5 1 16 1-7 1-4 1 5 1 1 1-3 1 0 1 2 1 1 1 6 1-9 1 2 1 7 1-12 1-5 1 11 1-3 1-1 1 12 1-2 1-11 1 3 1 1 1-2 1-7 1 27 1-13 1-13 1 7 1 5 1-5 1 4 1-8 1 2 1 6 1 0 1 11 1-8 1-5 1-7 1 8 1-9 1 0 1-1 1 2 1 11 1-9 1 11 1-9 1 9 1 2 1-9 1 5 1-10 1 2 1 2 1-2 1-3 1-5 1 11 1-7 1 11 1-9 1 11 1-5 1-1 1-4 1 11 1-7 1 0 1 3 1-8 1 2 1 3 1-3 1-4 1 3 1 21 1-12 1 0 1 0 1-2 1-7 1 8 1-10 1 1 1 13 1-7 1 4 1-4 1-6 1 3 1 13 1-14 1-5 1 1 1 5 1 5 1-6 1 6 1 1 1-4 1 7 1-13 1 13 1-17 1 12 1-2 1 1 1-3 1-1 1 1 1 12 1-13 1 15 1-14 1 2 1-13 1 14 1-13 1 12 1-8 1 5 1-3 1 11 1-14 1-9 1 27 1-15 1 8 1-6 1-7 1 13 1 1 1 4 1-14 1 2 1 18 1-17 1 2 1-6 1 1 1 7 1 9 1-15 1 17 1-9 1 3 1-14 1 11 1-3 1 2 1-5 1 2 1-6 1 0 1 3 1 3 1 0 1 22 1-24 1 9 1-6 1-11 1 7 1 19 1-18 1-6 1-3 1 10 1 8 1-21 1 16 1 10 1-8 1 3 1-7 1 1 1-5 1 0 1 0 1 1 1 2 1 7 1-12 1 5 1 8 1-1 1-14 1 12 1 8 1-21 1 8 1-13 1 9 1 5 1 0 1 7 1-6 1 1 1-10 1 7 1 4 1 15 1-10 1-2 1-18 1 17 1-9 1-2 1 3 1-2 1 11 1-9 1 9 1 9 1-17 1 8 1-15 1 14 1 1 1-11 1-3 1 4 1 2 1 5 1-1 1 1 1-3 1 5 1 1 1-14 1 8 1 2 1-2 1 7 1-7 1 2 1 1 1 0 1-2 1-6 1 13 1-8 1-10 1 2 1 1 1-7 1 16 1 8 1-3 1 1 1-6 1 0 1 1 1-5 1 5 1 12 1-8 1 5 1-20 1 5 1-3 1 15 1-5 1-4 1 3 1 6 1-16 1 6 1-3 1-3 1 3 1 11 1-11 1 3 1-1 1-2 1 6 1-3 1 7 1 4 1-6 1 9 1-5 1-4 1-1 1-8 1-4 1 5 1 9 1-3 1-5 1-4 1-5 1 13 1 2 1-14 1 14 1-2 1 11 1-11 1-9 1 11 1-9 1 0 1 1 1 2 1 1 1-4 1 4 1 8 1-10 1 8 1-8 1 23 1-27 1 5 1 21 1-19 1 3 1 1 1-9 1-2 1 15 1-6 1 0 1-1 1-3 1 7 1-12 1 14 1-1 1-9 1 5 1 11 1-16 1 2 1-1 1 9 1-8 1 6 1-3 1-1 1-13 1 8 1-4 1 6 1-2 1 14 1-21 1 14 1 1 1-7 1-5 1-4 1 15 1-2 1-6 1-3 1 5 1 3 1 5 1 0 1 11 1-17 1 0 1 2 1 4 1-1 1-12 1 11 1-1 1-1 1-11 1 15 1 3 1 0 1-1 1 1 1 3 1-11 1 10 1-15 1 6 1-7 1 3 1 0 1-5 1 4 1-7 1 16 1-8 1-8 1 6 1-3 1 5 1-13 1 20 1-5 1-6 1 3 1 9 1-2 1-4 1 0 1 11 1-14 1-3 1 17 1-21 1 8 1 14 1-12 1-3 1 12 1-8 1 14 1-6 1-6 1-8 1 10 1-25 1 21 1-5 1-4 1 10 1-1 1 4 1-8 1-4 1 7 1 8 1-8 1-5 1 5 1 9 1-15 1 10 1-3 1 4 1 0 1 1 1-11 1 12 1-6 1 1 1-2 1 3 1 5 1-10 1-4 1-2 1 17 1-3 1-1 1 6 1-9 1 3 1-19 1 15 1 2 1-13 1 10 1-9 1 25 1-17 1 10 1-6 1-7 1 11 1-3 1-13 1 16 1 9 1-12 1-16 1 16 1 11 1-14 1 7 1-8 1 6 1-11 1 7 1-8 1 5 1 6 1-11 1 12 1-3 1 7 1-8 1 1 1 4 1-2 1 8 1-15 1-5 1 6 1 12 1-10 1 10 1-5 1-6 1 10 1-16 1 9 1 0 1 4 1-3 1 6 1-2 1 3 1-15 1 8 1-3 1-2 1 4 1 1 1-3 1-5 1 5 1 2 1 14 1-22 1-2 1 18 1 0 1-7 1 1 1-6 1 0 1 0 1-6 1 9 1-3 1 5 1 6 1-16 1 10 1-3 1 3 1-6 1-3 1 10 1 0 1-4 1-4 1 1 1 6 1 1 1-5 1-1 1-6 1 15 1-16 1 4 1 3 1-2 1 3 1-16 1 15 1 15 1-13 1-6 1 8 1 1 1 3 1-7 1 2 1-11 1 18 1-12 1 8 1-5 1 5 1-8 1 9 1-8 1-6 1 9 1-5 1 6 1-8 1 1 1 4 1 7 1-13 1 7 1 14 1-12 1-4 1 6 1 0 1 6 1-8 1 1 1-18 1 25 1-12 1 10 1-7 1-5 1 10 1-1 1-9 1-1 1 9 1-6 1-2 1-7 1 7 1 2 1 8 1-9 1 12 1-4 1-4 1 7 1-11 1 8 1 6 1-10 1 10 1-10 1 1 1 3 1-2 1 6 1-16 1 7 1-6 1 4 1 19 1-20 1-4 1-1 1 6 1 14 1-8 1-6 1 6 1 5 1-8 1 15 1-20 1 9 1-1 1-7 1 7 1-5 1 20 1-19 1-3 1 6 1 2 1-10 1 5 1 5 1-10 1 1 1 15 1-12 1 3 1 2 1-5 1-9 1 3 1 3 1 8 1-7 1-1 1-7 1 13 1-10 1 7 1-5 1 1 1 11 1 4 1-6 1-5 1 11 1-17 1 8 1-8 1 13 1-6 1-2 1 1 1 1 1 0 1-2 1 5 1-3 1 6 1-6 1 7 1-1 1-11 1 2 1 6 1-10 1 16 1 2 1-14 1 6 1-3 1 8 1-3 1 4 1 0 1-11 1 15 1-3 1-1 1-5 1 0 1 2 1-9 1 14 1-5 1 3 1 1 1-12 1 2 1 14 1-5 1-12 1-1 1 8 1-11 1 5 1 0 1 4 1-2 1 0 1 5 1-19 1-3 1 7 1 3 1 4 1 10 1-2 1-4 1-7 1 14 1 0 1-11 1 9 1-4 1-6 1-11 1 17 1 3 1-1 1-7 1 5 1 2 1-6 1 7 1-9 1-2 1 19 1-8 1-1 1-2 1-12 1 16 1-6 1 2 1 0 1 2 1-4 1 6 1-13 1 8 1-6 1 0 1 3 1 8 1-2 1-15 1 16 1-11 1 3 1 0 1 13 1-8 1 2 1-3 1-4 1-2 1 10 1 6 1-19 1 13 1 7 1-12 1 4 1 1 1 3 1-3 1-1 1-5 1 10 1-14 1 2 1 6 1 3 1 0 1-11 1 8 1-4 1 6 1-8 1-1 1 1 1 4 1 5 1-3 1-7 1 0 1 3 1-4 1 9 1-8 1 11 1 5 1-16 1 9 1-2 1-15 1 11 1 4 1 1 1-8 1-6 1 26 1-10 1 1 1-10 1 5 1 13 1-15 1 1 1 3 1-10 1 15 1 9 1-21 1 5 1-2 1 1 1-1 1 12 1-7 1 2 1-1 1-10 1 6 1-7 1 12 1 1 1 2 1-9 1-4 1 17 1-8 1 0 1-5 1 9 1 5 1-16 1 16 1 0 1-17 1 8 1-1 1-1 1 5 1-11 1 3 1 5 1-5 1 1 1 5 1 1 1-3 1 7 1-16 1 15 1-2 1 1 1-4 1-2 1-4 1 7 1 3 1-2 1-8 1 4 1-7 1 29 1-16 1-5 1-4 1 15 1-18 1 1 1 6 1-20 1 12 1-2 1 19 1-24 1 22 1 1 1 11 1-3 1-23 1 10 1 1 1-2 1-7 1 5 1-5 1-1 1 7 1-4 1 9 1-9 1-9 1 9 1-1 1-3 1-2 1 6 1 4 1-13 1 8 1 9 1-20 1 24 1-14 1-4 1 1 1 22 1-15 1 5 1-2 1 7 1-11 1 9 1-9 1 9 1-15 1-4 1 6 1 3 1 13 1-10 1-4 1 4 1-4 1 2 1 3 1 3 1-7 1 11 1-15 1 3 1 6 1 3 1 0 1-7 1 3 1-13 1 8 1 15 1-7 1-9 1-3 1-9 1 18 1 3 1 4 1-12 1-4 1 6 1 5 1-3 1-11 1 5 1 7 1-12 1-1 1 8 1 0 1 5 1-6 1-3 1 1 1 10 1-10 1 6 1 7 1-14 1 7 1-2 1 4 1-6 1 20 1-5 1-9 1-12 1 9 1 9 1-21 1 15 1-2 1-3 1-2 1-2 1 8 1 13 1-18 1-5 1 16 1-7 1-3 1 2 1 1 1 3 1-7 1 6 1 4 1-8 1-2 1 10 1-14 1 21 1-17 1 1 1 5 1 5 1-9 1 4 1-4 1-9 1 23 1-4 1-6 1 5 1-14 1 6 1 6 1 1 1-3 1-14 1 16 1 9 1-16 1 4 1 3 1-2 1-5 1 10 1-27 1 15 1 5 1 0 1-4 1 1 1-1 1 5 1-10 1-1 1 3 1 14 1-10 1 5 1-9 1 14 1-8 1 2 1-3 1-4 1 9 1-13 1 0 1 5 1-1 1-1 1 9 1-6 1-4 1 7 1-8 1 10 1 7 1-12 1-4 1 15 1 8 1-23 1 3 1 17 1-21 1 6 1-4 1 1 1 7 1 9 1-17 1 15 1-7 1-6 1 1 1-13 1 7 1 8 1 3 1-3 1 6 1-6 1-12 1 8 1-1 1 9 1-4 1 8 1 3 1-9 1-9 1 16 1-5 1-1 1-5 1 1 1 2 1-5 1 5 1-1 1-1 1 1 1 1 1 2 1-2 1 2 1 5 1-5 1-7 1 5 1-5 1 4 1 0 1-6 1 4 1 10 1-4 1-3 1-4 1 6 1 1 1-12 1 10 1 6 1-8 1 2 1-9 1 3 1-4 1 15 1-7 1-1 1-1 1-5 1 10 1 0 1-5 1 4 1 4 1-7 1 0 1 2 1-5 1-12 1 8 1 10 1-3 1-10 1 9 1 0 1 6 1 3 1 16 1-21 1-5 1 6 1-5 1 12 1-14 1 4 1-5 1 10 1-4 1-8 1 1 1 1 1-6 1 6 1 6 1-2 1 0 1 15 1-1 1-12 1-8 1 2 1 11 1-6 1 2 1 6 1-17 1 17 1-12 1-7 1 10 1 16 1-7 1-13 1 7 1-7 1 10 1 2 1-5 1-5 1 0 1 9 1-1 1-2 1-5 1 1 1-3 1 1 1 3 1 5 1 3 1-13 1 2 1 0 1 14 1 1 1-3 1 5 1-20 1 8 1 8 1-7 1-2 1-7 1 5 1-1 1-14 1 21 1 4 1-13 1 1 1 2 1-1 1 5 1 1 1 5 1-6 1-7 1 8 1-8 1 3 1 4 1-2 1-7 1 8 1 0 1-8 1 4 1 2 1-7 1 10 1 2 1 7 1-15 1-1 1 8 1-8 1 5 1-1 1-3 1-12 1 10 1 8 1-10 1 6 1-2 1 8 1-9 1 8 1-14 1 17 1 0 1 0 1-7 1-4 1 11 1-9 1 3 1-7 1 10 1-5 1-4 1 9 1-3 1-8 1 6 1-7 1 9 1 7 1-10 1 1 1-1 1 9 1-14 1 1 1-3 1 3 1 8 1 11 1-27 1 12 1-6 1 4 1 5 1-9 1 11 1-12 1 1 1-1 1 8 1-1 1-6 1 14 1-7 1 3 1-13 1 0 1 10 1 4 1-5 1 13 1-14 1 0 1 0 1-5 1 7 1 1 1-3 1 17 1-13 1 4 1-8 1 10 1-9 1 4 1 2 1-8 1 5 1-4 1 7 1-11 1 6 1-7 1 12 1-5 1 4 1-2 1-15 1 19 1-1 1-10 1 0 1-8 1 27 1-10 1-19 1 19 1-2 1 3 1-4 1-5 1 4 1 7 1 4 1-7 1-9 1 15 1-8 1 12 1-13 1-2 1-3 1 3 1 3 1-3 1 4 1 5 1 6 1 17 1-29 1 0 1-7 1 13 1-9 1 9 1-17 1-1 1 11 1 15 1-18 1 4 1 9 1-16 1 6 1 7 1-5 1-2 1 1 1-5 1 5 1 1 1-6 1 10 1-14 1 2 1-24 1 26 1 6 1-1 1-1 1-7 1 9 1-1 1 0 1-1 1 3 1 4 1-10 1 0 1 2 1-5 1 1 1 1 1 5 1-6 1 14 1 6 1-9 1-6 1 4 1 17 1-19 1 1 1-3 1 2 1-12 1 26 1-23 1-4 1 6 1 4 1-2 1-17 1 20 1 8 1-25 1 27 1-12 1 1 1 0 1 3 1-4 1 3 1-4 1-7 1 5 1 6 1-1 1-6 1 9 1 0 1-7 1 3 1-11 1 15 1-1 1-4 1 6 1-2 1-2 1-1 1-3 1 7 1 2 1-6 1 2 1 4 1-17 1 15 1-1 1-3 1 2 1 0 1 8 1-14 1 8 1 10 1-24 1 17 1-7 1 8 1-9 1-7 1 12 1-6 1 9 1-9 1-6 1 7 1-8 1 2 1 11 1-16 1 6 1-8 1 18 1 1 1-4 1-7 1 10 1 3 1-12 1 12 1-2 1-4 1-8 1 10 1 1 1 4 1-13 1-1 1 2 1 5 1-1 1-9 1 4 1 11 1-6 1-4 1 8 1-3 1 0 1 6 1 6 1-7 1 4 1 7 1-25 1 0 1 11 1 8 1-3 1-5 1-9 1 8 1-10 1 4 1 4 1-4 1-12 1 17 1-3 1 6 1-14 1 6 1 7 1-9 1 7 1-1 1-1 1-9 1 18 1-10 1 0 1 21 1-24 1-11 1 12 1 4 1 6 1 3 1-8 1 4 1 0 1-5 1-5 1 13 1-8 1 0 1-5 1 7 1-1 1 3 1-4 1-2 1-5 1 27 1-24 1 14 1 7 1-18 1 1 1 6 1-12 1 6 1 21 1-21 1 12 1-6 1 0 1 2 1-6 1 4 1 4 1-1 1-3 1-1 1-8 1-4 1 5 1 2 1-10 1 16 1-1 1-8 1-1 1 5 1-3 1 0 1 1 1-1 1-10 1 10 1 2 1 6 1-7 1 9 1-9 1 3 1 9 1-16 1 7 1-5 1 6 1 0 1-1 1-8 1 5 1 10 1-7 1-4 1 0 1-3 1 9 1-6 1 0 1 17 1-15 1 6 1-3 1-1 1 2 1-13 1 6 1-3 1 8 1 6 1-9 1 2 1-4 1 4 1-1 1 7 1-14 1 15 1-6 1 1 1-7 1-6 1 12 1-7 1 4 1 3 1-17 1 16 1 0 1 8 1-7 1-6 1-12 1 11 1 18 1-6 1 3 1 5" stroke="#f00" stroke-width="0.85" vector-effect="non-scaling-stroke" fill="none"/>
</g>
<path d="M47.5 307.9V172.5" stroke="#f00" stroke-width="0.9" fill="none"/>
<rect x="45.5" y="10" width="439.5" height="325" fill="none" stroke="#000" stroke-width="1.7"/>
<path d="M54.00 335V327.7M97.10 335V330.7M140.20 335V327.7M183.30 335V330.7M226.40 335V327.7M269.50 335V330.7M312.60 335V327.7M355.70 335V330.7M398.80 335V327.7M441.90 335V330.7M89.40 10V13.8M133.35 10V17M177.30 10V13.8M221.25 10V17M265.20 10V13.8M309.15 10V17M353.10 10V13.8M397.05 10V17M441.00 10V13.8M45.5 307.92H49.0M45.5 280.83H52.0M45.5 253.75H49.0M45.5 226.67H52.0M45.5 199.58H49.0M45.5 172.50H52.0M45.5 145.42H49.0M45.5 118.33H52.0M45.5 91.25H49.0M45.5 64.17H52.0M45.5 37.08H49.0M485 42.50H481.7M485 75.00H479M485 107.50H481.7M485 140.00H479M485 172.50H481.7M485 205.00H479M485 237.50H481.7M485 270.00H479M485 302.50H481.7" stroke="#000" stroke-width="1.5" fill="none"/>
<g font-size="20"><text x="54.0" y="358.1" text-anchor="middle">100</text><text x="140.2" y="358.1" text-anchor="middle">150</text><text x="226.4" y="358.1" text-anchor="middle">200</text><text x="312.6" y="358.1" text-anchor="middle">250</text><text x="398.8" y="358.1" text-anchor="middle">300</text><text x="485.0" y="358.1" text-anchor="middle">350</text><text x="38" y="341.4" text-anchor="end">-6</text><text x="38" y="287.2" text-anchor="end">-4</text><text x="38" y="233.1" text-anchor="end">-2</text><text x="38" y="178.9" text-anchor="end">0</text><text x="38" y="124.7" text-anchor="end">2</text><text x="38" y="70.6" text-anchor="end">4</text><text x="38" y="16.4" text-anchor="end">6</text></g>
<text x="270.8" y="378" font-size="20" letter-spacing="0.18" text-anchor="middle">Flight time (s)</text>
<text transform="translate(17.4,166.5) rotate(-90)" font-size="20.5" text-anchor="middle">Gaussian noise</text>
<rect x="316.8" y="19" width="159.6" height="39.8" fill="#fff" stroke="#555" stroke-width="1.2"/>
<path d="M324 29.8H359.5" stroke="#5c5c5c" stroke-width="1.3"/>
<path d="M324 49.4H359.5" stroke="#ff3c3c" stroke-width="1.05"/>
<text x="367" y="35.3" font-size="16">true value</text>
<text x="367" y="55.4" font-size="16">estimation value</text>
</svg>
</body></html>
